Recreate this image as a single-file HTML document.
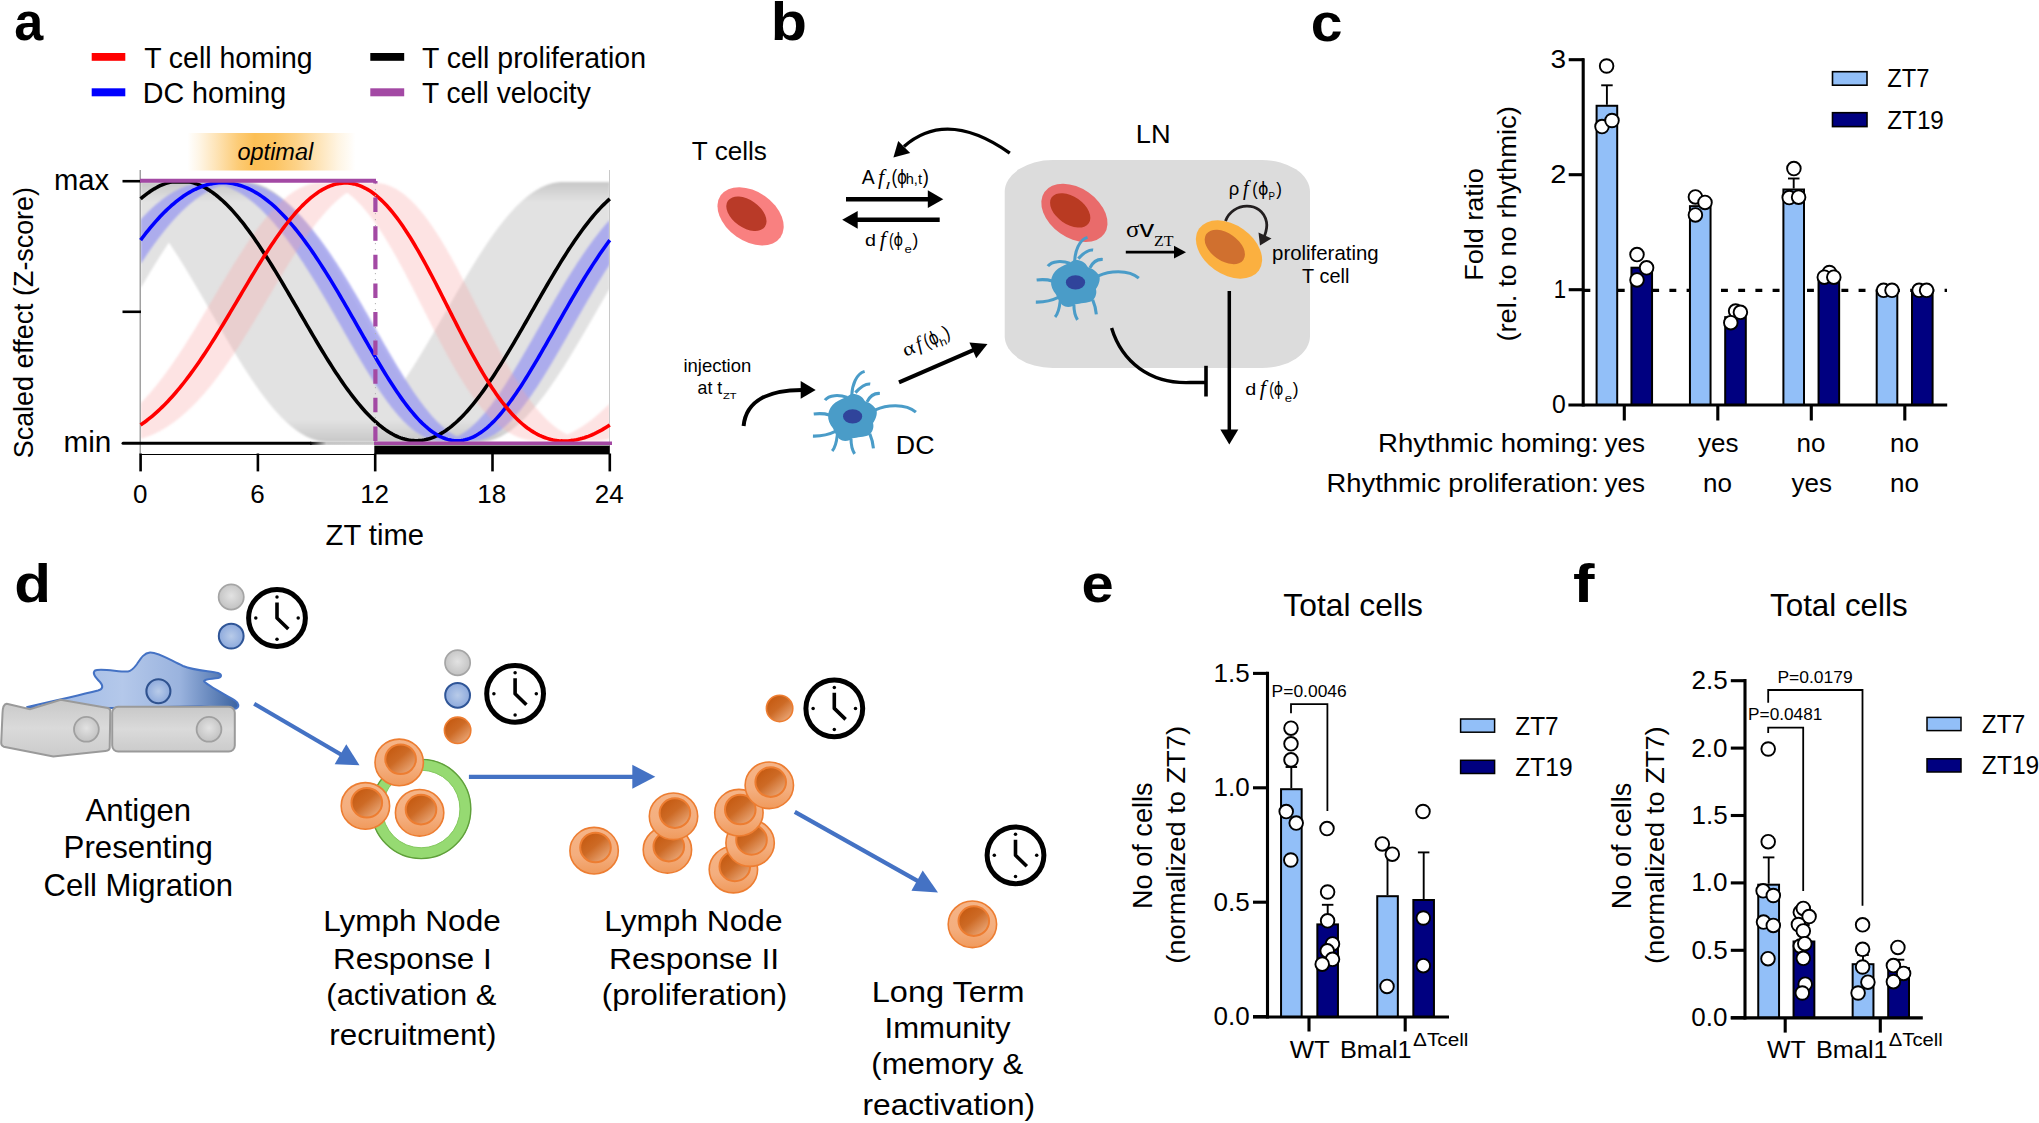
<!DOCTYPE html>
<html><head><meta charset="utf-8"><title>Figure</title>
<style>
html,body{margin:0;padding:0;background:#fff;overflow:hidden;}
svg{display:block;}
text{font-family:"Liberation Sans",Arial,sans-serif;fill:#000;}
.serif{font-family:"Liberation Serif","Times New Roman",serif;}
</style></head>
<body>
<svg width="2039" height="1123" viewBox="0 0 2039 1123">
<rect width="2039" height="1123" fill="#fff"/>
<defs><linearGradient id="optg" x1="0" x2="1" y1="0" y2="0"><stop offset="0" stop-color="#fcbf55" stop-opacity="0"/><stop offset="0.07" stop-color="#fcbf55" stop-opacity="0.15"/><stop offset="0.18" stop-color="#fcbf55" stop-opacity="0.45"/><stop offset="0.30" stop-color="#fcbf55" stop-opacity="0.8"/><stop offset="0.40" stop-color="#fcbf55" stop-opacity="1"/><stop offset="0.52" stop-color="#fcbf55" stop-opacity="0.92"/><stop offset="0.65" stop-color="#fcbf55" stop-opacity="0.7"/><stop offset="0.78" stop-color="#fcbf55" stop-opacity="0.42"/><stop offset="0.90" stop-color="#fcbf55" stop-opacity="0.16"/><stop offset="1" stop-color="#fcbf55" stop-opacity="0"/></linearGradient><filter id="soft" x="-5%" y="-5%" width="110%" height="110%"><feGaussianBlur stdDeviation="1.2"/></filter><filter id="soft2" x="-5%" y="-5%" width="110%" height="110%"><feGaussianBlur stdDeviation="0.8"/></filter><linearGradient id="minfade" x1="0" x2="1"><stop offset="0" stop-color="#000"/><stop offset="0.25" stop-color="#c6c6c6"/><stop offset="1" stop-color="#c8c8c8"/></linearGradient><clipPath id="plotclip"><rect x="140.6" y="179" width="469.2" height="266"/></clipPath></defs>
<rect x="187.5" y="133" width="168" height="37.5" fill="url(#optg)"/>
<text x="237.50" y="160.00" font-size="23" font-style="italic" textLength="75.71" lengthAdjust="spacingAndGlyphs">optimal</text>
<rect x="91.7" y="53" width="33.6" height="7.8" fill="#ff0000"/>
<rect x="91.7" y="88.3" width="33.6" height="8" fill="#0000ff"/>
<rect x="370.3" y="53" width="33.9" height="7.8" fill="#000"/>
<rect x="370.3" y="88.3" width="33.9" height="8" fill="#a349a4"/>
<text x="144.13" y="68.30" font-size="29" textLength="168.48" lengthAdjust="spacingAndGlyphs">T cell homing</text>
<text x="142.71" y="102.50" font-size="29" textLength="143.42" lengthAdjust="spacingAndGlyphs">DC homing</text>
<text x="421.93" y="68.30" font-size="29" textLength="224.10" lengthAdjust="spacingAndGlyphs">T cell proliferation</text>
<text x="421.94" y="102.50" font-size="29" textLength="168.82" lengthAdjust="spacingAndGlyphs">T cell velocity</text>
<g clip-path="url(#plotclip)">
<clipPath id="gbclip"><path d="M140.60,182.00 L141.09,182.00 L141.58,182.00 L142.07,182.00 L142.56,182.00 L143.04,182.00 L143.53,182.00 L144.02,182.00 L144.51,182.00 L145.00,182.00 L145.49,182.00 L145.98,182.00 L146.47,182.00 L146.95,182.00 L147.44,182.00 L147.93,182.00 L148.42,182.00 L148.91,182.00 L149.40,182.00 L149.89,182.00 L150.38,182.00 L150.86,182.00 L151.35,182.00 L151.84,182.00 L152.33,182.00 L152.82,182.00 L153.31,182.00 L153.80,182.00 L154.28,182.00 L154.77,182.00 L155.26,182.00 L155.75,182.00 L156.24,182.00 L156.73,182.00 L157.22,182.00 L157.71,182.00 L158.19,182.00 L158.68,182.00 L159.17,182.00 L159.66,182.00 L160.15,182.00 L160.64,182.00 L161.13,182.00 L161.62,182.00 L162.10,182.00 L162.59,182.00 L163.08,182.00 L163.57,182.00 L164.06,182.00 L164.55,182.00 L165.04,182.00 L165.53,182.00 L166.01,182.00 L166.50,182.00 L166.99,182.00 L167.48,182.00 L167.97,182.00 L168.46,182.00 L168.95,182.00 L169.44,182.00 L169.93,182.00 L170.41,182.00 L170.90,182.00 L171.39,182.00 L171.88,182.00 L172.37,182.00 L172.86,182.00 L173.35,182.00 L173.84,182.00 L174.32,182.00 L174.81,182.00 L175.30,182.00 L175.79,182.00 L176.28,182.00 L176.77,182.00 L177.26,182.00 L177.75,182.00 L178.23,182.00 L178.72,182.00 L179.21,182.00 L179.70,182.00 L180.19,182.00 L180.68,182.00 L181.17,182.00 L181.66,182.00 L182.14,182.00 L182.63,182.00 L183.12,182.00 L183.61,182.00 L184.10,182.00 L184.59,182.00 L185.08,182.00 L185.56,182.00 L186.05,182.00 L186.54,182.00 L187.03,182.00 L187.52,182.00 L188.01,182.00 L188.50,182.00 L188.99,182.00 L189.47,182.00 L189.96,182.00 L190.45,182.00 L190.94,182.00 L191.43,182.00 L191.92,182.00 L192.41,182.00 L192.90,182.00 L193.38,182.00 L193.87,182.00 L194.36,182.00 L194.85,182.00 L195.34,182.00 L195.83,182.00 L196.32,182.00 L196.81,182.00 L197.30,182.00 L197.78,182.00 L198.27,182.00 L198.76,182.00 L199.25,182.00 L199.74,182.00 L200.23,182.00 L200.72,182.00 L201.20,182.00 L201.69,182.00 L202.18,182.00 L202.67,182.00 L203.16,182.00 L203.65,182.00 L204.14,182.00 L204.63,182.00 L205.12,182.00 L205.60,182.00 L206.09,182.00 L206.58,182.00 L207.07,182.00 L207.56,182.00 L208.05,182.00 L208.54,182.00 L209.02,182.00 L209.51,182.00 L210.00,182.00 L210.49,182.00 L210.98,182.00 L211.47,182.00 L211.96,182.00 L212.45,182.00 L212.94,182.00 L213.42,182.00 L213.91,182.00 L214.40,182.00 L214.89,182.00 L215.38,182.00 L215.87,182.00 L216.36,182.00 L216.84,182.00 L217.33,182.00 L217.82,182.00 L218.31,182.00 L218.80,182.00 L219.29,182.00 L219.78,182.00 L220.27,182.00 L220.75,182.00 L221.24,182.00 L221.73,182.00 L222.22,182.00 L222.71,182.00 L223.20,182.00 L223.69,182.00 L224.18,182.00 L224.66,182.00 L225.15,182.00 L225.64,182.00 L226.13,182.00 L226.62,182.00 L227.11,182.00 L227.60,182.00 L228.09,182.00 L228.57,182.00 L229.06,182.00 L229.55,182.00 L230.04,182.00 L230.53,182.00 L231.02,182.00 L231.51,182.00 L232.00,182.00 L232.49,182.00 L232.97,182.00 L233.46,182.00 L233.95,182.00 L234.44,182.00 L234.93,182.00 L235.42,182.00 L235.91,182.00 L236.40,182.00 L236.88,182.00 L237.37,182.00 L237.86,182.00 L238.35,182.00 L238.84,182.00 L239.33,182.00 L239.82,182.00 L240.31,182.00 L240.79,182.00 L241.28,182.00 L241.77,182.00 L242.26,182.00 L242.75,182.00 L243.24,182.00 L243.73,182.00 L244.22,182.00 L244.70,182.00 L245.19,182.01 L245.68,182.03 L246.17,182.04 L246.66,182.07 L247.15,182.10 L247.64,182.14 L248.12,182.18 L248.61,182.23 L249.10,182.28 L249.59,182.34 L250.08,182.40 L250.57,182.47 L251.06,182.55 L251.55,182.63 L252.03,182.71 L252.52,182.80 L253.01,182.90 L253.50,183.00 L253.99,183.11 L254.48,183.23 L254.97,183.35 L255.46,183.47 L255.94,183.60 L256.43,183.74 L256.92,183.88 L257.41,184.02 L257.90,184.18 L258.39,184.33 L258.88,184.50 L259.37,184.67 L259.86,184.84 L260.34,185.02 L260.83,185.21 L261.32,185.40 L261.81,185.59 L262.30,185.79 L262.79,186.00 L263.28,186.21 L263.76,186.43 L264.25,186.65 L264.74,186.88 L265.23,187.11 L265.72,187.35 L266.21,187.60 L266.70,187.85 L267.19,188.10 L267.68,188.36 L268.16,188.63 L268.65,188.90 L269.14,189.18 L269.63,189.46 L270.12,189.74 L270.61,190.04 L271.10,190.33 L271.59,190.63 L272.07,190.94 L272.56,191.25 L273.05,191.57 L273.54,191.90 L274.03,192.22 L274.52,192.56 L275.01,192.90 L275.50,193.24 L275.98,193.59 L276.47,193.94 L276.96,194.30 L277.45,194.66 L277.94,195.03 L278.43,195.41 L278.92,195.79 L279.40,196.17 L279.89,196.56 L280.38,196.95 L280.87,197.35 L281.36,197.75 L281.85,198.16 L282.34,198.58 L282.83,198.99 L283.32,199.42 L283.80,199.84 L284.29,200.28 L284.78,200.71 L285.27,201.16 L285.76,201.60 L286.25,202.06 L286.74,202.51 L287.23,202.97 L287.71,203.44 L288.20,203.91 L288.69,204.38 L289.18,204.86 L289.67,205.35 L290.16,205.84 L290.65,206.33 L291.13,206.83 L291.62,207.33 L292.11,207.84 L292.60,208.35 L293.09,208.86 L293.58,209.38 L294.07,209.91 L294.56,210.44 L295.05,210.97 L295.53,211.51 L296.02,212.05 L296.51,212.60 L297.00,213.15 L297.49,213.70 L297.98,214.26 L298.47,214.82 L298.95,215.39 L299.44,215.96 L299.93,216.54 L300.42,217.12 L300.91,217.70 L301.40,218.29 L301.89,218.88 L302.38,219.48 L302.87,220.08 L303.35,220.68 L303.84,221.29 L304.33,221.90 L304.82,222.51 L305.31,223.13 L305.80,223.76 L306.29,224.38 L306.77,225.01 L307.26,225.65 L307.75,226.29 L308.24,226.93 L308.73,227.57 L309.22,228.22 L309.71,228.87 L310.20,229.53 L310.69,230.19 L311.17,230.85 L311.66,231.52 L312.15,232.19 L312.64,232.86 L313.13,233.54 L313.62,234.22 L314.11,234.90 L314.60,235.59 L315.08,236.28 L315.57,236.97 L316.06,237.67 L316.55,238.37 L317.04,239.07 L317.53,239.78 L318.02,240.48 L318.50,241.20 L318.99,241.91 L319.48,242.63 L319.97,243.35 L320.46,244.08 L320.95,244.80 L321.44,245.53 L321.93,246.26 L322.42,247.00 L322.90,247.74 L323.39,248.48 L323.88,249.22 L324.37,249.97 L324.86,250.72 L325.35,251.47 L325.84,252.22 L326.32,252.98 L326.81,253.74 L327.30,254.50 L327.79,255.27 L328.28,256.03 L328.77,256.80 L329.26,257.57 L329.75,258.35 L330.24,259.12 L330.72,259.90 L331.21,260.68 L331.70,261.47 L332.19,262.25 L332.68,263.04 L333.17,263.83 L333.66,264.62 L334.14,265.41 L334.63,266.21 L335.12,267.00 L335.61,267.80 L336.10,268.61 L336.59,269.41 L337.08,270.21 L337.57,271.02 L338.06,271.83 L338.54,272.64 L339.03,273.45 L339.52,274.26 L340.01,275.08 L340.50,275.89 L340.99,276.71 L341.48,277.53 L341.97,278.35 L342.45,279.18 L342.94,280.00 L343.43,280.83 L343.92,281.65 L344.41,282.48 L344.90,283.31 L345.39,284.14 L345.88,284.97 L346.36,285.80 L346.85,286.64 L347.34,287.47 L347.83,288.31 L348.32,289.15 L348.81,289.98 L349.30,290.82 L349.79,291.66 L350.27,292.50 L350.76,293.35 L351.25,294.19 L351.74,295.03 L352.23,295.88 L352.72,296.72 L353.21,297.57 L353.70,298.41 L354.18,299.26 L354.67,300.10 L355.16,300.95 L355.65,301.80 L356.14,302.65 L356.63,303.50 L357.12,304.35 L357.61,305.20 L358.09,306.05 L358.58,306.90 L359.07,307.75 L359.56,308.60 L360.05,309.45 L360.54,310.30 L361.03,311.15 L361.51,312.00 L362.00,312.85 L362.49,313.70 L362.98,314.55 L363.47,315.40 L363.96,316.25 L364.45,317.10 L364.94,317.95 L365.43,318.80 L365.91,319.65 L366.40,320.50 L366.89,321.35 L367.38,322.20 L367.87,323.05 L368.36,323.90 L368.85,324.74 L369.34,325.59 L369.82,326.43 L370.31,327.28 L370.80,328.12 L371.29,328.97 L371.78,329.81 L372.27,330.65 L372.76,331.50 L373.25,332.34 L373.73,333.18 L374.22,334.02 L374.71,334.85 L375.20,335.69 L375.69,336.53 L376.18,337.36 L376.67,338.20 L377.16,339.03 L377.64,339.86 L378.13,340.69 L378.62,341.52 L379.11,342.35 L379.60,343.17 L380.09,344.00 L380.58,344.82 L381.07,345.65 L381.55,346.47 L382.04,347.29 L382.53,348.11 L383.02,348.92 L383.51,349.74 L384.00,350.55 L384.49,351.36 L384.98,352.17 L385.46,352.98 L385.95,353.79 L386.44,354.59 L386.93,355.39 L387.42,356.20 L387.91,357.00 L388.40,357.79 L388.88,358.59 L389.37,359.38 L389.86,360.17 L390.35,360.96 L390.84,361.75 L391.33,362.53 L391.82,363.32 L392.31,364.10 L392.80,364.88 L393.28,365.65 L393.77,366.43 L394.26,367.20 L394.75,367.97 L395.24,368.73 L395.73,369.50 L396.22,370.26 L396.71,371.02 L397.19,371.78 L397.68,372.53 L398.17,373.28 L398.66,374.03 L399.15,374.78 L399.64,375.52 L400.13,376.26 L400.62,377.00 L401.10,377.74 L401.59,378.47 L402.08,379.20 L402.57,379.92 L403.06,380.65 L403.55,381.37 L404.04,380.65 L404.52,379.92 L405.01,379.20 L405.50,378.47 L405.99,377.74 L406.48,377.00 L406.97,376.26 L407.46,375.52 L407.95,374.78 L408.44,374.03 L408.92,373.28 L409.41,372.53 L409.90,371.78 L410.39,371.02 L410.88,370.26 L411.37,369.50 L411.86,368.73 L412.35,367.97 L412.83,367.20 L413.32,366.43 L413.81,365.65 L414.30,364.88 L414.79,364.10 L415.28,363.32 L415.77,362.53 L416.25,361.75 L416.74,360.96 L417.23,360.17 L417.72,359.38 L418.21,358.59 L418.70,357.79 L419.19,357.00 L419.68,356.20 L420.16,355.39 L420.65,354.59 L421.14,353.79 L421.63,352.98 L422.12,352.17 L422.61,351.36 L423.10,350.55 L423.59,349.74 L424.08,348.92 L424.56,348.11 L425.05,347.29 L425.54,346.47 L426.03,345.65 L426.52,344.82 L427.01,344.00 L427.50,343.17 L427.99,342.35 L428.47,341.52 L428.96,340.69 L429.45,339.86 L429.94,339.03 L430.43,338.20 L430.92,337.36 L431.41,336.53 L431.89,335.69 L432.38,334.85 L432.87,334.02 L433.36,333.18 L433.85,332.34 L434.34,331.50 L434.83,330.65 L435.32,329.81 L435.81,328.97 L436.29,328.12 L436.78,327.28 L437.27,326.43 L437.76,325.59 L438.25,324.74 L438.74,323.90 L439.23,323.05 L439.72,322.20 L440.20,321.35 L440.69,320.50 L441.18,319.65 L441.67,318.80 L442.16,317.95 L442.65,317.10 L443.14,316.25 L443.62,315.40 L444.11,314.55 L444.60,313.70 L445.09,312.85 L445.58,312.00 L446.07,311.15 L446.56,310.30 L447.05,309.45 L447.54,308.60 L448.02,307.75 L448.51,306.90 L449.00,306.05 L449.49,305.20 L449.98,304.35 L450.47,303.50 L450.96,302.65 L451.45,301.80 L451.93,300.95 L452.42,300.10 L452.91,299.26 L453.40,298.41 L453.89,297.57 L454.38,296.72 L454.87,295.88 L455.36,295.03 L455.84,294.19 L456.33,293.35 L456.82,292.50 L457.31,291.66 L457.80,290.82 L458.29,289.98 L458.78,289.15 L459.26,288.31 L459.75,287.47 L460.24,286.64 L460.73,285.80 L461.22,284.97 L461.71,284.14 L462.20,283.31 L462.69,282.48 L463.17,281.65 L463.66,280.83 L464.15,280.00 L464.64,279.18 L465.13,278.35 L465.62,277.53 L466.11,276.71 L466.60,275.89 L467.09,275.08 L467.57,274.26 L468.06,273.45 L468.55,272.64 L469.04,271.83 L469.53,271.02 L470.02,270.21 L470.51,269.41 L471.00,268.61 L471.48,267.80 L471.97,267.00 L472.46,266.21 L472.95,265.41 L473.44,264.62 L473.93,263.83 L474.42,263.04 L474.91,262.25 L475.39,261.47 L475.88,260.68 L476.37,259.90 L476.86,259.12 L477.35,258.35 L477.84,257.57 L478.33,256.80 L478.82,256.03 L479.30,255.27 L479.79,254.50 L480.28,253.74 L480.77,252.98 L481.26,252.22 L481.75,251.47 L482.24,250.72 L482.73,249.97 L483.21,249.22 L483.70,248.48 L484.19,247.74 L484.68,247.00 L485.17,246.26 L485.66,245.53 L486.15,244.80 L486.63,244.08 L487.12,243.35 L487.61,242.63 L488.10,241.91 L488.59,241.20 L489.08,240.48 L489.57,239.78 L490.06,239.07 L490.55,238.37 L491.03,237.67 L491.52,236.97 L492.01,236.28 L492.50,235.59 L492.99,234.90 L493.48,234.22 L493.97,233.54 L494.46,232.86 L494.94,232.19 L495.43,231.52 L495.92,230.85 L496.41,230.19 L496.90,229.53 L497.39,228.87 L497.88,228.22 L498.37,227.57 L498.85,226.93 L499.34,226.29 L499.83,225.65 L500.32,225.01 L500.81,224.38 L501.30,223.76 L501.79,223.13 L502.27,222.51 L502.76,221.90 L503.25,221.29 L503.74,220.68 L504.23,220.08 L504.72,219.48 L505.21,218.88 L505.70,218.29 L506.18,217.70 L506.67,217.12 L507.16,216.54 L507.65,215.96 L508.14,215.39 L508.63,214.82 L509.12,214.26 L509.61,213.70 L510.10,213.15 L510.58,212.60 L511.07,212.05 L511.56,211.51 L512.05,210.97 L512.54,210.44 L513.03,209.91 L513.52,209.38 L514.00,208.86 L514.49,208.35 L514.98,207.84 L515.47,207.33 L515.96,206.83 L516.45,206.33 L516.94,205.84 L517.43,205.35 L517.92,204.86 L518.40,204.38 L518.89,203.91 L519.38,203.44 L519.87,202.97 L520.36,202.51 L520.85,202.06 L521.34,201.60 L521.83,201.16 L522.31,200.71 L522.80,200.28 L523.29,199.84 L523.78,199.42 L524.27,198.99 L524.76,198.58 L525.25,198.16 L525.74,197.75 L526.22,197.35 L526.71,196.95 L527.20,196.56 L527.69,196.17 L528.18,195.79 L528.67,195.41 L529.16,195.03 L529.65,194.66 L530.13,194.30 L530.62,193.94 L531.11,193.59 L531.60,193.24 L532.09,192.90 L532.58,192.56 L533.07,192.22 L533.56,191.90 L534.04,191.57 L534.53,191.25 L535.02,190.94 L535.51,190.63 L536.00,190.33 L536.49,190.04 L536.98,189.74 L537.47,189.46 L537.95,189.18 L538.44,188.90 L538.93,188.63 L539.42,188.36 L539.91,188.10 L540.40,187.85 L540.89,187.60 L541.38,187.35 L541.86,187.11 L542.35,186.88 L542.84,186.65 L543.33,186.43 L543.82,186.21 L544.31,186.00 L544.80,185.79 L545.29,185.59 L545.77,185.40 L546.26,185.21 L546.75,185.02 L547.24,184.84 L547.73,184.67 L548.22,184.50 L548.71,184.33 L549.20,184.18 L549.68,184.02 L550.17,183.88 L550.66,183.74 L551.15,183.60 L551.64,183.47 L552.13,183.35 L552.62,183.23 L553.11,183.11 L553.59,183.00 L554.08,182.90 L554.57,182.80 L555.06,182.71 L555.55,182.63 L556.04,182.55 L556.53,182.47 L557.01,182.40 L557.50,182.34 L557.99,182.28 L558.48,182.23 L558.97,182.18 L559.46,182.14 L559.95,182.10 L560.44,182.07 L560.92,182.04 L561.41,182.03 L561.90,182.01 L562.39,182.00 L562.88,182.00 L563.37,182.00 L563.86,182.00 L564.35,182.00 L564.84,182.00 L565.32,182.00 L565.81,182.00 L566.30,182.00 L566.79,182.00 L567.28,182.00 L567.77,182.00 L568.26,182.00 L568.75,182.00 L569.23,182.00 L569.72,182.00 L570.21,182.00 L570.70,182.00 L571.19,182.00 L571.68,182.00 L572.17,182.00 L572.66,182.00 L573.14,182.00 L573.63,182.00 L574.12,182.00 L574.61,182.00 L575.10,182.00 L575.59,182.00 L576.08,182.00 L576.57,182.00 L577.05,182.00 L577.54,182.00 L578.03,182.00 L578.52,182.00 L579.01,182.00 L579.50,182.00 L579.99,182.00 L580.48,182.00 L580.96,182.00 L581.45,182.00 L581.94,182.00 L582.43,182.00 L582.92,182.00 L583.41,182.00 L583.90,182.00 L584.39,182.00 L584.87,182.00 L585.36,182.00 L585.85,182.00 L586.34,182.00 L586.83,182.00 L587.32,182.00 L587.81,182.00 L588.30,182.00 L588.78,182.00 L589.27,182.00 L589.76,182.00 L590.25,182.00 L590.74,182.00 L591.23,182.00 L591.72,182.00 L592.21,182.00 L592.69,182.00 L593.18,182.00 L593.67,182.00 L594.16,182.00 L594.65,182.00 L595.14,182.00 L595.63,182.00 L596.12,182.00 L596.60,182.00 L597.09,182.00 L597.58,182.00 L598.07,182.00 L598.56,182.00 L599.05,182.00 L599.54,182.00 L600.02,182.00 L600.51,182.00 L601.00,182.00 L601.49,182.00 L601.98,182.00 L602.47,182.00 L602.96,182.00 L603.45,182.00 L603.94,182.00 L604.42,182.00 L604.91,182.00 L605.40,182.00 L605.89,182.00 L606.38,182.00 L606.87,182.00 L607.36,182.00 L607.85,182.00 L608.33,182.00 L608.82,182.00 L609.31,182.00 L609.80,182.00 L609.80,288.31 L609.31,289.15 L608.82,289.98 L608.33,290.82 L607.85,291.66 L607.36,292.50 L606.87,293.35 L606.38,294.19 L605.89,295.03 L605.40,295.88 L604.91,296.72 L604.42,297.57 L603.94,298.41 L603.45,299.26 L602.96,300.10 L602.47,300.95 L601.98,301.80 L601.49,302.65 L601.00,303.50 L600.51,304.35 L600.02,305.20 L599.54,306.05 L599.05,306.90 L598.56,307.75 L598.07,308.60 L597.58,309.45 L597.09,310.30 L596.60,311.15 L596.12,312.00 L595.63,312.85 L595.14,313.70 L594.65,314.55 L594.16,315.40 L593.67,316.25 L593.18,317.10 L592.69,317.95 L592.21,318.80 L591.72,319.65 L591.23,320.50 L590.74,321.35 L590.25,322.20 L589.76,323.05 L589.27,323.90 L588.78,324.74 L588.30,325.59 L587.81,326.43 L587.32,327.28 L586.83,328.12 L586.34,328.97 L585.85,329.81 L585.36,330.65 L584.87,331.50 L584.39,332.34 L583.90,333.18 L583.41,334.02 L582.92,334.85 L582.43,335.69 L581.94,336.53 L581.45,337.36 L580.96,338.20 L580.48,339.03 L579.99,339.86 L579.50,340.69 L579.01,341.52 L578.52,342.35 L578.03,343.17 L577.54,344.00 L577.05,344.82 L576.57,345.65 L576.08,346.47 L575.59,347.29 L575.10,348.11 L574.61,348.92 L574.12,349.74 L573.63,350.55 L573.14,351.36 L572.66,352.17 L572.17,352.98 L571.68,353.79 L571.19,354.59 L570.70,355.39 L570.21,356.20 L569.72,357.00 L569.23,357.79 L568.75,358.59 L568.26,359.38 L567.77,360.17 L567.28,360.96 L566.79,361.75 L566.30,362.53 L565.81,363.32 L565.32,364.10 L564.84,364.88 L564.35,365.65 L563.86,366.43 L563.37,367.20 L562.88,367.97 L562.39,368.73 L561.90,369.50 L561.41,370.26 L560.92,371.02 L560.44,371.78 L559.95,372.53 L559.46,373.28 L558.97,374.03 L558.48,374.78 L557.99,375.52 L557.50,376.26 L557.01,377.00 L556.53,377.74 L556.04,378.47 L555.55,379.20 L555.06,379.92 L554.57,380.65 L554.08,381.37 L553.59,382.09 L553.11,382.80 L552.62,383.52 L552.13,384.22 L551.64,384.93 L551.15,385.63 L550.66,386.33 L550.17,387.03 L549.68,387.72 L549.20,388.41 L548.71,389.10 L548.22,389.78 L547.73,390.46 L547.24,391.14 L546.75,391.81 L546.26,392.48 L545.77,393.15 L545.29,393.81 L544.80,394.47 L544.31,395.13 L543.82,395.78 L543.33,396.43 L542.84,397.07 L542.35,397.71 L541.86,398.35 L541.38,398.99 L540.89,399.62 L540.40,400.24 L539.91,400.87 L539.42,401.49 L538.93,402.10 L538.44,402.71 L537.95,403.32 L537.47,403.92 L536.98,404.52 L536.49,405.12 L536.00,405.71 L535.51,406.30 L535.02,406.88 L534.53,407.46 L534.04,408.04 L533.56,408.61 L533.07,409.18 L532.58,409.74 L532.09,410.30 L531.60,410.85 L531.11,411.40 L530.62,411.95 L530.13,412.49 L529.65,413.03 L529.16,413.56 L528.67,414.09 L528.18,414.62 L527.69,415.14 L527.20,415.65 L526.71,416.16 L526.22,416.67 L525.74,417.17 L525.25,417.67 L524.76,418.16 L524.27,418.65 L523.78,419.14 L523.29,419.62 L522.80,420.09 L522.31,420.56 L521.83,421.03 L521.34,421.49 L520.85,421.94 L520.36,422.40 L519.87,422.84 L519.38,423.29 L518.89,423.72 L518.40,424.16 L517.92,424.58 L517.43,425.01 L516.94,425.42 L516.45,425.84 L515.96,426.25 L515.47,426.65 L514.98,427.05 L514.49,427.44 L514.00,427.83 L513.52,428.21 L513.03,428.59 L512.54,428.97 L512.05,429.34 L511.56,429.70 L511.07,430.06 L510.58,430.41 L510.10,430.76 L509.61,431.10 L509.12,431.44 L508.63,431.78 L508.14,432.10 L507.65,432.43 L507.16,432.75 L506.67,433.06 L506.18,433.37 L505.70,433.67 L505.21,433.96 L504.72,434.26 L504.23,434.54 L503.74,434.82 L503.25,435.10 L502.76,435.37 L502.27,435.64 L501.79,435.90 L501.30,436.15 L500.81,436.40 L500.32,436.65 L499.83,436.89 L499.34,437.12 L498.85,437.35 L498.37,437.57 L497.88,437.79 L497.39,438.00 L496.90,438.21 L496.41,438.41 L495.92,438.60 L495.43,438.79 L494.94,438.98 L494.46,439.16 L493.97,439.33 L493.48,439.50 L492.99,439.67 L492.50,439.82 L492.01,439.98 L491.52,440.12 L491.03,440.26 L490.55,440.40 L490.06,440.53 L489.57,440.65 L489.08,440.77 L488.59,440.89 L488.10,441.00 L487.61,441.10 L487.12,441.20 L486.63,441.29 L486.15,441.37 L485.66,441.45 L485.17,441.53 L484.68,441.60 L484.19,441.66 L483.70,441.72 L483.21,441.77 L482.73,441.82 L482.24,441.86 L481.75,441.90 L481.26,441.93 L480.77,441.96 L480.28,441.97 L479.79,441.99 L479.30,442.00 L478.82,442.00 L478.33,442.00 L477.84,442.00 L477.35,442.00 L476.86,442.00 L476.37,442.00 L475.88,442.00 L475.39,442.00 L474.91,442.00 L474.42,442.00 L473.93,442.00 L473.44,442.00 L472.95,442.00 L472.46,442.00 L471.97,442.00 L471.48,442.00 L471.00,442.00 L470.51,442.00 L470.02,442.00 L469.53,442.00 L469.04,442.00 L468.55,442.00 L468.06,442.00 L467.57,442.00 L467.09,442.00 L466.60,442.00 L466.11,442.00 L465.62,442.00 L465.13,442.00 L464.64,442.00 L464.15,442.00 L463.66,442.00 L463.17,442.00 L462.69,442.00 L462.20,442.00 L461.71,442.00 L461.22,442.00 L460.73,442.00 L460.24,442.00 L459.75,442.00 L459.26,442.00 L458.78,442.00 L458.29,442.00 L457.80,442.00 L457.31,442.00 L456.82,442.00 L456.33,442.00 L455.84,442.00 L455.36,442.00 L454.87,442.00 L454.38,442.00 L453.89,442.00 L453.40,442.00 L452.91,442.00 L452.42,442.00 L451.93,442.00 L451.45,442.00 L450.96,442.00 L450.47,442.00 L449.98,442.00 L449.49,442.00 L449.00,442.00 L448.51,442.00 L448.02,442.00 L447.54,442.00 L447.05,442.00 L446.56,442.00 L446.07,442.00 L445.58,442.00 L445.09,442.00 L444.60,442.00 L444.11,442.00 L443.62,442.00 L443.14,442.00 L442.65,442.00 L442.16,442.00 L441.67,442.00 L441.18,442.00 L440.69,442.00 L440.20,442.00 L439.72,442.00 L439.23,442.00 L438.74,442.00 L438.25,442.00 L437.76,442.00 L437.27,442.00 L436.78,442.00 L436.29,442.00 L435.81,442.00 L435.32,442.00 L434.83,442.00 L434.34,442.00 L433.85,442.00 L433.36,442.00 L432.87,442.00 L432.38,442.00 L431.89,442.00 L431.41,442.00 L430.92,442.00 L430.43,442.00 L429.94,442.00 L429.45,442.00 L428.96,442.00 L428.47,442.00 L427.99,442.00 L427.50,442.00 L427.01,442.00 L426.52,442.00 L426.03,442.00 L425.54,442.00 L425.05,442.00 L424.56,442.00 L424.08,442.00 L423.59,442.00 L423.10,442.00 L422.61,442.00 L422.12,442.00 L421.63,442.00 L421.14,442.00 L420.65,442.00 L420.16,442.00 L419.68,442.00 L419.19,442.00 L418.70,442.00 L418.21,442.00 L417.72,442.00 L417.23,442.00 L416.74,442.00 L416.25,442.00 L415.77,442.00 L415.28,442.00 L414.79,442.00 L414.30,442.00 L413.81,442.00 L413.32,442.00 L412.83,442.00 L412.35,442.00 L411.86,442.00 L411.37,442.00 L410.88,442.00 L410.39,442.00 L409.90,442.00 L409.41,442.00 L408.92,442.00 L408.44,442.00 L407.95,442.00 L407.46,442.00 L406.97,442.00 L406.48,442.00 L405.99,442.00 L405.50,442.00 L405.01,442.00 L404.52,442.00 L404.04,442.00 L403.55,442.00 L403.06,442.00 L402.57,442.00 L402.08,442.00 L401.59,442.00 L401.10,442.00 L400.62,442.00 L400.13,442.00 L399.64,442.00 L399.15,442.00 L398.66,442.00 L398.17,442.00 L397.68,442.00 L397.19,442.00 L396.71,442.00 L396.22,442.00 L395.73,442.00 L395.24,442.00 L394.75,442.00 L394.26,442.00 L393.77,442.00 L393.28,442.00 L392.80,442.00 L392.31,442.00 L391.82,442.00 L391.33,442.00 L390.84,442.00 L390.35,442.00 L389.86,442.00 L389.37,442.00 L388.88,442.00 L388.40,442.00 L387.91,442.00 L387.42,442.00 L386.93,442.00 L386.44,442.00 L385.95,442.00 L385.46,442.00 L384.98,442.00 L384.49,442.00 L384.00,442.00 L383.51,442.00 L383.02,442.00 L382.53,442.00 L382.04,442.00 L381.55,442.00 L381.07,442.00 L380.58,442.00 L380.09,442.00 L379.60,442.00 L379.11,442.00 L378.62,442.00 L378.13,442.00 L377.64,442.00 L377.16,442.00 L376.67,442.00 L376.18,442.00 L375.69,442.00 L375.20,442.00 L374.71,442.00 L374.22,442.00 L373.73,442.00 L373.25,442.00 L372.76,442.00 L372.27,442.00 L371.78,442.00 L371.29,442.00 L370.80,442.00 L370.31,442.00 L369.82,442.00 L369.34,442.00 L368.85,442.00 L368.36,442.00 L367.87,442.00 L367.38,442.00 L366.89,442.00 L366.40,442.00 L365.91,442.00 L365.43,442.00 L364.94,442.00 L364.45,442.00 L363.96,442.00 L363.47,442.00 L362.98,442.00 L362.49,442.00 L362.00,442.00 L361.51,442.00 L361.03,442.00 L360.54,442.00 L360.05,442.00 L359.56,442.00 L359.07,442.00 L358.58,442.00 L358.09,442.00 L357.61,442.00 L357.12,442.00 L356.63,442.00 L356.14,442.00 L355.65,442.00 L355.16,442.00 L354.67,442.00 L354.18,442.00 L353.70,442.00 L353.21,442.00 L352.72,442.00 L352.23,442.00 L351.74,442.00 L351.25,442.00 L350.76,442.00 L350.27,442.00 L349.79,442.00 L349.30,442.00 L348.81,442.00 L348.32,442.00 L347.83,442.00 L347.34,442.00 L346.85,442.00 L346.36,442.00 L345.88,442.00 L345.39,442.00 L344.90,442.00 L344.41,442.00 L343.92,442.00 L343.43,442.00 L342.94,442.00 L342.45,442.00 L341.97,442.00 L341.48,442.00 L340.99,442.00 L340.50,442.00 L340.01,442.00 L339.52,442.00 L339.03,442.00 L338.54,442.00 L338.06,442.00 L337.57,442.00 L337.08,442.00 L336.59,442.00 L336.10,442.00 L335.61,442.00 L335.12,442.00 L334.63,442.00 L334.14,442.00 L333.66,442.00 L333.17,442.00 L332.68,442.00 L332.19,442.00 L331.70,442.00 L331.21,442.00 L330.72,442.00 L330.24,442.00 L329.75,442.00 L329.26,442.00 L328.77,442.00 L328.28,442.00 L327.79,442.00 L327.30,441.99 L326.81,441.97 L326.32,441.96 L325.84,441.93 L325.35,441.90 L324.86,441.86 L324.37,441.82 L323.88,441.77 L323.39,441.72 L322.90,441.66 L322.42,441.60 L321.93,441.53 L321.44,441.45 L320.95,441.37 L320.46,441.29 L319.97,441.20 L319.48,441.10 L318.99,441.00 L318.50,440.89 L318.02,440.77 L317.53,440.65 L317.04,440.53 L316.55,440.40 L316.06,440.26 L315.57,440.12 L315.08,439.98 L314.60,439.82 L314.11,439.67 L313.62,439.50 L313.13,439.33 L312.64,439.16 L312.15,438.98 L311.66,438.79 L311.17,438.60 L310.69,438.41 L310.20,438.21 L309.71,438.00 L309.22,437.79 L308.73,437.57 L308.24,437.35 L307.75,437.12 L307.26,436.89 L306.77,436.65 L306.29,436.40 L305.80,436.15 L305.31,435.90 L304.82,435.64 L304.33,435.37 L303.84,435.10 L303.35,434.82 L302.87,434.54 L302.38,434.26 L301.89,433.96 L301.40,433.67 L300.91,433.37 L300.42,433.06 L299.93,432.75 L299.44,432.43 L298.95,432.10 L298.47,431.78 L297.98,431.44 L297.49,431.10 L297.00,430.76 L296.51,430.41 L296.02,430.06 L295.53,429.70 L295.05,429.34 L294.56,428.97 L294.07,428.59 L293.58,428.21 L293.09,427.83 L292.60,427.44 L292.11,427.05 L291.62,426.65 L291.13,426.25 L290.65,425.84 L290.16,425.42 L289.67,425.01 L289.18,424.58 L288.69,424.16 L288.20,423.72 L287.71,423.29 L287.23,422.84 L286.74,422.40 L286.25,421.94 L285.76,421.49 L285.27,421.03 L284.78,420.56 L284.29,420.09 L283.80,419.62 L283.32,419.14 L282.83,418.65 L282.34,418.16 L281.85,417.67 L281.36,417.17 L280.87,416.67 L280.38,416.16 L279.89,415.65 L279.40,415.14 L278.92,414.62 L278.43,414.09 L277.94,413.56 L277.45,413.03 L276.96,412.49 L276.47,411.95 L275.98,411.40 L275.50,410.85 L275.01,410.30 L274.52,409.74 L274.03,409.18 L273.54,408.61 L273.05,408.04 L272.56,407.46 L272.07,406.88 L271.59,406.30 L271.10,405.71 L270.61,405.12 L270.12,404.52 L269.63,403.92 L269.14,403.32 L268.65,402.71 L268.16,402.10 L267.68,401.49 L267.19,400.87 L266.70,400.24 L266.21,399.62 L265.72,398.99 L265.23,398.35 L264.74,397.71 L264.25,397.07 L263.76,396.43 L263.28,395.78 L262.79,395.13 L262.30,394.47 L261.81,393.81 L261.32,393.15 L260.83,392.48 L260.34,391.81 L259.86,391.14 L259.37,390.46 L258.88,389.78 L258.39,389.10 L257.90,388.41 L257.41,387.72 L256.92,387.03 L256.43,386.33 L255.94,385.63 L255.46,384.93 L254.97,384.22 L254.48,383.52 L253.99,382.80 L253.50,382.09 L253.01,381.37 L252.52,380.65 L252.03,379.92 L251.55,379.20 L251.06,378.47 L250.57,377.74 L250.08,377.00 L249.59,376.26 L249.10,375.52 L248.61,374.78 L248.12,374.03 L247.64,373.28 L247.15,372.53 L246.66,371.78 L246.17,371.02 L245.68,370.26 L245.19,369.50 L244.70,368.73 L244.22,367.97 L243.73,367.20 L243.24,366.43 L242.75,365.65 L242.26,364.88 L241.77,364.10 L241.28,363.32 L240.79,362.53 L240.31,361.75 L239.82,360.96 L239.33,360.17 L238.84,359.38 L238.35,358.59 L237.86,357.79 L237.37,357.00 L236.88,356.20 L236.40,355.39 L235.91,354.59 L235.42,353.79 L234.93,352.98 L234.44,352.17 L233.95,351.36 L233.46,350.55 L232.97,349.74 L232.49,348.92 L232.00,348.11 L231.51,347.29 L231.02,346.47 L230.53,345.65 L230.04,344.82 L229.55,344.00 L229.06,343.17 L228.57,342.35 L228.09,341.52 L227.60,340.69 L227.11,339.86 L226.62,339.03 L226.13,338.20 L225.64,337.36 L225.15,336.53 L224.66,335.69 L224.18,334.85 L223.69,334.02 L223.20,333.18 L222.71,332.34 L222.22,331.50 L221.73,330.65 L221.24,329.81 L220.75,328.97 L220.27,328.12 L219.78,327.28 L219.29,326.43 L218.80,325.59 L218.31,324.74 L217.82,323.90 L217.33,323.05 L216.84,322.20 L216.36,321.35 L215.87,320.50 L215.38,319.65 L214.89,318.80 L214.40,317.95 L213.91,317.10 L213.42,316.25 L212.94,315.40 L212.45,314.55 L211.96,313.70 L211.47,312.85 L210.98,312.00 L210.49,311.15 L210.00,310.30 L209.51,309.45 L209.02,308.60 L208.54,307.75 L208.05,306.90 L207.56,306.05 L207.07,305.20 L206.58,304.35 L206.09,303.50 L205.60,302.65 L205.12,301.80 L204.63,300.95 L204.14,300.10 L203.65,299.26 L203.16,298.41 L202.67,297.57 L202.18,296.72 L201.69,295.88 L201.20,295.03 L200.72,294.19 L200.23,293.35 L199.74,292.50 L199.25,291.66 L198.76,290.82 L198.27,289.98 L197.78,289.15 L197.30,288.31 L196.81,287.47 L196.32,286.64 L195.83,285.80 L195.34,284.97 L194.85,284.14 L194.36,283.31 L193.87,282.48 L193.38,281.65 L192.90,280.83 L192.41,280.00 L191.92,279.18 L191.43,278.35 L190.94,277.53 L190.45,276.71 L189.96,275.89 L189.47,275.08 L188.99,274.26 L188.50,273.45 L188.01,272.64 L187.52,271.83 L187.03,271.02 L186.54,270.21 L186.05,269.41 L185.56,268.61 L185.08,267.80 L184.59,267.00 L184.10,266.21 L183.61,265.41 L183.12,264.62 L182.63,263.83 L182.14,263.04 L181.66,262.25 L181.17,261.47 L180.68,260.68 L180.19,259.90 L179.70,259.12 L179.21,258.35 L178.72,257.57 L178.23,256.80 L177.75,256.03 L177.26,255.27 L176.77,254.50 L176.28,253.74 L175.79,252.98 L175.30,252.22 L174.81,251.47 L174.32,250.72 L173.84,249.97 L173.35,249.22 L172.86,248.48 L172.37,247.74 L171.88,247.00 L171.39,246.26 L170.90,245.53 L170.41,244.80 L169.93,244.08 L169.44,243.35 L168.95,242.63 L168.46,243.35 L167.97,244.08 L167.48,244.80 L166.99,245.53 L166.50,246.26 L166.01,247.00 L165.53,247.74 L165.04,248.48 L164.55,249.22 L164.06,249.97 L163.57,250.72 L163.08,251.47 L162.59,252.22 L162.10,252.98 L161.62,253.74 L161.13,254.50 L160.64,255.27 L160.15,256.03 L159.66,256.80 L159.17,257.57 L158.68,258.35 L158.19,259.12 L157.71,259.90 L157.22,260.68 L156.73,261.47 L156.24,262.25 L155.75,263.04 L155.26,263.83 L154.77,264.62 L154.28,265.41 L153.80,266.21 L153.31,267.00 L152.82,267.80 L152.33,268.61 L151.84,269.41 L151.35,270.21 L150.86,271.02 L150.38,271.83 L149.89,272.64 L149.40,273.45 L148.91,274.26 L148.42,275.08 L147.93,275.89 L147.44,276.71 L146.95,277.53 L146.47,278.35 L145.98,279.18 L145.49,280.00 L145.00,280.83 L144.51,281.65 L144.02,282.48 L143.53,283.31 L143.04,284.14 L142.56,284.97 L142.07,285.80 L141.58,286.64 L141.09,287.47 L140.60,288.31 Z"/></clipPath>
<linearGradient id="gtop" x1="0" y1="0" x2="0" y2="1"><stop offset="0" stop-color="#000" stop-opacity="0.13"/><stop offset="1" stop-color="#000" stop-opacity="0"/></linearGradient>
<linearGradient id="gbot" x1="0" y1="0" x2="0" y2="1"><stop offset="0" stop-color="#000" stop-opacity="0"/><stop offset="1" stop-color="#000" stop-opacity="0.13"/></linearGradient>
<g filter="url(#soft)"><path d="M140.60,182.00 L141.09,182.00 L141.58,182.00 L142.07,182.00 L142.56,182.00 L143.04,182.00 L143.53,182.00 L144.02,182.00 L144.51,182.00 L145.00,182.00 L145.49,182.00 L145.98,182.00 L146.47,182.00 L146.95,182.00 L147.44,182.00 L147.93,182.00 L148.42,182.00 L148.91,182.00 L149.40,182.00 L149.89,182.00 L150.38,182.00 L150.86,182.00 L151.35,182.00 L151.84,182.00 L152.33,182.00 L152.82,182.00 L153.31,182.00 L153.80,182.00 L154.28,182.00 L154.77,182.00 L155.26,182.00 L155.75,182.00 L156.24,182.00 L156.73,182.00 L157.22,182.00 L157.71,182.00 L158.19,182.00 L158.68,182.00 L159.17,182.00 L159.66,182.00 L160.15,182.00 L160.64,182.00 L161.13,182.00 L161.62,182.00 L162.10,182.00 L162.59,182.00 L163.08,182.00 L163.57,182.00 L164.06,182.00 L164.55,182.00 L165.04,182.00 L165.53,182.00 L166.01,182.00 L166.50,182.00 L166.99,182.00 L167.48,182.00 L167.97,182.00 L168.46,182.00 L168.95,182.00 L169.44,182.00 L169.93,182.00 L170.41,182.00 L170.90,182.00 L171.39,182.00 L171.88,182.00 L172.37,182.00 L172.86,182.00 L173.35,182.00 L173.84,182.00 L174.32,182.00 L174.81,182.00 L175.30,182.00 L175.79,182.00 L176.28,182.00 L176.77,182.00 L177.26,182.00 L177.75,182.00 L178.23,182.00 L178.72,182.00 L179.21,182.00 L179.70,182.00 L180.19,182.00 L180.68,182.00 L181.17,182.00 L181.66,182.00 L182.14,182.00 L182.63,182.00 L183.12,182.00 L183.61,182.00 L184.10,182.00 L184.59,182.00 L185.08,182.00 L185.56,182.00 L186.05,182.00 L186.54,182.00 L187.03,182.00 L187.52,182.00 L188.01,182.00 L188.50,182.00 L188.99,182.00 L189.47,182.00 L189.96,182.00 L190.45,182.00 L190.94,182.00 L191.43,182.00 L191.92,182.00 L192.41,182.00 L192.90,182.00 L193.38,182.00 L193.87,182.00 L194.36,182.00 L194.85,182.00 L195.34,182.00 L195.83,182.00 L196.32,182.00 L196.81,182.00 L197.30,182.00 L197.78,182.00 L198.27,182.00 L198.76,182.00 L199.25,182.00 L199.74,182.00 L200.23,182.00 L200.72,182.00 L201.20,182.00 L201.69,182.00 L202.18,182.00 L202.67,182.00 L203.16,182.00 L203.65,182.00 L204.14,182.00 L204.63,182.00 L205.12,182.00 L205.60,182.00 L206.09,182.00 L206.58,182.00 L207.07,182.00 L207.56,182.00 L208.05,182.00 L208.54,182.00 L209.02,182.00 L209.51,182.00 L210.00,182.00 L210.49,182.00 L210.98,182.00 L211.47,182.00 L211.96,182.00 L212.45,182.00 L212.94,182.00 L213.42,182.00 L213.91,182.00 L214.40,182.00 L214.89,182.00 L215.38,182.00 L215.87,182.00 L216.36,182.00 L216.84,182.00 L217.33,182.00 L217.82,182.00 L218.31,182.00 L218.80,182.00 L219.29,182.00 L219.78,182.00 L220.27,182.00 L220.75,182.00 L221.24,182.00 L221.73,182.00 L222.22,182.00 L222.71,182.00 L223.20,182.00 L223.69,182.00 L224.18,182.00 L224.66,182.00 L225.15,182.00 L225.64,182.00 L226.13,182.00 L226.62,182.00 L227.11,182.00 L227.60,182.00 L228.09,182.00 L228.57,182.00 L229.06,182.00 L229.55,182.00 L230.04,182.00 L230.53,182.00 L231.02,182.00 L231.51,182.00 L232.00,182.00 L232.49,182.00 L232.97,182.00 L233.46,182.00 L233.95,182.00 L234.44,182.00 L234.93,182.00 L235.42,182.00 L235.91,182.00 L236.40,182.00 L236.88,182.00 L237.37,182.00 L237.86,182.00 L238.35,182.00 L238.84,182.00 L239.33,182.00 L239.82,182.00 L240.31,182.00 L240.79,182.00 L241.28,182.00 L241.77,182.00 L242.26,182.00 L242.75,182.00 L243.24,182.00 L243.73,182.00 L244.22,182.00 L244.70,182.00 L245.19,182.01 L245.68,182.03 L246.17,182.04 L246.66,182.07 L247.15,182.10 L247.64,182.14 L248.12,182.18 L248.61,182.23 L249.10,182.28 L249.59,182.34 L250.08,182.40 L250.57,182.47 L251.06,182.55 L251.55,182.63 L252.03,182.71 L252.52,182.80 L253.01,182.90 L253.50,183.00 L253.99,183.11 L254.48,183.23 L254.97,183.35 L255.46,183.47 L255.94,183.60 L256.43,183.74 L256.92,183.88 L257.41,184.02 L257.90,184.18 L258.39,184.33 L258.88,184.50 L259.37,184.67 L259.86,184.84 L260.34,185.02 L260.83,185.21 L261.32,185.40 L261.81,185.59 L262.30,185.79 L262.79,186.00 L263.28,186.21 L263.76,186.43 L264.25,186.65 L264.74,186.88 L265.23,187.11 L265.72,187.35 L266.21,187.60 L266.70,187.85 L267.19,188.10 L267.68,188.36 L268.16,188.63 L268.65,188.90 L269.14,189.18 L269.63,189.46 L270.12,189.74 L270.61,190.04 L271.10,190.33 L271.59,190.63 L272.07,190.94 L272.56,191.25 L273.05,191.57 L273.54,191.90 L274.03,192.22 L274.52,192.56 L275.01,192.90 L275.50,193.24 L275.98,193.59 L276.47,193.94 L276.96,194.30 L277.45,194.66 L277.94,195.03 L278.43,195.41 L278.92,195.79 L279.40,196.17 L279.89,196.56 L280.38,196.95 L280.87,197.35 L281.36,197.75 L281.85,198.16 L282.34,198.58 L282.83,198.99 L283.32,199.42 L283.80,199.84 L284.29,200.28 L284.78,200.71 L285.27,201.16 L285.76,201.60 L286.25,202.06 L286.74,202.51 L287.23,202.97 L287.71,203.44 L288.20,203.91 L288.69,204.38 L289.18,204.86 L289.67,205.35 L290.16,205.84 L290.65,206.33 L291.13,206.83 L291.62,207.33 L292.11,207.84 L292.60,208.35 L293.09,208.86 L293.58,209.38 L294.07,209.91 L294.56,210.44 L295.05,210.97 L295.53,211.51 L296.02,212.05 L296.51,212.60 L297.00,213.15 L297.49,213.70 L297.98,214.26 L298.47,214.82 L298.95,215.39 L299.44,215.96 L299.93,216.54 L300.42,217.12 L300.91,217.70 L301.40,218.29 L301.89,218.88 L302.38,219.48 L302.87,220.08 L303.35,220.68 L303.84,221.29 L304.33,221.90 L304.82,222.51 L305.31,223.13 L305.80,223.76 L306.29,224.38 L306.77,225.01 L307.26,225.65 L307.75,226.29 L308.24,226.93 L308.73,227.57 L309.22,228.22 L309.71,228.87 L310.20,229.53 L310.69,230.19 L311.17,230.85 L311.66,231.52 L312.15,232.19 L312.64,232.86 L313.13,233.54 L313.62,234.22 L314.11,234.90 L314.60,235.59 L315.08,236.28 L315.57,236.97 L316.06,237.67 L316.55,238.37 L317.04,239.07 L317.53,239.78 L318.02,240.48 L318.50,241.20 L318.99,241.91 L319.48,242.63 L319.97,243.35 L320.46,244.08 L320.95,244.80 L321.44,245.53 L321.93,246.26 L322.42,247.00 L322.90,247.74 L323.39,248.48 L323.88,249.22 L324.37,249.97 L324.86,250.72 L325.35,251.47 L325.84,252.22 L326.32,252.98 L326.81,253.74 L327.30,254.50 L327.79,255.27 L328.28,256.03 L328.77,256.80 L329.26,257.57 L329.75,258.35 L330.24,259.12 L330.72,259.90 L331.21,260.68 L331.70,261.47 L332.19,262.25 L332.68,263.04 L333.17,263.83 L333.66,264.62 L334.14,265.41 L334.63,266.21 L335.12,267.00 L335.61,267.80 L336.10,268.61 L336.59,269.41 L337.08,270.21 L337.57,271.02 L338.06,271.83 L338.54,272.64 L339.03,273.45 L339.52,274.26 L340.01,275.08 L340.50,275.89 L340.99,276.71 L341.48,277.53 L341.97,278.35 L342.45,279.18 L342.94,280.00 L343.43,280.83 L343.92,281.65 L344.41,282.48 L344.90,283.31 L345.39,284.14 L345.88,284.97 L346.36,285.80 L346.85,286.64 L347.34,287.47 L347.83,288.31 L348.32,289.15 L348.81,289.98 L349.30,290.82 L349.79,291.66 L350.27,292.50 L350.76,293.35 L351.25,294.19 L351.74,295.03 L352.23,295.88 L352.72,296.72 L353.21,297.57 L353.70,298.41 L354.18,299.26 L354.67,300.10 L355.16,300.95 L355.65,301.80 L356.14,302.65 L356.63,303.50 L357.12,304.35 L357.61,305.20 L358.09,306.05 L358.58,306.90 L359.07,307.75 L359.56,308.60 L360.05,309.45 L360.54,310.30 L361.03,311.15 L361.51,312.00 L362.00,312.85 L362.49,313.70 L362.98,314.55 L363.47,315.40 L363.96,316.25 L364.45,317.10 L364.94,317.95 L365.43,318.80 L365.91,319.65 L366.40,320.50 L366.89,321.35 L367.38,322.20 L367.87,323.05 L368.36,323.90 L368.85,324.74 L369.34,325.59 L369.82,326.43 L370.31,327.28 L370.80,328.12 L371.29,328.97 L371.78,329.81 L372.27,330.65 L372.76,331.50 L373.25,332.34 L373.73,333.18 L374.22,334.02 L374.71,334.85 L375.20,335.69 L375.69,336.53 L376.18,337.36 L376.67,338.20 L377.16,339.03 L377.64,339.86 L378.13,340.69 L378.62,341.52 L379.11,342.35 L379.60,343.17 L380.09,344.00 L380.58,344.82 L381.07,345.65 L381.55,346.47 L382.04,347.29 L382.53,348.11 L383.02,348.92 L383.51,349.74 L384.00,350.55 L384.49,351.36 L384.98,352.17 L385.46,352.98 L385.95,353.79 L386.44,354.59 L386.93,355.39 L387.42,356.20 L387.91,357.00 L388.40,357.79 L388.88,358.59 L389.37,359.38 L389.86,360.17 L390.35,360.96 L390.84,361.75 L391.33,362.53 L391.82,363.32 L392.31,364.10 L392.80,364.88 L393.28,365.65 L393.77,366.43 L394.26,367.20 L394.75,367.97 L395.24,368.73 L395.73,369.50 L396.22,370.26 L396.71,371.02 L397.19,371.78 L397.68,372.53 L398.17,373.28 L398.66,374.03 L399.15,374.78 L399.64,375.52 L400.13,376.26 L400.62,377.00 L401.10,377.74 L401.59,378.47 L402.08,379.20 L402.57,379.92 L403.06,380.65 L403.55,381.37 L404.04,380.65 L404.52,379.92 L405.01,379.20 L405.50,378.47 L405.99,377.74 L406.48,377.00 L406.97,376.26 L407.46,375.52 L407.95,374.78 L408.44,374.03 L408.92,373.28 L409.41,372.53 L409.90,371.78 L410.39,371.02 L410.88,370.26 L411.37,369.50 L411.86,368.73 L412.35,367.97 L412.83,367.20 L413.32,366.43 L413.81,365.65 L414.30,364.88 L414.79,364.10 L415.28,363.32 L415.77,362.53 L416.25,361.75 L416.74,360.96 L417.23,360.17 L417.72,359.38 L418.21,358.59 L418.70,357.79 L419.19,357.00 L419.68,356.20 L420.16,355.39 L420.65,354.59 L421.14,353.79 L421.63,352.98 L422.12,352.17 L422.61,351.36 L423.10,350.55 L423.59,349.74 L424.08,348.92 L424.56,348.11 L425.05,347.29 L425.54,346.47 L426.03,345.65 L426.52,344.82 L427.01,344.00 L427.50,343.17 L427.99,342.35 L428.47,341.52 L428.96,340.69 L429.45,339.86 L429.94,339.03 L430.43,338.20 L430.92,337.36 L431.41,336.53 L431.89,335.69 L432.38,334.85 L432.87,334.02 L433.36,333.18 L433.85,332.34 L434.34,331.50 L434.83,330.65 L435.32,329.81 L435.81,328.97 L436.29,328.12 L436.78,327.28 L437.27,326.43 L437.76,325.59 L438.25,324.74 L438.74,323.90 L439.23,323.05 L439.72,322.20 L440.20,321.35 L440.69,320.50 L441.18,319.65 L441.67,318.80 L442.16,317.95 L442.65,317.10 L443.14,316.25 L443.62,315.40 L444.11,314.55 L444.60,313.70 L445.09,312.85 L445.58,312.00 L446.07,311.15 L446.56,310.30 L447.05,309.45 L447.54,308.60 L448.02,307.75 L448.51,306.90 L449.00,306.05 L449.49,305.20 L449.98,304.35 L450.47,303.50 L450.96,302.65 L451.45,301.80 L451.93,300.95 L452.42,300.10 L452.91,299.26 L453.40,298.41 L453.89,297.57 L454.38,296.72 L454.87,295.88 L455.36,295.03 L455.84,294.19 L456.33,293.35 L456.82,292.50 L457.31,291.66 L457.80,290.82 L458.29,289.98 L458.78,289.15 L459.26,288.31 L459.75,287.47 L460.24,286.64 L460.73,285.80 L461.22,284.97 L461.71,284.14 L462.20,283.31 L462.69,282.48 L463.17,281.65 L463.66,280.83 L464.15,280.00 L464.64,279.18 L465.13,278.35 L465.62,277.53 L466.11,276.71 L466.60,275.89 L467.09,275.08 L467.57,274.26 L468.06,273.45 L468.55,272.64 L469.04,271.83 L469.53,271.02 L470.02,270.21 L470.51,269.41 L471.00,268.61 L471.48,267.80 L471.97,267.00 L472.46,266.21 L472.95,265.41 L473.44,264.62 L473.93,263.83 L474.42,263.04 L474.91,262.25 L475.39,261.47 L475.88,260.68 L476.37,259.90 L476.86,259.12 L477.35,258.35 L477.84,257.57 L478.33,256.80 L478.82,256.03 L479.30,255.27 L479.79,254.50 L480.28,253.74 L480.77,252.98 L481.26,252.22 L481.75,251.47 L482.24,250.72 L482.73,249.97 L483.21,249.22 L483.70,248.48 L484.19,247.74 L484.68,247.00 L485.17,246.26 L485.66,245.53 L486.15,244.80 L486.63,244.08 L487.12,243.35 L487.61,242.63 L488.10,241.91 L488.59,241.20 L489.08,240.48 L489.57,239.78 L490.06,239.07 L490.55,238.37 L491.03,237.67 L491.52,236.97 L492.01,236.28 L492.50,235.59 L492.99,234.90 L493.48,234.22 L493.97,233.54 L494.46,232.86 L494.94,232.19 L495.43,231.52 L495.92,230.85 L496.41,230.19 L496.90,229.53 L497.39,228.87 L497.88,228.22 L498.37,227.57 L498.85,226.93 L499.34,226.29 L499.83,225.65 L500.32,225.01 L500.81,224.38 L501.30,223.76 L501.79,223.13 L502.27,222.51 L502.76,221.90 L503.25,221.29 L503.74,220.68 L504.23,220.08 L504.72,219.48 L505.21,218.88 L505.70,218.29 L506.18,217.70 L506.67,217.12 L507.16,216.54 L507.65,215.96 L508.14,215.39 L508.63,214.82 L509.12,214.26 L509.61,213.70 L510.10,213.15 L510.58,212.60 L511.07,212.05 L511.56,211.51 L512.05,210.97 L512.54,210.44 L513.03,209.91 L513.52,209.38 L514.00,208.86 L514.49,208.35 L514.98,207.84 L515.47,207.33 L515.96,206.83 L516.45,206.33 L516.94,205.84 L517.43,205.35 L517.92,204.86 L518.40,204.38 L518.89,203.91 L519.38,203.44 L519.87,202.97 L520.36,202.51 L520.85,202.06 L521.34,201.60 L521.83,201.16 L522.31,200.71 L522.80,200.28 L523.29,199.84 L523.78,199.42 L524.27,198.99 L524.76,198.58 L525.25,198.16 L525.74,197.75 L526.22,197.35 L526.71,196.95 L527.20,196.56 L527.69,196.17 L528.18,195.79 L528.67,195.41 L529.16,195.03 L529.65,194.66 L530.13,194.30 L530.62,193.94 L531.11,193.59 L531.60,193.24 L532.09,192.90 L532.58,192.56 L533.07,192.22 L533.56,191.90 L534.04,191.57 L534.53,191.25 L535.02,190.94 L535.51,190.63 L536.00,190.33 L536.49,190.04 L536.98,189.74 L537.47,189.46 L537.95,189.18 L538.44,188.90 L538.93,188.63 L539.42,188.36 L539.91,188.10 L540.40,187.85 L540.89,187.60 L541.38,187.35 L541.86,187.11 L542.35,186.88 L542.84,186.65 L543.33,186.43 L543.82,186.21 L544.31,186.00 L544.80,185.79 L545.29,185.59 L545.77,185.40 L546.26,185.21 L546.75,185.02 L547.24,184.84 L547.73,184.67 L548.22,184.50 L548.71,184.33 L549.20,184.18 L549.68,184.02 L550.17,183.88 L550.66,183.74 L551.15,183.60 L551.64,183.47 L552.13,183.35 L552.62,183.23 L553.11,183.11 L553.59,183.00 L554.08,182.90 L554.57,182.80 L555.06,182.71 L555.55,182.63 L556.04,182.55 L556.53,182.47 L557.01,182.40 L557.50,182.34 L557.99,182.28 L558.48,182.23 L558.97,182.18 L559.46,182.14 L559.95,182.10 L560.44,182.07 L560.92,182.04 L561.41,182.03 L561.90,182.01 L562.39,182.00 L562.88,182.00 L563.37,182.00 L563.86,182.00 L564.35,182.00 L564.84,182.00 L565.32,182.00 L565.81,182.00 L566.30,182.00 L566.79,182.00 L567.28,182.00 L567.77,182.00 L568.26,182.00 L568.75,182.00 L569.23,182.00 L569.72,182.00 L570.21,182.00 L570.70,182.00 L571.19,182.00 L571.68,182.00 L572.17,182.00 L572.66,182.00 L573.14,182.00 L573.63,182.00 L574.12,182.00 L574.61,182.00 L575.10,182.00 L575.59,182.00 L576.08,182.00 L576.57,182.00 L577.05,182.00 L577.54,182.00 L578.03,182.00 L578.52,182.00 L579.01,182.00 L579.50,182.00 L579.99,182.00 L580.48,182.00 L580.96,182.00 L581.45,182.00 L581.94,182.00 L582.43,182.00 L582.92,182.00 L583.41,182.00 L583.90,182.00 L584.39,182.00 L584.87,182.00 L585.36,182.00 L585.85,182.00 L586.34,182.00 L586.83,182.00 L587.32,182.00 L587.81,182.00 L588.30,182.00 L588.78,182.00 L589.27,182.00 L589.76,182.00 L590.25,182.00 L590.74,182.00 L591.23,182.00 L591.72,182.00 L592.21,182.00 L592.69,182.00 L593.18,182.00 L593.67,182.00 L594.16,182.00 L594.65,182.00 L595.14,182.00 L595.63,182.00 L596.12,182.00 L596.60,182.00 L597.09,182.00 L597.58,182.00 L598.07,182.00 L598.56,182.00 L599.05,182.00 L599.54,182.00 L600.02,182.00 L600.51,182.00 L601.00,182.00 L601.49,182.00 L601.98,182.00 L602.47,182.00 L602.96,182.00 L603.45,182.00 L603.94,182.00 L604.42,182.00 L604.91,182.00 L605.40,182.00 L605.89,182.00 L606.38,182.00 L606.87,182.00 L607.36,182.00 L607.85,182.00 L608.33,182.00 L608.82,182.00 L609.31,182.00 L609.80,182.00 L609.80,288.31 L609.31,289.15 L608.82,289.98 L608.33,290.82 L607.85,291.66 L607.36,292.50 L606.87,293.35 L606.38,294.19 L605.89,295.03 L605.40,295.88 L604.91,296.72 L604.42,297.57 L603.94,298.41 L603.45,299.26 L602.96,300.10 L602.47,300.95 L601.98,301.80 L601.49,302.65 L601.00,303.50 L600.51,304.35 L600.02,305.20 L599.54,306.05 L599.05,306.90 L598.56,307.75 L598.07,308.60 L597.58,309.45 L597.09,310.30 L596.60,311.15 L596.12,312.00 L595.63,312.85 L595.14,313.70 L594.65,314.55 L594.16,315.40 L593.67,316.25 L593.18,317.10 L592.69,317.95 L592.21,318.80 L591.72,319.65 L591.23,320.50 L590.74,321.35 L590.25,322.20 L589.76,323.05 L589.27,323.90 L588.78,324.74 L588.30,325.59 L587.81,326.43 L587.32,327.28 L586.83,328.12 L586.34,328.97 L585.85,329.81 L585.36,330.65 L584.87,331.50 L584.39,332.34 L583.90,333.18 L583.41,334.02 L582.92,334.85 L582.43,335.69 L581.94,336.53 L581.45,337.36 L580.96,338.20 L580.48,339.03 L579.99,339.86 L579.50,340.69 L579.01,341.52 L578.52,342.35 L578.03,343.17 L577.54,344.00 L577.05,344.82 L576.57,345.65 L576.08,346.47 L575.59,347.29 L575.10,348.11 L574.61,348.92 L574.12,349.74 L573.63,350.55 L573.14,351.36 L572.66,352.17 L572.17,352.98 L571.68,353.79 L571.19,354.59 L570.70,355.39 L570.21,356.20 L569.72,357.00 L569.23,357.79 L568.75,358.59 L568.26,359.38 L567.77,360.17 L567.28,360.96 L566.79,361.75 L566.30,362.53 L565.81,363.32 L565.32,364.10 L564.84,364.88 L564.35,365.65 L563.86,366.43 L563.37,367.20 L562.88,367.97 L562.39,368.73 L561.90,369.50 L561.41,370.26 L560.92,371.02 L560.44,371.78 L559.95,372.53 L559.46,373.28 L558.97,374.03 L558.48,374.78 L557.99,375.52 L557.50,376.26 L557.01,377.00 L556.53,377.74 L556.04,378.47 L555.55,379.20 L555.06,379.92 L554.57,380.65 L554.08,381.37 L553.59,382.09 L553.11,382.80 L552.62,383.52 L552.13,384.22 L551.64,384.93 L551.15,385.63 L550.66,386.33 L550.17,387.03 L549.68,387.72 L549.20,388.41 L548.71,389.10 L548.22,389.78 L547.73,390.46 L547.24,391.14 L546.75,391.81 L546.26,392.48 L545.77,393.15 L545.29,393.81 L544.80,394.47 L544.31,395.13 L543.82,395.78 L543.33,396.43 L542.84,397.07 L542.35,397.71 L541.86,398.35 L541.38,398.99 L540.89,399.62 L540.40,400.24 L539.91,400.87 L539.42,401.49 L538.93,402.10 L538.44,402.71 L537.95,403.32 L537.47,403.92 L536.98,404.52 L536.49,405.12 L536.00,405.71 L535.51,406.30 L535.02,406.88 L534.53,407.46 L534.04,408.04 L533.56,408.61 L533.07,409.18 L532.58,409.74 L532.09,410.30 L531.60,410.85 L531.11,411.40 L530.62,411.95 L530.13,412.49 L529.65,413.03 L529.16,413.56 L528.67,414.09 L528.18,414.62 L527.69,415.14 L527.20,415.65 L526.71,416.16 L526.22,416.67 L525.74,417.17 L525.25,417.67 L524.76,418.16 L524.27,418.65 L523.78,419.14 L523.29,419.62 L522.80,420.09 L522.31,420.56 L521.83,421.03 L521.34,421.49 L520.85,421.94 L520.36,422.40 L519.87,422.84 L519.38,423.29 L518.89,423.72 L518.40,424.16 L517.92,424.58 L517.43,425.01 L516.94,425.42 L516.45,425.84 L515.96,426.25 L515.47,426.65 L514.98,427.05 L514.49,427.44 L514.00,427.83 L513.52,428.21 L513.03,428.59 L512.54,428.97 L512.05,429.34 L511.56,429.70 L511.07,430.06 L510.58,430.41 L510.10,430.76 L509.61,431.10 L509.12,431.44 L508.63,431.78 L508.14,432.10 L507.65,432.43 L507.16,432.75 L506.67,433.06 L506.18,433.37 L505.70,433.67 L505.21,433.96 L504.72,434.26 L504.23,434.54 L503.74,434.82 L503.25,435.10 L502.76,435.37 L502.27,435.64 L501.79,435.90 L501.30,436.15 L500.81,436.40 L500.32,436.65 L499.83,436.89 L499.34,437.12 L498.85,437.35 L498.37,437.57 L497.88,437.79 L497.39,438.00 L496.90,438.21 L496.41,438.41 L495.92,438.60 L495.43,438.79 L494.94,438.98 L494.46,439.16 L493.97,439.33 L493.48,439.50 L492.99,439.67 L492.50,439.82 L492.01,439.98 L491.52,440.12 L491.03,440.26 L490.55,440.40 L490.06,440.53 L489.57,440.65 L489.08,440.77 L488.59,440.89 L488.10,441.00 L487.61,441.10 L487.12,441.20 L486.63,441.29 L486.15,441.37 L485.66,441.45 L485.17,441.53 L484.68,441.60 L484.19,441.66 L483.70,441.72 L483.21,441.77 L482.73,441.82 L482.24,441.86 L481.75,441.90 L481.26,441.93 L480.77,441.96 L480.28,441.97 L479.79,441.99 L479.30,442.00 L478.82,442.00 L478.33,442.00 L477.84,442.00 L477.35,442.00 L476.86,442.00 L476.37,442.00 L475.88,442.00 L475.39,442.00 L474.91,442.00 L474.42,442.00 L473.93,442.00 L473.44,442.00 L472.95,442.00 L472.46,442.00 L471.97,442.00 L471.48,442.00 L471.00,442.00 L470.51,442.00 L470.02,442.00 L469.53,442.00 L469.04,442.00 L468.55,442.00 L468.06,442.00 L467.57,442.00 L467.09,442.00 L466.60,442.00 L466.11,442.00 L465.62,442.00 L465.13,442.00 L464.64,442.00 L464.15,442.00 L463.66,442.00 L463.17,442.00 L462.69,442.00 L462.20,442.00 L461.71,442.00 L461.22,442.00 L460.73,442.00 L460.24,442.00 L459.75,442.00 L459.26,442.00 L458.78,442.00 L458.29,442.00 L457.80,442.00 L457.31,442.00 L456.82,442.00 L456.33,442.00 L455.84,442.00 L455.36,442.00 L454.87,442.00 L454.38,442.00 L453.89,442.00 L453.40,442.00 L452.91,442.00 L452.42,442.00 L451.93,442.00 L451.45,442.00 L450.96,442.00 L450.47,442.00 L449.98,442.00 L449.49,442.00 L449.00,442.00 L448.51,442.00 L448.02,442.00 L447.54,442.00 L447.05,442.00 L446.56,442.00 L446.07,442.00 L445.58,442.00 L445.09,442.00 L444.60,442.00 L444.11,442.00 L443.62,442.00 L443.14,442.00 L442.65,442.00 L442.16,442.00 L441.67,442.00 L441.18,442.00 L440.69,442.00 L440.20,442.00 L439.72,442.00 L439.23,442.00 L438.74,442.00 L438.25,442.00 L437.76,442.00 L437.27,442.00 L436.78,442.00 L436.29,442.00 L435.81,442.00 L435.32,442.00 L434.83,442.00 L434.34,442.00 L433.85,442.00 L433.36,442.00 L432.87,442.00 L432.38,442.00 L431.89,442.00 L431.41,442.00 L430.92,442.00 L430.43,442.00 L429.94,442.00 L429.45,442.00 L428.96,442.00 L428.47,442.00 L427.99,442.00 L427.50,442.00 L427.01,442.00 L426.52,442.00 L426.03,442.00 L425.54,442.00 L425.05,442.00 L424.56,442.00 L424.08,442.00 L423.59,442.00 L423.10,442.00 L422.61,442.00 L422.12,442.00 L421.63,442.00 L421.14,442.00 L420.65,442.00 L420.16,442.00 L419.68,442.00 L419.19,442.00 L418.70,442.00 L418.21,442.00 L417.72,442.00 L417.23,442.00 L416.74,442.00 L416.25,442.00 L415.77,442.00 L415.28,442.00 L414.79,442.00 L414.30,442.00 L413.81,442.00 L413.32,442.00 L412.83,442.00 L412.35,442.00 L411.86,442.00 L411.37,442.00 L410.88,442.00 L410.39,442.00 L409.90,442.00 L409.41,442.00 L408.92,442.00 L408.44,442.00 L407.95,442.00 L407.46,442.00 L406.97,442.00 L406.48,442.00 L405.99,442.00 L405.50,442.00 L405.01,442.00 L404.52,442.00 L404.04,442.00 L403.55,442.00 L403.06,442.00 L402.57,442.00 L402.08,442.00 L401.59,442.00 L401.10,442.00 L400.62,442.00 L400.13,442.00 L399.64,442.00 L399.15,442.00 L398.66,442.00 L398.17,442.00 L397.68,442.00 L397.19,442.00 L396.71,442.00 L396.22,442.00 L395.73,442.00 L395.24,442.00 L394.75,442.00 L394.26,442.00 L393.77,442.00 L393.28,442.00 L392.80,442.00 L392.31,442.00 L391.82,442.00 L391.33,442.00 L390.84,442.00 L390.35,442.00 L389.86,442.00 L389.37,442.00 L388.88,442.00 L388.40,442.00 L387.91,442.00 L387.42,442.00 L386.93,442.00 L386.44,442.00 L385.95,442.00 L385.46,442.00 L384.98,442.00 L384.49,442.00 L384.00,442.00 L383.51,442.00 L383.02,442.00 L382.53,442.00 L382.04,442.00 L381.55,442.00 L381.07,442.00 L380.58,442.00 L380.09,442.00 L379.60,442.00 L379.11,442.00 L378.62,442.00 L378.13,442.00 L377.64,442.00 L377.16,442.00 L376.67,442.00 L376.18,442.00 L375.69,442.00 L375.20,442.00 L374.71,442.00 L374.22,442.00 L373.73,442.00 L373.25,442.00 L372.76,442.00 L372.27,442.00 L371.78,442.00 L371.29,442.00 L370.80,442.00 L370.31,442.00 L369.82,442.00 L369.34,442.00 L368.85,442.00 L368.36,442.00 L367.87,442.00 L367.38,442.00 L366.89,442.00 L366.40,442.00 L365.91,442.00 L365.43,442.00 L364.94,442.00 L364.45,442.00 L363.96,442.00 L363.47,442.00 L362.98,442.00 L362.49,442.00 L362.00,442.00 L361.51,442.00 L361.03,442.00 L360.54,442.00 L360.05,442.00 L359.56,442.00 L359.07,442.00 L358.58,442.00 L358.09,442.00 L357.61,442.00 L357.12,442.00 L356.63,442.00 L356.14,442.00 L355.65,442.00 L355.16,442.00 L354.67,442.00 L354.18,442.00 L353.70,442.00 L353.21,442.00 L352.72,442.00 L352.23,442.00 L351.74,442.00 L351.25,442.00 L350.76,442.00 L350.27,442.00 L349.79,442.00 L349.30,442.00 L348.81,442.00 L348.32,442.00 L347.83,442.00 L347.34,442.00 L346.85,442.00 L346.36,442.00 L345.88,442.00 L345.39,442.00 L344.90,442.00 L344.41,442.00 L343.92,442.00 L343.43,442.00 L342.94,442.00 L342.45,442.00 L341.97,442.00 L341.48,442.00 L340.99,442.00 L340.50,442.00 L340.01,442.00 L339.52,442.00 L339.03,442.00 L338.54,442.00 L338.06,442.00 L337.57,442.00 L337.08,442.00 L336.59,442.00 L336.10,442.00 L335.61,442.00 L335.12,442.00 L334.63,442.00 L334.14,442.00 L333.66,442.00 L333.17,442.00 L332.68,442.00 L332.19,442.00 L331.70,442.00 L331.21,442.00 L330.72,442.00 L330.24,442.00 L329.75,442.00 L329.26,442.00 L328.77,442.00 L328.28,442.00 L327.79,442.00 L327.30,441.99 L326.81,441.97 L326.32,441.96 L325.84,441.93 L325.35,441.90 L324.86,441.86 L324.37,441.82 L323.88,441.77 L323.39,441.72 L322.90,441.66 L322.42,441.60 L321.93,441.53 L321.44,441.45 L320.95,441.37 L320.46,441.29 L319.97,441.20 L319.48,441.10 L318.99,441.00 L318.50,440.89 L318.02,440.77 L317.53,440.65 L317.04,440.53 L316.55,440.40 L316.06,440.26 L315.57,440.12 L315.08,439.98 L314.60,439.82 L314.11,439.67 L313.62,439.50 L313.13,439.33 L312.64,439.16 L312.15,438.98 L311.66,438.79 L311.17,438.60 L310.69,438.41 L310.20,438.21 L309.71,438.00 L309.22,437.79 L308.73,437.57 L308.24,437.35 L307.75,437.12 L307.26,436.89 L306.77,436.65 L306.29,436.40 L305.80,436.15 L305.31,435.90 L304.82,435.64 L304.33,435.37 L303.84,435.10 L303.35,434.82 L302.87,434.54 L302.38,434.26 L301.89,433.96 L301.40,433.67 L300.91,433.37 L300.42,433.06 L299.93,432.75 L299.44,432.43 L298.95,432.10 L298.47,431.78 L297.98,431.44 L297.49,431.10 L297.00,430.76 L296.51,430.41 L296.02,430.06 L295.53,429.70 L295.05,429.34 L294.56,428.97 L294.07,428.59 L293.58,428.21 L293.09,427.83 L292.60,427.44 L292.11,427.05 L291.62,426.65 L291.13,426.25 L290.65,425.84 L290.16,425.42 L289.67,425.01 L289.18,424.58 L288.69,424.16 L288.20,423.72 L287.71,423.29 L287.23,422.84 L286.74,422.40 L286.25,421.94 L285.76,421.49 L285.27,421.03 L284.78,420.56 L284.29,420.09 L283.80,419.62 L283.32,419.14 L282.83,418.65 L282.34,418.16 L281.85,417.67 L281.36,417.17 L280.87,416.67 L280.38,416.16 L279.89,415.65 L279.40,415.14 L278.92,414.62 L278.43,414.09 L277.94,413.56 L277.45,413.03 L276.96,412.49 L276.47,411.95 L275.98,411.40 L275.50,410.85 L275.01,410.30 L274.52,409.74 L274.03,409.18 L273.54,408.61 L273.05,408.04 L272.56,407.46 L272.07,406.88 L271.59,406.30 L271.10,405.71 L270.61,405.12 L270.12,404.52 L269.63,403.92 L269.14,403.32 L268.65,402.71 L268.16,402.10 L267.68,401.49 L267.19,400.87 L266.70,400.24 L266.21,399.62 L265.72,398.99 L265.23,398.35 L264.74,397.71 L264.25,397.07 L263.76,396.43 L263.28,395.78 L262.79,395.13 L262.30,394.47 L261.81,393.81 L261.32,393.15 L260.83,392.48 L260.34,391.81 L259.86,391.14 L259.37,390.46 L258.88,389.78 L258.39,389.10 L257.90,388.41 L257.41,387.72 L256.92,387.03 L256.43,386.33 L255.94,385.63 L255.46,384.93 L254.97,384.22 L254.48,383.52 L253.99,382.80 L253.50,382.09 L253.01,381.37 L252.52,380.65 L252.03,379.92 L251.55,379.20 L251.06,378.47 L250.57,377.74 L250.08,377.00 L249.59,376.26 L249.10,375.52 L248.61,374.78 L248.12,374.03 L247.64,373.28 L247.15,372.53 L246.66,371.78 L246.17,371.02 L245.68,370.26 L245.19,369.50 L244.70,368.73 L244.22,367.97 L243.73,367.20 L243.24,366.43 L242.75,365.65 L242.26,364.88 L241.77,364.10 L241.28,363.32 L240.79,362.53 L240.31,361.75 L239.82,360.96 L239.33,360.17 L238.84,359.38 L238.35,358.59 L237.86,357.79 L237.37,357.00 L236.88,356.20 L236.40,355.39 L235.91,354.59 L235.42,353.79 L234.93,352.98 L234.44,352.17 L233.95,351.36 L233.46,350.55 L232.97,349.74 L232.49,348.92 L232.00,348.11 L231.51,347.29 L231.02,346.47 L230.53,345.65 L230.04,344.82 L229.55,344.00 L229.06,343.17 L228.57,342.35 L228.09,341.52 L227.60,340.69 L227.11,339.86 L226.62,339.03 L226.13,338.20 L225.64,337.36 L225.15,336.53 L224.66,335.69 L224.18,334.85 L223.69,334.02 L223.20,333.18 L222.71,332.34 L222.22,331.50 L221.73,330.65 L221.24,329.81 L220.75,328.97 L220.27,328.12 L219.78,327.28 L219.29,326.43 L218.80,325.59 L218.31,324.74 L217.82,323.90 L217.33,323.05 L216.84,322.20 L216.36,321.35 L215.87,320.50 L215.38,319.65 L214.89,318.80 L214.40,317.95 L213.91,317.10 L213.42,316.25 L212.94,315.40 L212.45,314.55 L211.96,313.70 L211.47,312.85 L210.98,312.00 L210.49,311.15 L210.00,310.30 L209.51,309.45 L209.02,308.60 L208.54,307.75 L208.05,306.90 L207.56,306.05 L207.07,305.20 L206.58,304.35 L206.09,303.50 L205.60,302.65 L205.12,301.80 L204.63,300.95 L204.14,300.10 L203.65,299.26 L203.16,298.41 L202.67,297.57 L202.18,296.72 L201.69,295.88 L201.20,295.03 L200.72,294.19 L200.23,293.35 L199.74,292.50 L199.25,291.66 L198.76,290.82 L198.27,289.98 L197.78,289.15 L197.30,288.31 L196.81,287.47 L196.32,286.64 L195.83,285.80 L195.34,284.97 L194.85,284.14 L194.36,283.31 L193.87,282.48 L193.38,281.65 L192.90,280.83 L192.41,280.00 L191.92,279.18 L191.43,278.35 L190.94,277.53 L190.45,276.71 L189.96,275.89 L189.47,275.08 L188.99,274.26 L188.50,273.45 L188.01,272.64 L187.52,271.83 L187.03,271.02 L186.54,270.21 L186.05,269.41 L185.56,268.61 L185.08,267.80 L184.59,267.00 L184.10,266.21 L183.61,265.41 L183.12,264.62 L182.63,263.83 L182.14,263.04 L181.66,262.25 L181.17,261.47 L180.68,260.68 L180.19,259.90 L179.70,259.12 L179.21,258.35 L178.72,257.57 L178.23,256.80 L177.75,256.03 L177.26,255.27 L176.77,254.50 L176.28,253.74 L175.79,252.98 L175.30,252.22 L174.81,251.47 L174.32,250.72 L173.84,249.97 L173.35,249.22 L172.86,248.48 L172.37,247.74 L171.88,247.00 L171.39,246.26 L170.90,245.53 L170.41,244.80 L169.93,244.08 L169.44,243.35 L168.95,242.63 L168.46,243.35 L167.97,244.08 L167.48,244.80 L166.99,245.53 L166.50,246.26 L166.01,247.00 L165.53,247.74 L165.04,248.48 L164.55,249.22 L164.06,249.97 L163.57,250.72 L163.08,251.47 L162.59,252.22 L162.10,252.98 L161.62,253.74 L161.13,254.50 L160.64,255.27 L160.15,256.03 L159.66,256.80 L159.17,257.57 L158.68,258.35 L158.19,259.12 L157.71,259.90 L157.22,260.68 L156.73,261.47 L156.24,262.25 L155.75,263.04 L155.26,263.83 L154.77,264.62 L154.28,265.41 L153.80,266.21 L153.31,267.00 L152.82,267.80 L152.33,268.61 L151.84,269.41 L151.35,270.21 L150.86,271.02 L150.38,271.83 L149.89,272.64 L149.40,273.45 L148.91,274.26 L148.42,275.08 L147.93,275.89 L147.44,276.71 L146.95,277.53 L146.47,278.35 L145.98,279.18 L145.49,280.00 L145.00,280.83 L144.51,281.65 L144.02,282.48 L143.53,283.31 L143.04,284.14 L142.56,284.97 L142.07,285.80 L141.58,286.64 L141.09,287.47 L140.60,288.31 Z" fill="#e2e2e2"/><g clip-path="url(#gbclip)"><rect x="140" y="180" width="470" height="22" fill="url(#gtop)"/><rect x="140" y="420" width="470" height="24" fill="url(#gbot)"/></g></g>
<path d="M140.60,219.75 L141.58,218.68 L142.56,217.62 L143.53,216.58 L144.51,215.55 L145.49,214.53 L146.47,213.53 L147.44,212.55 L148.42,211.58 L149.40,210.62 L150.38,209.68 L151.35,208.76 L152.33,207.85 L153.31,206.96 L154.28,206.08 L155.26,205.21 L156.24,204.37 L157.22,203.53 L158.19,202.72 L159.17,201.92 L160.15,201.13 L161.13,200.36 L162.10,199.61 L163.08,198.87 L164.06,198.15 L165.04,197.44 L166.01,196.75 L166.99,196.08 L167.97,195.42 L168.95,194.78 L169.93,194.15 L170.90,193.54 L171.88,192.95 L172.86,192.37 L173.84,191.81 L174.81,191.26 L175.79,190.74 L176.77,190.22 L177.75,189.73 L178.72,189.25 L179.70,188.79 L180.68,188.34 L181.66,187.91 L182.63,187.50 L183.61,187.11 L184.59,186.73 L185.56,186.37 L186.54,186.02 L187.52,185.69 L188.50,185.38 L189.47,185.09 L190.45,184.81 L191.43,184.55 L192.41,184.30 L193.38,184.07 L194.36,183.86 L195.34,183.67 L196.32,183.49 L197.30,183.34 L198.27,183.19 L199.25,183.07 L200.23,182.96 L201.20,182.87 L202.18,182.79 L203.16,182.74 L204.14,182.70 L205.12,182.67 L206.09,182.67 L207.07,182.67 L208.05,182.67 L209.02,182.67 L210.00,182.67 L210.98,182.67 L211.96,182.67 L212.94,182.67 L213.91,182.67 L214.89,182.67 L215.87,182.67 L216.84,182.67 L217.82,182.67 L218.80,182.67 L219.78,182.67 L220.75,182.67 L221.73,182.67 L222.71,182.67 L223.69,182.67 L224.66,182.67 L225.64,182.67 L226.62,182.67 L227.60,182.67 L228.57,182.67 L229.55,182.67 L230.53,182.67 L231.51,182.67 L232.49,182.67 L233.46,182.67 L234.44,182.67 L235.42,182.67 L236.40,182.67 L237.37,182.67 L238.35,182.67 L239.33,182.67 L240.31,182.68 L241.28,182.71 L242.26,182.75 L243.24,182.81 L244.22,182.89 L245.19,182.99 L246.17,183.10 L247.15,183.23 L248.12,183.38 L249.10,183.55 L250.08,183.73 L251.06,183.93 L252.03,184.15 L253.01,184.38 L253.99,184.63 L254.97,184.90 L255.94,185.18 L256.92,185.48 L257.90,185.80 L258.88,186.14 L259.86,186.49 L260.83,186.86 L261.81,187.25 L262.79,187.65 L263.76,188.07 L264.74,188.51 L265.72,188.96 L266.70,189.43 L267.68,189.92 L268.65,190.42 L269.63,190.95 L270.61,191.48 L271.59,192.04 L272.56,192.61 L273.54,193.20 L274.52,193.80 L275.50,194.42 L276.47,195.06 L277.45,195.71 L278.43,196.38 L279.40,197.07 L280.38,197.77 L281.36,198.49 L282.34,199.23 L283.32,199.98 L284.29,200.75 L285.27,201.53 L286.25,202.33 L287.23,203.15 L288.20,203.98 L289.18,204.83 L290.16,205.69 L291.13,206.57 L292.11,207.46 L293.09,208.37 L294.07,209.30 L295.05,210.24 L296.02,211.19 L297.00,212.16 L297.98,213.15 L298.95,214.15 L299.93,215.17 L300.91,216.20 L301.89,217.25 L302.87,218.31 L303.84,219.38 L304.82,220.47 L305.80,221.58 L306.77,222.70 L307.75,223.83 L308.73,224.98 L309.71,226.14 L310.69,227.32 L311.66,228.51 L312.64,229.71 L313.62,230.92 L314.60,232.16 L315.57,233.40 L316.55,234.66 L317.53,235.93 L318.50,237.21 L319.48,238.50 L320.46,239.81 L321.44,241.14 L322.42,242.47 L323.39,243.82 L324.37,245.17 L325.35,246.54 L326.32,247.93 L327.30,249.32 L328.28,250.73 L329.26,252.14 L330.24,253.57 L331.21,255.01 L332.19,256.46 L333.17,257.92 L334.14,259.40 L335.12,260.88 L336.10,262.37 L337.08,263.87 L338.06,265.39 L339.03,266.91 L340.01,268.44 L340.99,269.98 L341.97,271.53 L342.94,273.09 L343.92,274.66 L344.90,276.24 L345.88,277.82 L346.85,279.41 L347.83,281.02 L348.81,282.62 L349.79,284.24 L350.76,285.86 L351.74,287.49 L352.72,289.13 L353.70,290.77 L354.67,292.42 L355.65,294.08 L356.63,295.74 L357.61,297.40 L358.58,299.08 L359.56,300.75 L360.54,302.43 L361.51,304.12 L362.49,305.81 L363.47,307.50 L364.45,309.20 L365.43,310.90 L366.40,312.60 L367.38,314.31 L368.36,316.02 L369.34,317.73 L370.31,319.44 L371.29,321.16 L372.27,322.87 L373.25,324.59 L374.22,326.30 L375.20,328.02 L376.18,329.74 L377.16,331.45 L378.13,333.17 L379.11,334.88 L380.09,336.60 L381.07,338.31 L382.04,340.02 L383.02,341.72 L384.00,343.43 L384.98,345.13 L385.95,346.82 L386.93,348.52 L387.91,350.21 L388.88,351.89 L389.86,353.57 L390.84,355.25 L391.82,356.91 L392.80,358.58 L393.77,360.23 L394.75,361.88 L395.73,363.53 L396.71,365.16 L397.68,366.79 L398.66,368.41 L399.64,370.02 L400.62,371.62 L401.59,373.21 L402.57,374.79 L403.55,376.37 L404.52,377.93 L405.50,379.48 L406.48,381.02 L407.46,382.55 L408.44,384.06 L409.41,385.57 L410.39,387.06 L411.37,388.54 L412.35,390.00 L413.32,391.45 L414.30,392.89 L415.28,394.31 L416.25,395.71 L417.23,397.10 L418.21,398.48 L419.19,399.84 L420.16,401.18 L421.14,402.51 L422.12,403.82 L423.10,405.11 L424.08,406.38 L425.05,407.63 L426.03,408.87 L427.01,410.09 L427.99,411.29 L428.96,412.46 L429.94,413.62 L430.92,414.76 L431.89,415.88 L432.87,416.97 L433.85,418.05 L434.83,419.10 L435.81,420.14 L436.78,421.15 L437.76,422.13 L438.74,423.10 L439.72,424.04 L440.69,424.96 L441.67,425.85 L442.65,426.72 L443.62,427.57 L444.60,428.39 L445.58,429.19 L446.56,429.96 L447.54,430.71 L448.51,431.43 L449.49,432.13 L450.47,432.80 L451.45,433.45 L452.42,434.07 L453.40,434.66 L454.38,435.22 L455.36,435.76 L456.33,436.28 L457.31,436.57 L458.29,436.08 L459.26,435.55 L460.24,435.00 L461.22,434.42 L462.20,433.82 L463.17,433.19 L464.15,432.53 L465.13,431.84 L466.11,431.13 L467.09,430.40 L468.06,429.64 L469.04,428.85 L470.02,428.04 L471.00,427.21 L471.97,426.34 L472.95,425.46 L473.93,424.55 L474.91,423.62 L475.88,422.66 L476.86,421.68 L477.84,420.68 L478.82,419.66 L479.79,418.61 L480.77,417.54 L481.75,416.45 L482.73,415.34 L483.70,414.21 L484.68,413.05 L485.66,411.88 L486.63,410.68 L487.61,409.47 L488.59,408.24 L489.57,406.98 L490.55,405.71 L491.52,404.42 L492.50,403.12 L493.48,401.79 L494.46,400.45 L495.43,399.09 L496.41,397.71 L497.39,396.32 L498.37,394.91 L499.34,393.49 L500.32,392.05 L501.30,390.60 L502.27,389.13 L503.25,387.65 L504.23,386.16 L505.21,384.65 L506.18,383.13 L507.16,381.60 L508.14,380.05 L509.12,378.50 L510.10,376.93 L511.07,375.35 L512.05,373.77 L513.03,372.17 L514.00,370.56 L514.98,368.94 L515.96,367.32 L516.94,365.68 L517.92,364.04 L518.89,362.39 L519.87,360.73 L520.85,359.07 L521.83,357.40 L522.80,355.72 L523.78,354.04 L524.76,352.36 L525.74,350.66 L526.71,348.97 L527.69,347.26 L528.67,345.56 L529.65,343.85 L530.62,342.14 L531.60,340.43 L532.58,338.71 L533.56,336.99 L534.53,335.27 L535.51,333.55 L536.49,331.83 L537.47,330.10 L538.44,328.38 L539.42,326.65 L540.40,324.93 L541.38,323.21 L542.35,321.49 L543.33,319.77 L544.31,318.05 L545.29,316.33 L546.26,314.62 L547.24,312.91 L548.22,311.20 L549.20,309.49 L550.17,307.79 L551.15,306.09 L552.13,304.40 L553.11,302.71 L554.08,301.02 L555.06,299.34 L556.04,297.67 L557.01,296.00 L557.99,294.33 L558.97,292.68 L559.95,291.02 L560.92,289.38 L561.90,287.74 L562.88,286.11 L563.86,284.48 L564.84,282.87 L565.81,281.26 L566.79,279.66 L567.77,278.06 L568.75,276.48 L569.72,274.90 L570.70,273.33 L571.68,271.78 L572.66,270.23 L573.63,268.69 L574.61,267.16 L575.59,265.63 L576.57,264.12 L577.54,262.62 L578.52,261.13 L579.50,259.65 L580.48,258.18 L581.45,256.72 L582.43,255.28 L583.41,253.84 L584.39,252.41 L585.36,251.00 L586.34,249.60 L587.32,248.21 L588.30,246.83 L589.27,245.46 L590.25,244.11 L591.23,242.76 L592.21,241.43 L593.18,240.12 L594.16,238.81 L595.14,237.52 L596.12,236.24 L597.09,234.98 L598.07,233.72 L599.05,232.48 L600.02,231.26 L601.00,230.04 L601.98,228.85 L602.96,227.66 L603.94,226.49 L604.91,225.33 L605.89,224.19 L606.87,223.06 L607.85,221.94 L608.82,220.84 L609.80,219.75 L609.80,264.12 L608.82,265.63 L607.85,267.16 L606.87,268.69 L605.89,270.23 L604.91,271.78 L603.94,273.33 L602.96,274.90 L601.98,276.48 L601.00,278.06 L600.02,279.66 L599.05,281.26 L598.07,282.87 L597.09,284.48 L596.12,286.11 L595.14,287.74 L594.16,289.38 L593.18,291.02 L592.21,292.68 L591.23,294.33 L590.25,296.00 L589.27,297.67 L588.30,299.34 L587.32,301.02 L586.34,302.71 L585.36,304.40 L584.39,306.09 L583.41,307.79 L582.43,309.49 L581.45,311.20 L580.48,312.91 L579.50,314.62 L578.52,316.33 L577.54,318.05 L576.57,319.77 L575.59,321.49 L574.61,323.21 L573.63,324.93 L572.66,326.65 L571.68,328.38 L570.70,330.10 L569.72,331.83 L568.75,333.55 L567.77,335.27 L566.79,336.99 L565.81,338.71 L564.84,340.43 L563.86,342.14 L562.88,343.85 L561.90,345.56 L560.92,347.26 L559.95,348.97 L558.97,350.66 L557.99,352.36 L557.01,354.04 L556.04,355.72 L555.06,357.40 L554.08,359.07 L553.11,360.73 L552.13,362.39 L551.15,364.04 L550.17,365.68 L549.20,367.32 L548.22,368.94 L547.24,370.56 L546.26,372.17 L545.29,373.77 L544.31,375.35 L543.33,376.93 L542.35,378.50 L541.38,380.05 L540.40,381.60 L539.42,383.13 L538.44,384.65 L537.47,386.16 L536.49,387.65 L535.51,389.13 L534.53,390.60 L533.56,392.05 L532.58,393.49 L531.60,394.91 L530.62,396.32 L529.65,397.71 L528.67,399.09 L527.69,400.45 L526.71,401.79 L525.74,403.12 L524.76,404.42 L523.78,405.71 L522.80,406.98 L521.83,408.24 L520.85,409.47 L519.87,410.68 L518.89,411.88 L517.92,413.05 L516.94,414.21 L515.96,415.34 L514.98,416.45 L514.00,417.54 L513.03,418.61 L512.05,419.66 L511.07,420.68 L510.10,421.68 L509.12,422.66 L508.14,423.62 L507.16,424.55 L506.18,425.46 L505.21,426.34 L504.23,427.21 L503.25,428.04 L502.27,428.85 L501.30,429.64 L500.32,430.40 L499.34,431.13 L498.37,431.84 L497.39,432.53 L496.41,433.19 L495.43,433.82 L494.46,434.42 L493.48,435.00 L492.50,435.55 L491.52,436.08 L490.55,436.57 L489.57,437.04 L488.59,437.49 L487.61,437.90 L486.63,438.29 L485.66,438.65 L484.68,438.98 L483.70,439.28 L482.73,439.56 L481.75,439.81 L480.77,440.02 L479.79,440.21 L478.82,440.38 L477.84,440.51 L476.86,440.62 L475.88,440.69 L474.91,440.74 L473.93,440.76 L472.95,440.76 L471.97,440.76 L471.00,440.76 L470.02,440.76 L469.04,440.76 L468.06,440.76 L467.09,440.76 L466.11,440.76 L465.13,440.76 L464.15,440.76 L463.17,440.76 L462.20,440.76 L461.22,440.76 L460.24,440.76 L459.26,440.76 L458.29,440.76 L457.31,440.76 L456.33,440.76 L455.36,440.76 L454.38,440.76 L453.40,440.76 L452.42,440.76 L451.45,440.76 L450.47,440.76 L449.49,440.76 L448.51,440.76 L447.54,440.76 L446.56,440.76 L445.58,440.76 L444.60,440.76 L443.62,440.76 L442.65,440.76 L441.67,440.76 L440.69,440.76 L439.72,440.75 L438.74,440.71 L437.76,440.65 L436.78,440.55 L435.81,440.43 L434.83,440.28 L433.85,440.10 L432.87,439.89 L431.89,439.65 L430.92,439.39 L429.94,439.10 L428.96,438.78 L427.99,438.43 L427.01,438.05 L426.03,437.65 L425.05,437.22 L424.08,436.76 L423.10,436.28 L422.12,435.76 L421.14,435.22 L420.16,434.66 L419.19,434.07 L418.21,433.45 L417.23,432.80 L416.25,432.13 L415.28,431.43 L414.30,430.71 L413.32,429.96 L412.35,429.19 L411.37,428.39 L410.39,427.57 L409.41,426.72 L408.44,425.85 L407.46,424.96 L406.48,424.04 L405.50,423.10 L404.52,422.13 L403.55,421.15 L402.57,420.14 L401.59,419.10 L400.62,418.05 L399.64,416.97 L398.66,415.88 L397.68,414.76 L396.71,413.62 L395.73,412.46 L394.75,411.29 L393.77,410.09 L392.80,408.87 L391.82,407.63 L390.84,406.38 L389.86,405.11 L388.88,403.82 L387.91,402.51 L386.93,401.18 L385.95,399.84 L384.98,398.48 L384.00,397.10 L383.02,395.71 L382.04,394.31 L381.07,392.89 L380.09,391.45 L379.11,390.00 L378.13,388.54 L377.16,387.06 L376.18,385.57 L375.20,384.06 L374.22,382.55 L373.25,381.02 L372.27,379.48 L371.29,377.93 L370.31,376.37 L369.34,374.79 L368.36,373.21 L367.38,371.62 L366.40,370.02 L365.43,368.41 L364.45,366.79 L363.47,365.16 L362.49,363.53 L361.51,361.88 L360.54,360.23 L359.56,358.58 L358.58,356.91 L357.61,355.25 L356.63,353.57 L355.65,351.89 L354.67,350.21 L353.70,348.52 L352.72,346.82 L351.74,345.13 L350.76,343.43 L349.79,341.72 L348.81,340.02 L347.83,338.31 L346.85,336.60 L345.88,334.88 L344.90,333.17 L343.92,331.45 L342.94,329.74 L341.97,328.02 L340.99,326.30 L340.01,324.59 L339.03,322.87 L338.06,321.16 L337.08,319.44 L336.10,317.73 L335.12,316.02 L334.14,314.31 L333.17,312.60 L332.19,310.90 L331.21,309.20 L330.24,307.50 L329.26,305.81 L328.28,304.12 L327.30,302.43 L326.32,300.75 L325.35,299.08 L324.37,297.40 L323.39,295.74 L322.42,294.08 L321.44,292.42 L320.46,290.77 L319.48,289.13 L318.50,287.49 L317.53,285.86 L316.55,284.24 L315.57,282.62 L314.60,281.02 L313.62,279.41 L312.64,277.82 L311.66,276.24 L310.69,274.66 L309.71,273.09 L308.73,271.53 L307.75,269.98 L306.77,268.44 L305.80,266.91 L304.82,265.39 L303.84,263.87 L302.87,262.37 L301.89,260.88 L300.91,259.40 L299.93,257.92 L298.95,256.46 L297.98,255.01 L297.00,253.57 L296.02,252.14 L295.05,250.73 L294.07,249.32 L293.09,247.93 L292.11,246.54 L291.13,245.17 L290.16,243.82 L289.18,242.47 L288.20,241.14 L287.23,239.81 L286.25,238.50 L285.27,237.21 L284.29,235.93 L283.32,234.66 L282.34,233.40 L281.36,232.16 L280.38,230.92 L279.40,229.71 L278.43,228.51 L277.45,227.32 L276.47,226.14 L275.50,224.98 L274.52,223.83 L273.54,222.70 L272.56,221.58 L271.59,220.47 L270.61,219.38 L269.63,218.31 L268.65,217.25 L267.68,216.20 L266.70,215.17 L265.72,214.15 L264.74,213.15 L263.76,212.16 L262.79,211.19 L261.81,210.24 L260.83,209.30 L259.86,208.37 L258.88,207.46 L257.90,206.57 L256.92,205.69 L255.94,204.83 L254.97,203.98 L253.99,203.15 L253.01,202.33 L252.03,201.53 L251.06,200.75 L250.08,199.98 L249.10,199.23 L248.12,198.49 L247.15,197.77 L246.17,197.07 L245.19,196.38 L244.22,195.71 L243.24,195.06 L242.26,194.42 L241.28,193.80 L240.31,193.20 L239.33,192.61 L238.35,192.04 L237.37,191.48 L236.40,190.95 L235.42,190.42 L234.44,189.92 L233.46,189.43 L232.49,188.96 L231.51,188.51 L230.53,188.07 L229.55,187.65 L228.57,187.25 L227.60,186.86 L226.62,186.49 L225.64,186.14 L224.66,185.80 L223.69,185.48 L222.71,185.18 L221.73,185.38 L220.75,185.69 L219.78,186.02 L218.80,186.37 L217.82,186.73 L216.84,187.11 L215.87,187.50 L214.89,187.91 L213.91,188.34 L212.94,188.79 L211.96,189.25 L210.98,189.73 L210.00,190.22 L209.02,190.74 L208.05,191.26 L207.07,191.81 L206.09,192.37 L205.12,192.95 L204.14,193.54 L203.16,194.15 L202.18,194.78 L201.20,195.42 L200.23,196.08 L199.25,196.75 L198.27,197.44 L197.30,198.15 L196.32,198.87 L195.34,199.61 L194.36,200.36 L193.38,201.13 L192.41,201.92 L191.43,202.72 L190.45,203.53 L189.47,204.37 L188.50,205.21 L187.52,206.08 L186.54,206.96 L185.56,207.85 L184.59,208.76 L183.61,209.68 L182.63,210.62 L181.66,211.58 L180.68,212.55 L179.70,213.53 L178.72,214.53 L177.75,215.55 L176.77,216.58 L175.79,217.62 L174.81,218.68 L173.84,219.75 L172.86,220.84 L171.88,221.94 L170.90,223.06 L169.93,224.19 L168.95,225.33 L167.97,226.49 L166.99,227.66 L166.01,228.85 L165.04,230.04 L164.06,231.26 L163.08,232.48 L162.10,233.72 L161.13,234.98 L160.15,236.24 L159.17,237.52 L158.19,238.81 L157.22,240.12 L156.24,241.43 L155.26,242.76 L154.28,244.11 L153.31,245.46 L152.33,246.83 L151.35,248.21 L150.38,249.60 L149.40,251.00 L148.42,252.41 L147.44,253.84 L146.47,255.28 L145.49,256.72 L144.51,258.18 L143.53,259.65 L142.56,261.13 L141.58,262.62 L140.60,264.12 Z" fill="#a2a2ee" fill-opacity="0.85" filter="url(#soft2)"/>
<path d="M140.60,403.23 L141.58,402.21 L142.56,401.19 L143.53,400.15 L144.51,399.09 L145.49,398.03 L146.47,396.95 L147.44,395.86 L148.42,394.75 L149.40,393.63 L150.38,392.50 L151.35,391.36 L152.33,390.20 L153.31,389.03 L154.28,387.85 L155.26,386.66 L156.24,385.45 L157.22,384.23 L158.19,383.00 L159.17,381.75 L160.15,380.49 L161.13,379.22 L162.10,377.94 L163.08,376.65 L164.06,375.34 L165.04,374.02 L166.01,372.69 L166.99,371.35 L167.97,370.00 L168.95,368.64 L169.93,367.26 L170.90,365.88 L171.88,364.48 L172.86,363.07 L173.84,361.66 L174.81,360.23 L175.79,358.79 L176.77,357.34 L177.75,355.88 L178.72,354.41 L179.70,352.94 L180.68,351.45 L181.66,349.95 L182.63,348.45 L183.61,346.94 L184.59,345.41 L185.56,343.88 L186.54,342.35 L187.52,340.80 L188.50,339.25 L189.47,337.69 L190.45,336.12 L191.43,334.54 L192.41,332.96 L193.38,331.38 L194.36,329.78 L195.34,328.18 L196.32,326.58 L197.30,324.97 L198.27,323.36 L199.25,321.74 L200.23,320.11 L201.20,318.49 L202.18,316.86 L203.16,315.22 L204.14,313.58 L205.12,311.94 L206.09,310.30 L207.07,308.66 L208.05,307.01 L209.02,305.36 L210.00,303.71 L210.98,302.06 L211.96,300.41 L212.94,298.76 L213.91,297.11 L214.89,295.46 L215.87,293.81 L216.84,292.16 L217.82,290.51 L218.80,288.86 L219.78,287.22 L220.75,285.58 L221.73,283.94 L222.71,282.30 L223.69,280.67 L224.66,279.04 L225.64,277.42 L226.62,275.80 L227.60,274.18 L228.57,272.57 L229.55,270.96 L230.53,269.36 L231.51,267.77 L232.49,266.18 L233.46,264.60 L234.44,263.03 L235.42,261.46 L236.40,259.90 L237.37,258.35 L238.35,256.80 L239.33,255.27 L240.31,253.74 L241.28,252.23 L242.26,250.72 L243.24,249.22 L244.22,247.73 L245.19,246.26 L246.17,244.79 L247.15,243.33 L248.12,241.89 L249.10,240.46 L250.08,239.03 L251.06,237.63 L252.03,236.23 L253.01,234.85 L253.99,233.47 L254.97,232.12 L255.94,230.77 L256.92,229.44 L257.90,228.13 L258.88,226.82 L259.86,225.54 L260.83,224.26 L261.81,223.01 L262.79,221.76 L263.76,220.54 L264.74,219.33 L265.72,218.13 L266.70,216.95 L267.68,215.79 L268.65,214.65 L269.63,213.52 L270.61,212.41 L271.59,211.31 L272.56,210.24 L273.54,209.18 L274.52,208.14 L275.50,207.12 L276.47,206.12 L277.45,205.13 L278.43,204.17 L279.40,203.22 L280.38,202.29 L281.36,201.39 L282.34,200.50 L283.32,199.63 L284.29,198.78 L285.27,197.96 L286.25,197.15 L287.23,196.36 L288.20,195.60 L289.18,194.85 L290.16,194.13 L291.13,193.43 L292.11,192.74 L293.09,192.09 L294.07,191.45 L295.05,190.83 L296.02,190.24 L297.00,189.67 L297.98,189.12 L298.95,188.59 L299.93,188.09 L300.91,187.61 L301.89,187.15 L302.87,186.72 L303.84,186.30 L304.82,185.92 L305.80,185.55 L306.77,185.21 L307.75,184.89 L308.73,184.60 L309.71,184.33 L310.69,184.08 L311.66,183.86 L312.64,183.66 L313.62,183.49 L314.60,183.34 L315.57,183.21 L316.55,183.11 L317.53,183.04 L318.50,182.99 L319.48,182.96 L320.46,182.96 L321.44,182.96 L322.42,182.96 L323.39,182.96 L324.37,182.96 L325.35,182.96 L326.32,182.96 L327.30,182.96 L328.28,182.96 L329.26,182.96 L330.24,182.96 L331.21,182.96 L332.19,182.96 L333.17,182.96 L334.14,182.96 L335.12,182.96 L336.10,182.96 L337.08,182.96 L338.06,182.96 L339.03,182.96 L340.01,182.96 L340.99,182.96 L341.97,182.96 L342.94,182.96 L343.92,182.96 L344.90,182.96 L345.88,182.96 L346.85,182.96 L347.83,182.96 L348.81,182.96 L349.79,182.96 L350.76,182.96 L351.74,182.96 L352.72,182.96 L353.70,182.96 L354.67,182.96 L355.65,182.96 L356.63,182.96 L357.61,182.96 L358.58,182.96 L359.56,182.96 L360.54,182.96 L361.51,182.96 L362.49,182.96 L363.47,182.96 L364.45,182.96 L365.43,182.96 L366.40,182.96 L367.38,182.96 L368.36,182.96 L369.34,182.96 L370.31,182.96 L371.29,182.96 L372.27,182.96 L373.25,182.96 L374.22,182.96 L375.20,182.96 L376.18,182.99 L377.16,183.04 L378.13,183.11 L379.11,183.21 L380.09,183.33 L381.07,183.48 L382.04,183.66 L383.02,183.86 L384.00,184.09 L384.98,184.34 L385.95,184.62 L386.93,184.92 L387.91,185.25 L388.88,185.60 L389.86,185.98 L390.84,186.39 L391.82,186.82 L392.80,187.28 L393.77,187.76 L394.75,188.27 L395.73,188.80 L396.71,189.36 L397.68,189.94 L398.66,190.55 L399.64,191.19 L400.62,191.85 L401.59,192.54 L402.57,193.25 L403.55,193.98 L404.52,194.75 L405.50,195.53 L406.48,196.35 L407.46,197.18 L408.44,198.05 L409.41,198.93 L410.39,199.84 L411.37,200.78 L412.35,201.74 L413.32,202.73 L414.30,203.73 L415.28,204.77 L416.25,205.82 L417.23,206.91 L418.21,208.01 L419.19,209.14 L420.16,210.29 L421.14,211.46 L422.12,212.66 L423.10,213.88 L424.08,215.12 L425.05,216.38 L426.03,217.67 L427.01,218.97 L427.99,220.30 L428.96,221.65 L429.94,223.02 L430.92,224.41 L431.89,225.82 L432.87,227.26 L433.85,228.71 L434.83,230.18 L435.81,231.67 L436.78,233.18 L437.76,234.71 L438.74,236.25 L439.72,237.82 L440.69,239.40 L441.67,241.00 L442.65,242.62 L443.62,244.25 L444.60,245.90 L445.58,247.56 L446.56,249.24 L447.54,250.94 L448.51,252.65 L449.49,254.37 L450.47,256.11 L451.45,257.86 L452.42,259.62 L453.40,261.40 L454.38,263.19 L455.36,264.99 L456.33,266.80 L457.31,268.62 L458.29,270.45 L459.26,272.29 L460.24,274.15 L461.22,276.01 L462.20,277.88 L463.17,279.75 L464.15,281.64 L465.13,283.53 L466.11,285.43 L467.09,287.33 L468.06,289.24 L469.04,291.15 L470.02,293.07 L471.00,295.00 L471.97,296.92 L472.95,298.85 L473.93,300.78 L474.91,302.72 L475.88,304.65 L476.86,306.59 L477.84,308.53 L478.82,310.46 L479.79,312.40 L480.77,314.34 L481.75,316.27 L482.73,318.20 L483.70,320.13 L484.68,322.06 L485.66,323.98 L486.63,325.90 L487.61,327.81 L488.59,329.72 L489.57,331.63 L490.55,333.52 L491.52,335.42 L492.50,337.30 L493.48,339.18 L494.46,341.05 L495.43,342.91 L496.41,344.76 L497.39,346.60 L498.37,348.43 L499.34,350.26 L500.32,352.07 L501.30,353.87 L502.27,355.66 L503.25,357.44 L504.23,359.20 L505.21,360.95 L506.18,362.69 L507.16,364.42 L508.14,366.13 L509.12,367.83 L510.10,369.51 L511.07,371.18 L512.05,372.84 L513.03,374.47 L514.00,376.09 L514.98,377.70 L515.96,379.29 L516.94,380.86 L517.92,382.41 L518.89,383.95 L519.87,385.47 L520.85,386.97 L521.83,388.45 L522.80,389.92 L523.78,391.36 L524.76,392.79 L525.74,394.20 L526.71,395.58 L527.69,396.95 L528.67,398.30 L529.65,399.63 L530.62,400.93 L531.60,402.22 L532.58,403.49 L533.56,404.73 L534.53,405.96 L535.51,407.16 L536.49,408.34 L537.47,409.51 L538.44,410.65 L539.42,411.77 L540.40,412.86 L541.38,413.94 L542.35,414.99 L543.33,416.03 L544.31,417.04 L545.29,418.03 L546.26,418.99 L547.24,419.94 L548.22,420.86 L549.20,421.76 L550.17,422.64 L551.15,423.50 L552.13,424.34 L553.11,425.15 L554.08,425.95 L555.06,426.72 L556.04,427.47 L557.01,428.20 L557.99,428.91 L558.97,429.59 L559.95,430.26 L560.92,430.90 L561.90,431.52 L562.88,432.12 L563.86,432.70 L564.84,433.26 L565.81,433.80 L566.79,434.32 L567.77,434.30 L568.75,433.86 L569.72,433.40 L570.70,432.93 L571.68,432.44 L572.66,431.94 L573.63,431.43 L574.61,430.91 L575.59,430.37 L576.57,429.82 L577.54,429.25 L578.52,428.67 L579.50,428.08 L580.48,427.48 L581.45,426.86 L582.43,426.23 L583.41,425.59 L584.39,424.93 L585.36,424.26 L586.34,423.58 L587.32,422.88 L588.30,422.17 L589.27,421.45 L590.25,420.71 L591.23,419.96 L592.21,419.20 L593.18,418.43 L594.16,417.64 L595.14,416.84 L596.12,416.02 L597.09,415.19 L598.07,414.35 L599.05,413.50 L600.02,412.63 L601.00,411.75 L601.98,410.86 L602.96,409.95 L603.94,409.03 L604.91,408.09 L605.89,407.15 L606.87,406.19 L607.85,405.21 L608.82,404.23 L609.80,403.23 L609.80,438.83 L608.82,439.08 L607.85,439.31 L606.87,439.53 L605.89,439.74 L604.91,439.93 L603.94,440.10 L602.96,440.26 L601.98,440.41 L601.00,440.54 L600.02,440.65 L599.05,440.75 L598.07,440.84 L597.09,440.90 L596.12,440.95 L595.14,440.99 L594.16,441.01 L593.18,441.01 L592.21,441.01 L591.23,441.01 L590.25,441.01 L589.27,441.01 L588.30,441.01 L587.32,441.01 L586.34,441.01 L585.36,441.01 L584.39,441.01 L583.41,441.01 L582.43,441.01 L581.45,441.01 L580.48,441.01 L579.50,441.01 L578.52,441.01 L577.54,441.01 L576.57,441.01 L575.59,441.01 L574.61,441.01 L573.63,441.01 L572.66,441.01 L571.68,441.01 L570.70,441.01 L569.72,441.01 L568.75,441.01 L567.77,441.01 L566.79,441.01 L565.81,441.01 L564.84,441.01 L563.86,441.01 L562.88,441.01 L561.90,441.01 L560.92,441.01 L559.95,441.01 L558.97,441.01 L557.99,441.01 L557.01,441.01 L556.04,441.01 L555.06,441.01 L554.08,441.01 L553.11,441.01 L552.13,441.01 L551.15,441.01 L550.17,441.01 L549.20,441.01 L548.22,441.01 L547.24,441.01 L546.26,441.01 L545.29,441.01 L544.31,441.01 L543.33,441.01 L542.35,441.01 L541.38,441.01 L540.40,441.01 L539.42,441.01 L538.44,441.01 L537.47,441.00 L536.49,440.96 L535.51,440.92 L534.53,440.85 L533.56,440.77 L532.58,440.67 L531.60,440.55 L530.62,440.42 L529.65,440.27 L528.67,440.10 L527.69,439.91 L526.71,439.70 L525.74,439.48 L524.76,439.24 L523.78,438.97 L522.80,438.69 L521.83,438.39 L520.85,438.07 L519.87,437.74 L518.89,437.38 L517.92,437.00 L516.94,436.60 L515.96,436.19 L514.98,435.75 L514.00,435.29 L513.03,434.82 L512.05,434.32 L511.07,433.80 L510.10,433.26 L509.12,432.70 L508.14,432.12 L507.16,431.52 L506.18,430.90 L505.21,430.26 L504.23,429.59 L503.25,428.91 L502.27,428.20 L501.30,427.47 L500.32,426.72 L499.34,425.95 L498.37,425.15 L497.39,424.34 L496.41,423.50 L495.43,422.64 L494.46,421.76 L493.48,420.86 L492.50,419.94 L491.52,418.99 L490.55,418.03 L489.57,417.04 L488.59,416.03 L487.61,414.99 L486.63,413.94 L485.66,412.86 L484.68,411.77 L483.70,410.65 L482.73,409.51 L481.75,408.34 L480.77,407.16 L479.79,405.96 L478.82,404.73 L477.84,403.49 L476.86,402.22 L475.88,400.93 L474.91,399.63 L473.93,398.30 L472.95,396.95 L471.97,395.58 L471.00,394.20 L470.02,392.79 L469.04,391.36 L468.06,389.92 L467.09,388.45 L466.11,386.97 L465.13,385.47 L464.15,383.95 L463.17,382.41 L462.20,380.86 L461.22,379.29 L460.24,377.70 L459.26,376.09 L458.29,374.47 L457.31,372.84 L456.33,371.18 L455.36,369.51 L454.38,367.83 L453.40,366.13 L452.42,364.42 L451.45,362.69 L450.47,360.95 L449.49,359.20 L448.51,357.44 L447.54,355.66 L446.56,353.87 L445.58,352.07 L444.60,350.26 L443.62,348.43 L442.65,346.60 L441.67,344.76 L440.69,342.91 L439.72,341.05 L438.74,339.18 L437.76,337.30 L436.78,335.42 L435.81,333.52 L434.83,331.63 L433.85,329.72 L432.87,327.81 L431.89,325.90 L430.92,323.98 L429.94,322.06 L428.96,320.13 L427.99,318.20 L427.01,316.27 L426.03,314.34 L425.05,312.40 L424.08,310.46 L423.10,308.53 L422.12,306.59 L421.14,304.65 L420.16,302.72 L419.19,300.78 L418.21,298.85 L417.23,296.92 L416.25,295.00 L415.28,293.07 L414.30,291.15 L413.32,289.24 L412.35,287.33 L411.37,285.43 L410.39,283.53 L409.41,281.64 L408.44,279.75 L407.46,277.88 L406.48,276.01 L405.50,274.15 L404.52,272.29 L403.55,270.45 L402.57,268.62 L401.59,266.80 L400.62,264.99 L399.64,263.19 L398.66,261.40 L397.68,259.62 L396.71,257.86 L395.73,256.11 L394.75,254.37 L393.77,252.65 L392.80,250.94 L391.82,249.24 L390.84,247.56 L389.86,245.90 L388.88,244.25 L387.91,242.62 L386.93,241.00 L385.95,239.40 L384.98,237.82 L384.00,236.25 L383.02,234.71 L382.04,233.18 L381.07,231.67 L380.09,230.18 L379.11,228.71 L378.13,227.26 L377.16,225.82 L376.18,224.41 L375.20,223.02 L374.22,221.65 L373.25,220.30 L372.27,218.97 L371.29,217.67 L370.31,216.38 L369.34,215.12 L368.36,213.88 L367.38,212.66 L366.40,211.46 L365.43,210.29 L364.45,209.14 L363.47,208.01 L362.49,206.91 L361.51,205.82 L360.54,204.77 L359.56,203.73 L358.58,202.73 L357.61,201.74 L356.63,200.78 L355.65,199.84 L354.67,198.93 L353.70,198.05 L352.72,197.18 L351.74,196.35 L350.76,195.53 L349.79,194.75 L348.81,193.98 L347.83,193.25 L346.85,192.74 L345.88,193.43 L344.90,194.13 L343.92,194.85 L342.94,195.60 L341.97,196.36 L340.99,197.15 L340.01,197.96 L339.03,198.78 L338.06,199.63 L337.08,200.50 L336.10,201.39 L335.12,202.29 L334.14,203.22 L333.17,204.17 L332.19,205.13 L331.21,206.12 L330.24,207.12 L329.26,208.14 L328.28,209.18 L327.30,210.24 L326.32,211.31 L325.35,212.41 L324.37,213.52 L323.39,214.65 L322.42,215.79 L321.44,216.95 L320.46,218.13 L319.48,219.33 L318.50,220.54 L317.53,221.76 L316.55,223.01 L315.57,224.26 L314.60,225.54 L313.62,226.82 L312.64,228.13 L311.66,229.44 L310.69,230.77 L309.71,232.12 L308.73,233.47 L307.75,234.85 L306.77,236.23 L305.80,237.63 L304.82,239.03 L303.84,240.46 L302.87,241.89 L301.89,243.33 L300.91,244.79 L299.93,246.26 L298.95,247.73 L297.98,249.22 L297.00,250.72 L296.02,252.23 L295.05,253.74 L294.07,255.27 L293.09,256.80 L292.11,258.35 L291.13,259.90 L290.16,261.46 L289.18,263.03 L288.20,264.60 L287.23,266.18 L286.25,267.77 L285.27,269.36 L284.29,270.96 L283.32,272.57 L282.34,274.18 L281.36,275.80 L280.38,277.42 L279.40,279.04 L278.43,280.67 L277.45,282.30 L276.47,283.94 L275.50,285.58 L274.52,287.22 L273.54,288.86 L272.56,290.51 L271.59,292.16 L270.61,293.81 L269.63,295.46 L268.65,297.11 L267.68,298.76 L266.70,300.41 L265.72,302.06 L264.74,303.71 L263.76,305.36 L262.79,307.01 L261.81,308.66 L260.83,310.30 L259.86,311.94 L258.88,313.58 L257.90,315.22 L256.92,316.86 L255.94,318.49 L254.97,320.11 L253.99,321.74 L253.01,323.36 L252.03,324.97 L251.06,326.58 L250.08,328.18 L249.10,329.78 L248.12,331.38 L247.15,332.96 L246.17,334.54 L245.19,336.12 L244.22,337.69 L243.24,339.25 L242.26,340.80 L241.28,342.35 L240.31,343.88 L239.33,345.41 L238.35,346.94 L237.37,348.45 L236.40,349.95 L235.42,351.45 L234.44,352.94 L233.46,354.41 L232.49,355.88 L231.51,357.34 L230.53,358.79 L229.55,360.23 L228.57,361.66 L227.60,363.07 L226.62,364.48 L225.64,365.88 L224.66,367.26 L223.69,368.64 L222.71,370.00 L221.73,371.35 L220.75,372.69 L219.78,374.02 L218.80,375.34 L217.82,376.65 L216.84,377.94 L215.87,379.22 L214.89,380.49 L213.91,381.75 L212.94,383.00 L211.96,384.23 L210.98,385.45 L210.00,386.66 L209.02,387.85 L208.05,389.03 L207.07,390.20 L206.09,391.36 L205.12,392.50 L204.14,393.63 L203.16,394.75 L202.18,395.86 L201.20,396.95 L200.23,398.03 L199.25,399.09 L198.27,400.15 L197.30,401.19 L196.32,402.21 L195.34,403.23 L194.36,404.23 L193.38,405.21 L192.41,406.19 L191.43,407.15 L190.45,408.09 L189.47,409.03 L188.50,409.95 L187.52,410.86 L186.54,411.75 L185.56,412.63 L184.59,413.50 L183.61,414.35 L182.63,415.19 L181.66,416.02 L180.68,416.84 L179.70,417.64 L178.72,418.43 L177.75,419.20 L176.77,419.96 L175.79,420.71 L174.81,421.45 L173.84,422.17 L172.86,422.88 L171.88,423.58 L170.90,424.26 L169.93,424.93 L168.95,425.59 L167.97,426.23 L166.99,426.86 L166.01,427.48 L165.04,428.08 L164.06,428.67 L163.08,429.25 L162.10,429.82 L161.13,430.37 L160.15,430.91 L159.17,431.43 L158.19,431.94 L157.22,432.44 L156.24,432.93 L155.26,433.40 L154.28,433.86 L153.31,434.30 L152.33,434.73 L151.35,435.15 L150.38,435.55 L149.40,435.94 L148.42,436.32 L147.44,436.68 L146.47,437.03 L145.49,437.37 L144.51,437.69 L143.53,437.99 L142.56,438.29 L141.58,438.56 L140.60,438.83 Z" fill="#f8a2a2" fill-opacity="0.3" filter="url(#soft2)"/>
</g>
<line x1="140.2" y1="170" x2="140.2" y2="455" stroke="#8a8a8a" stroke-width="1.2"/>
<line x1="609.5" y1="170" x2="609.5" y2="446" stroke="#c8c8c8" stroke-width="1"/>
<line x1="122.5" y1="181.2" x2="141" y2="181.2" stroke="#000" stroke-width="2.6"/>
<line x1="122.5" y1="311.8" x2="141" y2="311.8" stroke="#000" stroke-width="2.6"/>
<line x1="123" y1="443.3" x2="311" y2="443.3" stroke="#000" stroke-width="3" stroke-linecap="round"/>
<rect x="310" y="441.8" width="65" height="3" fill="url(#minfade)"/>
<path d="M140.60,198.90 L142.56,197.22 L144.51,195.62 L146.47,194.10 L148.42,192.66 L150.38,191.30 L152.33,190.02 L154.28,188.82 L156.24,187.71 L158.19,186.67 L160.15,185.73 L162.10,184.86 L164.06,184.08 L166.01,183.39 L167.97,182.78 L169.93,182.26 L171.88,182.00 L173.84,182.00 L175.79,182.00 L177.75,182.00 L179.70,182.00 L181.66,182.00 L183.61,182.00 L185.56,182.00 L187.52,182.00 L189.47,182.00 L191.43,182.29 L193.38,182.82 L195.34,183.43 L197.30,184.13 L199.25,184.91 L201.20,185.78 L203.16,186.74 L205.12,187.78 L207.07,188.90 L209.02,190.10 L210.98,191.39 L212.94,192.76 L214.89,194.20 L216.84,195.73 L218.80,197.33 L220.75,199.02 L222.71,200.77 L224.66,202.60 L226.62,204.51 L228.57,206.48 L230.53,208.53 L232.49,210.65 L234.44,212.83 L236.40,215.09 L238.35,217.40 L240.31,219.78 L242.26,222.22 L244.22,224.73 L246.17,227.29 L248.12,229.90 L250.08,232.57 L252.03,235.30 L253.99,238.08 L255.94,240.90 L257.90,243.77 L259.86,246.69 L261.81,249.65 L263.76,252.66 L265.72,255.70 L267.68,258.78 L269.63,261.89 L271.59,265.04 L273.54,268.22 L275.50,271.43 L277.45,274.66 L279.40,277.92 L281.36,281.20 L283.32,284.50 L285.27,287.82 L287.23,291.15 L289.18,294.50 L291.13,297.86 L293.09,301.22 L295.05,304.59 L297.00,307.97 L298.95,311.35 L300.91,314.73 L302.87,318.10 L304.82,321.47 L306.77,324.84 L308.73,328.19 L310.69,331.53 L312.64,334.86 L314.60,338.17 L316.55,341.46 L318.50,344.73 L320.46,347.98 L322.42,351.21 L324.37,354.40 L326.32,357.57 L328.28,360.71 L330.24,363.81 L332.19,366.88 L334.14,369.91 L336.10,372.90 L338.06,375.84 L340.01,378.75 L341.97,381.61 L343.92,384.42 L345.88,387.18 L347.83,389.89 L349.79,392.54 L351.74,395.15 L353.70,397.69 L355.65,400.18 L357.61,402.60 L359.56,404.97 L361.51,407.27 L363.47,409.51 L365.43,411.68 L367.38,413.78 L369.34,415.81 L371.29,417.77 L373.25,419.66 L375.20,421.47 L377.16,423.21 L379.11,424.88 L381.07,426.46 L383.02,427.97 L384.98,429.40 L386.93,430.75 L388.88,432.01 L390.84,433.19 L392.80,434.29 L394.75,435.31 L396.71,436.24 L398.66,437.08 L400.62,437.84 L402.57,438.51 L404.52,439.09 L406.48,439.58 L408.44,439.99 L410.39,440.30 L412.35,440.53 L414.30,440.67 L416.25,440.71 L418.21,440.67 L420.16,440.53 L422.12,440.31 L424.08,440.00 L426.03,439.59 L427.99,439.10 L429.94,438.51 L431.89,437.84 L433.85,437.08 L435.81,436.23 L437.76,435.29 L439.72,434.26 L441.67,433.15 L443.62,431.95 L445.58,430.67 L447.54,429.30 L449.49,427.85 L451.45,426.31 L453.40,424.70 L455.36,423.00 L457.31,421.23 L459.26,419.37 L461.22,417.44 L463.17,415.44 L465.13,413.36 L467.09,411.21 L469.04,408.99 L471.00,406.69 L472.95,404.33 L474.91,401.91 L476.86,399.42 L478.82,396.87 L480.77,394.25 L482.73,391.58 L484.68,388.85 L486.63,386.07 L488.59,383.23 L490.55,380.35 L492.50,377.41 L494.46,374.43 L496.41,371.40 L498.37,368.33 L500.32,365.22 L502.27,362.08 L504.23,358.90 L506.18,355.68 L508.14,352.43 L510.10,349.16 L512.05,345.86 L514.00,342.54 L515.96,339.19 L517.92,335.83 L519.87,332.45 L521.83,329.05 L523.78,325.65 L525.74,322.23 L527.69,318.81 L529.65,315.38 L531.60,311.96 L533.56,308.53 L535.51,305.10 L537.47,301.69 L539.42,298.27 L541.38,294.87 L543.33,291.48 L545.29,288.11 L547.24,284.75 L549.20,281.42 L551.15,278.10 L553.11,274.81 L555.06,271.54 L557.01,268.31 L558.97,265.10 L560.92,261.93 L562.88,258.79 L564.84,255.69 L566.79,252.63 L568.75,249.60 L570.70,246.63 L572.66,243.69 L574.61,240.81 L576.57,237.97 L578.52,235.19 L580.48,232.45 L582.43,229.78 L584.39,227.15 L586.34,224.59 L588.30,222.08 L590.25,219.64 L592.21,217.26 L594.16,214.94 L596.12,212.69 L598.07,210.51 L600.02,208.40 L601.98,206.35 L603.94,204.38 L605.89,202.48 L607.85,200.65 L609.80,198.90" fill="none" stroke="#000" stroke-width="3.6"/>
<path d="M140.60,240.12 L142.56,237.52 L144.51,234.98 L146.47,232.48 L148.42,230.04 L150.38,227.66 L152.33,225.33 L154.28,223.06 L156.24,220.84 L158.19,218.68 L160.15,216.58 L162.10,214.53 L164.06,212.55 L166.01,210.62 L167.97,208.76 L169.93,206.96 L171.88,205.21 L173.84,203.53 L175.79,201.92 L177.75,200.36 L179.70,198.87 L181.66,197.44 L183.61,196.08 L185.56,194.78 L187.52,193.54 L189.47,192.37 L191.43,191.26 L193.38,190.22 L195.34,189.25 L197.30,188.34 L199.25,187.50 L201.20,186.73 L203.16,186.02 L205.12,185.38 L207.07,184.81 L209.02,184.30 L210.98,183.86 L212.94,183.49 L214.89,183.19 L216.84,182.96 L218.80,182.79 L220.75,182.70 L222.71,182.67 L224.66,182.71 L226.62,182.81 L228.57,182.99 L230.53,183.23 L232.49,183.55 L234.44,183.93 L236.40,184.38 L238.35,184.90 L240.31,185.48 L242.26,186.14 L244.22,186.86 L246.17,187.65 L248.12,188.51 L250.08,189.43 L252.03,190.42 L253.99,191.48 L255.94,192.61 L257.90,193.80 L259.86,195.06 L261.81,196.38 L263.76,197.77 L265.72,199.23 L267.68,200.75 L269.63,202.33 L271.59,203.98 L273.54,205.69 L275.50,207.46 L277.45,209.30 L279.40,211.19 L281.36,213.15 L283.32,215.17 L285.27,217.25 L287.23,219.38 L289.18,221.58 L291.13,223.83 L293.09,226.14 L295.05,228.51 L297.00,230.92 L298.95,233.40 L300.91,235.93 L302.87,238.50 L304.82,241.14 L306.77,243.82 L308.73,246.54 L310.69,249.32 L312.64,252.14 L314.60,255.01 L316.55,257.92 L318.50,260.88 L320.46,263.87 L322.42,266.91 L324.37,269.98 L326.32,273.09 L328.28,276.24 L330.24,279.41 L332.19,282.62 L334.14,285.86 L336.10,289.13 L338.06,292.42 L340.01,295.74 L341.97,299.08 L343.92,302.43 L345.88,305.81 L347.83,309.20 L349.79,312.60 L351.74,316.02 L353.70,319.44 L355.65,322.87 L357.61,326.30 L359.56,329.74 L361.51,333.17 L363.47,336.60 L365.43,340.02 L367.38,343.43 L369.34,346.82 L371.29,350.21 L373.25,353.57 L375.20,356.91 L377.16,360.23 L379.11,363.53 L381.07,366.79 L383.02,370.02 L384.98,373.21 L386.93,376.37 L388.88,379.48 L390.84,382.55 L392.80,385.57 L394.75,388.54 L396.71,391.45 L398.66,394.31 L400.62,397.10 L402.57,399.84 L404.52,402.51 L406.48,405.11 L408.44,407.63 L410.39,410.09 L412.35,412.46 L414.30,414.76 L416.25,416.97 L418.21,419.10 L420.16,421.15 L422.12,423.10 L424.08,424.96 L426.03,426.72 L427.99,428.39 L429.94,429.96 L431.89,431.43 L433.85,432.80 L435.81,434.07 L437.76,435.22 L439.72,436.28 L441.67,437.22 L443.62,438.05 L445.58,438.78 L447.54,439.39 L449.49,439.89 L451.45,440.28 L453.40,440.55 L455.36,440.71 L457.31,440.76 L459.26,440.69 L461.22,440.51 L463.17,440.21 L465.13,439.81 L467.09,439.28 L469.04,438.65 L471.00,437.90 L472.95,437.04 L474.91,436.08 L476.86,435.00 L478.82,433.82 L480.77,432.53 L482.73,431.13 L484.68,429.64 L486.63,428.04 L488.59,426.34 L490.55,424.55 L492.50,422.66 L494.46,420.68 L496.41,418.61 L498.37,416.45 L500.32,414.21 L502.27,411.88 L504.23,409.47 L506.18,406.98 L508.14,404.42 L510.10,401.79 L512.05,399.09 L514.00,396.32 L515.96,393.49 L517.92,390.60 L519.87,387.65 L521.83,384.65 L523.78,381.60 L525.74,378.50 L527.69,375.35 L529.65,372.17 L531.60,368.94 L533.56,365.68 L535.51,362.39 L537.47,359.07 L539.42,355.72 L541.38,352.36 L543.33,348.97 L545.29,345.56 L547.24,342.14 L549.20,338.71 L551.15,335.27 L553.11,331.83 L555.06,328.38 L557.01,324.93 L558.97,321.49 L560.92,318.05 L562.88,314.62 L564.84,311.20 L566.79,307.79 L568.75,304.40 L570.70,301.02 L572.66,297.67 L574.61,294.33 L576.57,291.02 L578.52,287.74 L580.48,284.48 L582.43,281.26 L584.39,278.06 L586.34,274.90 L588.30,271.78 L590.25,268.69 L592.21,265.63 L594.16,262.62 L596.12,259.65 L598.07,256.72 L600.02,253.84 L601.98,251.00 L603.94,248.21 L605.89,245.46 L607.85,242.76 L609.80,240.12" fill="none" stroke="#0000ff" stroke-width="3.6"/>
<path d="M140.60,424.93 L142.56,423.58 L144.51,422.17 L146.47,420.71 L148.42,419.20 L150.38,417.64 L152.33,416.02 L154.28,414.35 L156.24,412.63 L158.19,410.86 L160.15,409.03 L162.10,407.15 L164.06,405.21 L166.01,403.23 L167.97,401.19 L169.93,399.09 L171.88,396.95 L173.84,394.75 L175.79,392.50 L177.75,390.20 L179.70,387.85 L181.66,385.45 L183.61,383.00 L185.56,380.49 L187.52,377.94 L189.47,375.34 L191.43,372.69 L193.38,370.00 L195.34,367.26 L197.30,364.48 L199.25,361.66 L201.20,358.79 L203.16,355.88 L205.12,352.94 L207.07,349.95 L209.02,346.94 L210.98,343.88 L212.94,340.80 L214.89,337.69 L216.84,334.54 L218.80,331.38 L220.75,328.18 L222.71,324.97 L224.66,321.74 L226.62,318.49 L228.57,315.22 L230.53,311.94 L232.49,308.66 L234.44,305.36 L236.40,302.06 L238.35,298.76 L240.31,295.46 L242.26,292.16 L244.22,288.86 L246.17,285.58 L248.12,282.30 L250.08,279.04 L252.03,275.80 L253.99,272.57 L255.94,269.36 L257.90,266.18 L259.86,263.03 L261.81,259.90 L263.76,256.80 L265.72,253.74 L267.68,250.72 L269.63,247.73 L271.59,244.79 L273.54,241.89 L275.50,239.03 L277.45,236.23 L279.40,233.47 L281.36,230.77 L283.32,228.13 L285.27,225.54 L287.23,223.01 L289.18,220.54 L291.13,218.13 L293.09,215.79 L295.05,213.52 L297.00,211.31 L298.95,209.18 L300.91,207.12 L302.87,205.13 L304.82,203.22 L306.77,201.39 L308.73,199.63 L310.69,197.96 L312.64,196.36 L314.60,194.85 L316.55,193.43 L318.50,192.09 L320.46,190.83 L322.42,189.67 L324.37,188.59 L326.32,187.61 L328.28,186.72 L330.24,185.92 L332.19,185.21 L334.14,184.60 L336.10,184.08 L338.06,183.66 L340.01,183.34 L341.97,183.11 L343.92,182.99 L345.88,182.96 L347.83,183.04 L349.79,183.21 L351.74,183.48 L353.70,183.86 L355.65,184.34 L357.61,184.92 L359.56,185.60 L361.51,186.39 L363.47,187.28 L365.43,188.27 L367.38,189.36 L369.34,190.55 L371.29,191.85 L373.25,193.25 L375.20,194.75 L377.16,196.35 L379.11,198.05 L381.07,199.84 L383.02,201.74 L384.98,203.73 L386.93,205.82 L388.88,208.01 L390.84,210.29 L392.80,212.66 L394.75,215.12 L396.71,217.67 L398.66,220.30 L400.62,223.02 L402.57,225.82 L404.52,228.71 L406.48,231.67 L408.44,234.71 L410.39,237.82 L412.35,241.00 L414.30,244.25 L416.25,247.56 L418.21,250.94 L420.16,254.37 L422.12,257.86 L424.08,261.40 L426.03,264.99 L427.99,268.62 L429.94,272.29 L431.89,276.01 L433.85,279.75 L435.81,283.53 L437.76,287.33 L439.72,291.15 L441.67,295.00 L443.62,298.85 L445.58,302.72 L447.54,306.59 L449.49,310.46 L451.45,314.34 L453.40,318.20 L455.36,322.06 L457.31,325.90 L459.26,329.72 L461.22,333.52 L463.17,337.30 L465.13,341.05 L467.09,344.76 L469.04,348.43 L471.00,352.07 L472.95,355.66 L474.91,359.20 L476.86,362.69 L478.82,366.13 L480.77,369.51 L482.73,372.84 L484.68,376.09 L486.63,379.29 L488.59,382.41 L490.55,385.47 L492.50,388.45 L494.46,391.36 L496.41,394.20 L498.37,396.95 L500.32,399.63 L502.27,402.22 L504.23,404.73 L506.18,407.16 L508.14,409.51 L510.10,411.77 L512.05,413.94 L514.00,416.03 L515.96,418.03 L517.92,419.94 L519.87,421.76 L521.83,423.50 L523.78,425.15 L525.74,426.72 L527.69,428.20 L529.65,429.59 L531.60,430.90 L533.56,432.12 L535.51,433.26 L537.47,434.32 L539.42,435.29 L541.38,436.19 L543.33,437.00 L545.29,437.74 L547.24,438.39 L549.20,438.97 L551.15,439.48 L553.11,439.91 L555.06,440.27 L557.01,440.55 L558.97,440.77 L560.92,440.92 L562.88,441.00 L564.84,441.01 L566.79,440.95 L568.75,440.84 L570.70,440.65 L572.66,440.41 L574.61,440.10 L576.57,439.74 L578.52,439.31 L580.48,438.83 L582.43,438.29 L584.39,437.69 L586.34,437.03 L588.30,436.32 L590.25,435.55 L592.21,434.73 L594.16,433.86 L596.12,432.93 L598.07,431.94 L600.02,430.91 L601.98,429.82 L603.94,428.67 L605.89,427.48 L607.85,426.23 L609.80,424.93" fill="none" stroke="#ff0000" stroke-width="3.6"/>
<line x1="140" y1="180.8" x2="376" y2="180.8" stroke="#a349a4" stroke-width="4"/>
<line x1="375.4" y1="183" x2="375.4" y2="443" stroke="#b0b0b0" stroke-width="1" stroke-dasharray="1.2 4.8"/>
<line x1="375.4" y1="181" x2="375.4" y2="443" stroke="#a349a4" stroke-width="4.2" stroke-dasharray="14.5 14.1" stroke-dashoffset="12.0"/>
<line x1="374" y1="443.3" x2="612" y2="443.3" stroke="#a349a4" stroke-width="3.6"/>
<line x1="140" y1="454.5" x2="375" y2="454.5" stroke="#000" stroke-width="1.1"/>
<rect x="374.3" y="445.6" width="235.5" height="8.8" fill="#000"/>
<line x1="140.6" y1="453.5" x2="140.6" y2="471.4" stroke="#000" stroke-width="2.6"/>
<line x1="257.9" y1="453.5" x2="257.9" y2="471.4" stroke="#000" stroke-width="2.6"/>
<line x1="375.2" y1="453.5" x2="375.2" y2="471.4" stroke="#000" stroke-width="2.6"/>
<line x1="492.5" y1="453.5" x2="492.5" y2="471.4" stroke="#000" stroke-width="2.6"/>
<line x1="609.8" y1="453.5" x2="609.8" y2="471.4" stroke="#000" stroke-width="2.6"/>
<text x="133.02" y="502.60" font-size="26" textLength="14.46" lengthAdjust="spacingAndGlyphs">0</text>
<text x="250.25" y="502.60" font-size="26" textLength="14.46" lengthAdjust="spacingAndGlyphs">6</text>
<text x="360.15" y="502.60" font-size="26" textLength="28.92" lengthAdjust="spacingAndGlyphs">12</text>
<text x="477.31" y="502.60" font-size="26" textLength="28.92" lengthAdjust="spacingAndGlyphs">18</text>
<text x="594.81" y="502.60" font-size="26" textLength="28.92" lengthAdjust="spacingAndGlyphs">24</text>
<text x="325.62" y="545.30" font-size="29" textLength="98.41" lengthAdjust="spacingAndGlyphs">ZT time</text>
<text x="54.00" y="190.30" font-size="29.5" textLength="55.17" lengthAdjust="spacingAndGlyphs">max</text>
<text x="63.47" y="451.60" font-size="29.5" textLength="47.91" lengthAdjust="spacingAndGlyphs">min</text>
<g transform="translate(33.40,0) rotate(-90)"><text x="-458.21" y="0.00" font-size="28" textLength="271.16" lengthAdjust="spacingAndGlyphs">Scaled effect (Z-score)</text></g>
<text x="14.24" y="40.30" font-size="53" font-weight="bold" textLength="29.00" lengthAdjust="spacingAndGlyphs">a</text>
<text x="770.85" y="40.00" font-size="53" font-weight="bold" textLength="36.17" lengthAdjust="spacingAndGlyphs">b</text>
<text x="691.88" y="159.60" font-size="25.5" textLength="75.07" lengthAdjust="spacingAndGlyphs">T cells</text>
<g transform="translate(750.6,216.3) rotate(35)"><ellipse cx="0" cy="0" rx="36.5" ry="24.8" fill="#f98080"/><ellipse cx="-4.9" cy="0.3" rx="22.6" ry="13.8" fill="#b93a28"/></g>
<line x1="846" y1="199.2" x2="930" y2="199.2" stroke="#000" stroke-width="4.5"/>
<polygon points="943.30,199.20 927.80,208.10 927.80,190.30" fill="#000"/>
<line x1="855" y1="219.8" x2="939.7" y2="219.8" stroke="#000" stroke-width="4.5"/>
<polygon points="842.20,219.80 857.70,210.90 857.70,228.70" fill="#000"/>
<text x="861.80" y="183.60" font-size="20.5" textLength="12.94" lengthAdjust="spacingAndGlyphs">A</text>
<text x="878.04" y="183.60" font-size="22" style="font-family:'Liberation Serif',serif;font-style:italic" textLength="6.11" lengthAdjust="spacingAndGlyphs">f</text>
<text x="885.31" y="189.40" font-size="11" style="font-family:'Liberation Serif',serif;font-style:italic" textLength="5.00" lengthAdjust="spacingAndGlyphs">l</text>
<text x="891.48" y="183.60" font-size="20" textLength="5.66" lengthAdjust="spacingAndGlyphs">(</text>
<text x="897.06" y="183.60" font-size="19" style="font-family:'DejaVu Sans',sans-serif" textLength="10.08" lengthAdjust="spacingAndGlyphs">ϕ</text>
<text x="905.78" y="183.60" font-size="14" textLength="16.22" lengthAdjust="spacingAndGlyphs">h,t</text>
<text x="922.71" y="183.60" font-size="20" textLength="6.16" lengthAdjust="spacingAndGlyphs">)</text>
<text x="865.01" y="245.50" font-size="16.5" textLength="11.00" lengthAdjust="spacingAndGlyphs">d</text><text x="879.64" y="245.50" font-size="22" style="font-family:'Liberation Serif',serif;font-style:italic" textLength="6.11" lengthAdjust="spacingAndGlyphs">f</text><text x="889.06" y="245.50" font-size="19" textLength="4.65" lengthAdjust="spacingAndGlyphs">(</text><text x="893.50" y="245.50" font-size="18.5" style="font-family:'DejaVu Sans',sans-serif" textLength="9.60" lengthAdjust="spacingAndGlyphs">ϕ</text><text x="904.47" y="252.50" font-size="11" textLength="7.34" lengthAdjust="spacingAndGlyphs">e</text><text x="912.51" y="245.50" font-size="19" textLength="5.78" lengthAdjust="spacingAndGlyphs">)</text>
<path d="M1009.8,153.1 Q946.8,108.7 904,146.5" fill="none" stroke="#000" stroke-width="3.4"/>
<polygon points="893.4,157.6 898.2,141.1 910.2,153.1" fill="#000"/>
<rect x="1004.7" y="160" width="305.3" height="208" rx="48" ry="32" fill="#dcdcdc"/>
<text x="1135.82" y="142.70" font-size="25" textLength="34.85" lengthAdjust="spacingAndGlyphs">LN</text>
<g transform="translate(1074.4,212.9) rotate(35)"><ellipse cx="0" cy="0" rx="36.5" ry="24.8" fill="#e96b6b"/><ellipse cx="-4.9" cy="0.3" rx="22.6" ry="13.8" fill="#b93a22"/></g>
<g transform="translate(1075.50,282.40) scale(0.08013) translate(-595,-642)"><path d="M575,365 C620,355 700,375 735,430 L750,452 C800,465 870,505 895,570 C905,620 880,680 850,725 C865,780 845,840 800,875 C740,900 650,905 595,915 C560,950 480,965 430,925 C395,890 375,850 350,790 C310,740 285,680 290,630 C295,560 330,510 380,470 C430,435 480,415 520,400 C540,385 555,372 575,365 Z" fill="#4a9cc8"/><path d="M585,375 C590,250 640,110 745,80" fill="none" stroke="#4a9cc8" stroke-width="38" stroke-linecap="butt"/><path d="M630,345 C690,280 760,230 815,238" fill="none" stroke="#4a9cc8" stroke-width="38" stroke-linecap="butt"/><path d="M775,460 C810,390 860,350 935,355" fill="none" stroke="#4a9cc8" stroke-width="38" stroke-linecap="butt"/><path d="M880,560 C1000,505 1250,470 1385,590" fill="none" stroke="#4a9cc8" stroke-width="38" stroke-linecap="butt"/><path d="M530,405 C430,370 300,370 250,440" fill="none" stroke="#4a9cc8" stroke-width="38" stroke-linecap="butt"/><path d="M305,625 C230,600 170,605 110,612" fill="none" stroke="#4a9cc8" stroke-width="38" stroke-linecap="butt"/><path d="M380,830 C300,870 200,890 100,888" fill="none" stroke="#4a9cc8" stroke-width="38" stroke-linecap="butt"/><path d="M405,870 C395,960 380,1030 340,1075" fill="none" stroke="#4a9cc8" stroke-width="38" stroke-linecap="butt"/><path d="M575,920 C575,1000 590,1060 620,1110" fill="none" stroke="#4a9cc8" stroke-width="38" stroke-linecap="butt"/><path d="M810,860 C835,920 850,980 855,1040" fill="none" stroke="#4a9cc8" stroke-width="38" stroke-linecap="butt"/><ellipse cx="595" cy="642" rx="120" ry="90" fill="#30449b"/></g>
<line x1="1125.8" y1="252.2" x2="1176" y2="252.2" stroke="#000" stroke-width="2.8"/>
<polygon points="1186.00,252.20 1174.00,258.60 1174.00,245.80" fill="#000"/>
<text x="1126.00" y="236.90" font-size="23.5" style="font-family:'Liberation Serif',serif" textLength="13.45" lengthAdjust="spacingAndGlyphs">σ</text>
<text x="1139.55" y="236.90" font-size="24.7" textLength="14.69" lengthAdjust="spacingAndGlyphs">v</text>
<text x="1153.98" y="245.80" font-size="14.8" style="font-family:'Liberation Serif',serif" textLength="19.48" lengthAdjust="spacingAndGlyphs">ZT</text>
<g transform="translate(1229,249.5) rotate(35)"><ellipse cx="0" cy="0" rx="36.5" ry="24.8" fill="#fbb040"/><ellipse cx="-4.9" cy="0.3" rx="22.6" ry="13.8" fill="#d0702f"/></g>
<path d="M1225.5,221 C1232,202 1262,200 1266.5,222 C1267.5,227 1266,232 1264.5,236" fill="none" stroke="#231f20" stroke-width="2.8"/>
<polygon points="1260,245.5 1258.5,232.5 1271.5,238.5" fill="#231f20"/>
<text x="1228.80" y="194.90" font-size="19" textLength="10.52" lengthAdjust="spacingAndGlyphs">ρ</text>
<text x="1242.95" y="194.90" font-size="20" style="font-family:'Liberation Serif',serif;font-style:italic" textLength="5.56" lengthAdjust="spacingAndGlyphs">f</text>
<text x="1252.13" y="194.90" font-size="19" textLength="5.40" lengthAdjust="spacingAndGlyphs">(</text>
<text x="1258.03" y="194.90" font-size="18.5" style="font-family:'DejaVu Sans',sans-serif" textLength="10.44" lengthAdjust="spacingAndGlyphs">ϕ</text>
<text x="1268.52" y="200.00" font-size="11" textLength="6.48" lengthAdjust="spacingAndGlyphs">P</text>
<text x="1276.22" y="194.90" font-size="19" textLength="5.66" lengthAdjust="spacingAndGlyphs">)</text>
<text x="1272.07" y="260.30" font-size="20.5" textLength="106.56" lengthAdjust="spacingAndGlyphs">proliferating</text>
<text x="1302.10" y="283.00" font-size="20.5" textLength="47.22" lengthAdjust="spacingAndGlyphs">T cell</text>
<line x1="1229.3" y1="291" x2="1229.3" y2="431" stroke="#000" stroke-width="3.5"/>
<polygon points="1229.30,444.50 1220.30,429.50 1238.30,429.50" fill="#000"/>
<text x="1245.21" y="395.00" font-size="16.5" textLength="11.00" lengthAdjust="spacingAndGlyphs">d</text><text x="1259.85" y="395.00" font-size="22" style="font-family:'Liberation Serif',serif;font-style:italic" textLength="6.11" lengthAdjust="spacingAndGlyphs">f</text><text x="1269.26" y="395.00" font-size="19" textLength="4.65" lengthAdjust="spacingAndGlyphs">(</text><text x="1273.70" y="395.00" font-size="18.5" style="font-family:'DejaVu Sans',sans-serif" textLength="9.60" lengthAdjust="spacingAndGlyphs">ϕ</text><text x="1284.67" y="402.00" font-size="11" textLength="7.34" lengthAdjust="spacingAndGlyphs">e</text><text x="1292.71" y="395.00" font-size="19" textLength="5.78" lengthAdjust="spacingAndGlyphs">)</text>
<path d="M1111.6,328 C1122,362 1150,384 1190,382.5 L1205,382.5" fill="none" stroke="#000" stroke-width="3.4"/>
<line x1="1206" y1="365.8" x2="1206" y2="396.5" stroke="#000" stroke-width="3.6"/>
<text x="683.40" y="371.50" font-size="19" textLength="67.89" lengthAdjust="spacingAndGlyphs">injection</text>
<text x="697.59" y="393.60" font-size="19" textLength="24.58" lengthAdjust="spacingAndGlyphs">at t</text>
<text x="723.07" y="399.30" font-size="9.5" textLength="13.57" lengthAdjust="spacingAndGlyphs">ZT</text>
<path d="M743.6,426 C746,400 770,390 802,389.9" fill="none" stroke="#000" stroke-width="4"/>
<polygon points="815.70,389.90 800.70,398.80 800.70,381.00" fill="#000"/>
<g transform="translate(852.60,416.40) scale(0.08013) translate(-595,-642)"><path d="M575,365 C620,355 700,375 735,430 L750,452 C800,465 870,505 895,570 C905,620 880,680 850,725 C865,780 845,840 800,875 C740,900 650,905 595,915 C560,950 480,965 430,925 C395,890 375,850 350,790 C310,740 285,680 290,630 C295,560 330,510 380,470 C430,435 480,415 520,400 C540,385 555,372 575,365 Z" fill="#4a9cc8"/><path d="M585,375 C590,250 640,110 745,80" fill="none" stroke="#4a9cc8" stroke-width="38" stroke-linecap="butt"/><path d="M630,345 C690,280 760,230 815,238" fill="none" stroke="#4a9cc8" stroke-width="38" stroke-linecap="butt"/><path d="M775,460 C810,390 860,350 935,355" fill="none" stroke="#4a9cc8" stroke-width="38" stroke-linecap="butt"/><path d="M880,560 C1000,505 1250,470 1385,590" fill="none" stroke="#4a9cc8" stroke-width="38" stroke-linecap="butt"/><path d="M530,405 C430,370 300,370 250,440" fill="none" stroke="#4a9cc8" stroke-width="38" stroke-linecap="butt"/><path d="M305,625 C230,600 170,605 110,612" fill="none" stroke="#4a9cc8" stroke-width="38" stroke-linecap="butt"/><path d="M380,830 C300,870 200,890 100,888" fill="none" stroke="#4a9cc8" stroke-width="38" stroke-linecap="butt"/><path d="M405,870 C395,960 380,1030 340,1075" fill="none" stroke="#4a9cc8" stroke-width="38" stroke-linecap="butt"/><path d="M575,920 C575,1000 590,1060 620,1110" fill="none" stroke="#4a9cc8" stroke-width="38" stroke-linecap="butt"/><path d="M810,860 C835,920 850,980 855,1040" fill="none" stroke="#4a9cc8" stroke-width="38" stroke-linecap="butt"/><ellipse cx="595" cy="642" rx="120" ry="90" fill="#30449b"/></g>
<text x="895.86" y="453.80" font-size="25.4" textLength="38.70" lengthAdjust="spacingAndGlyphs">DC</text>
<line x1="899" y1="382.3" x2="975" y2="349.4" stroke="#000" stroke-width="4"/>
<polygon points="987.50,344.00 976.19,358.16 969.44,342.55" fill="#000"/>
<g transform="translate(906.3,356.5) rotate(-23.4)"><text x="-0.91" y="0.00" font-size="19" style="font-family:'Liberation Serif',serif" textLength="11.96" lengthAdjust="spacingAndGlyphs">α</text><text x="13.65" y="0.00" font-size="20" style="font-family:'Liberation Serif',serif;font-style:italic" textLength="5.56" lengthAdjust="spacingAndGlyphs">f</text><text x="22.29" y="0.00" font-size="19" textLength="5.03" lengthAdjust="spacingAndGlyphs">(</text><text x="27.18" y="0.00" font-size="18.5" style="font-family:'DejaVu Sans',sans-serif" textLength="9.84" lengthAdjust="spacingAndGlyphs">ϕ</text><text x="36.32" y="5.00" font-size="11" textLength="7.02" lengthAdjust="spacingAndGlyphs">h</text><text x="43.42" y="0.00" font-size="19" textLength="5.66" lengthAdjust="spacingAndGlyphs">)</text></g>
<text x="1310.72" y="40.70" font-size="53" font-weight="bold" textLength="31.76" lengthAdjust="spacingAndGlyphs">c</text>
<line x1="1583.4" y1="290.3" x2="1947" y2="290.3" stroke="#000" stroke-width="3.3" stroke-dasharray="6.9 10.3"/>
<rect x="1596.60" y="105.78" width="20.60" height="299.22" fill="#92bff8" stroke="#000" stroke-width="2.0"/>
<rect x="1631.45" y="267.70" width="20.60" height="137.30" fill="#000080" stroke="#000" stroke-width="2.0"/>
<rect x="1689.95" y="206.17" width="20.60" height="198.83" fill="#92bff8" stroke="#000" stroke-width="2.0"/>
<rect x="1725.20" y="317.15" width="20.60" height="87.85" fill="#000080" stroke="#000" stroke-width="2.0"/>
<rect x="1783.40" y="189.50" width="20.60" height="215.50" fill="#92bff8" stroke="#000" stroke-width="2.0"/>
<rect x="1818.55" y="279.20" width="20.60" height="125.80" fill="#000080" stroke="#000" stroke-width="2.0"/>
<rect x="1876.70" y="290.70" width="20.60" height="114.30" fill="#92bff8" stroke="#000" stroke-width="2.0"/>
<rect x="1912.00" y="290.70" width="20.60" height="114.30" fill="#000080" stroke="#000" stroke-width="2.0"/>
<line x1="1606.9" y1="104.8" x2="1606.9" y2="85.3" stroke="#000" stroke-width="1.9"/><line x1="1601.2" y1="85.3" x2="1612.7" y2="85.3" stroke="#000" stroke-width="1.9"/>
<line x1="1793.7" y1="188.5" x2="1793.7" y2="178.5" stroke="#000" stroke-width="1.9"/><line x1="1788.0" y1="178.5" x2="1799.5" y2="178.5" stroke="#000" stroke-width="1.9"/>
<circle cx="1606.6" cy="66.0" r="6.8" fill="#fff" stroke="#000" stroke-width="1.9"/>
<circle cx="1602.0" cy="126.6" r="6.8" fill="#fff" stroke="#000" stroke-width="1.9"/>
<circle cx="1612.0" cy="120.5" r="6.8" fill="#fff" stroke="#000" stroke-width="1.9"/>
<circle cx="1637.0" cy="254.6" r="6.8" fill="#fff" stroke="#000" stroke-width="1.9"/>
<circle cx="1646.6" cy="267.8" r="6.8" fill="#fff" stroke="#000" stroke-width="1.9"/>
<circle cx="1637.0" cy="279.9" r="6.8" fill="#fff" stroke="#000" stroke-width="1.9"/>
<circle cx="1695.4" cy="196.9" r="6.8" fill="#fff" stroke="#000" stroke-width="1.9"/>
<circle cx="1705.0" cy="202.4" r="6.8" fill="#fff" stroke="#000" stroke-width="1.9"/>
<circle cx="1695.4" cy="214.9" r="6.8" fill="#fff" stroke="#000" stroke-width="1.9"/>
<circle cx="1735.6" cy="311.1" r="6.8" fill="#fff" stroke="#000" stroke-width="1.9"/>
<circle cx="1740.4" cy="312.3" r="6.8" fill="#fff" stroke="#000" stroke-width="1.9"/>
<circle cx="1730.8" cy="322.7" r="6.8" fill="#fff" stroke="#000" stroke-width="1.9"/>
<circle cx="1793.9" cy="168.6" r="6.8" fill="#fff" stroke="#000" stroke-width="1.9"/>
<circle cx="1789.2" cy="197.6" r="6.8" fill="#fff" stroke="#000" stroke-width="1.9"/>
<circle cx="1798.6" cy="197.2" r="6.8" fill="#fff" stroke="#000" stroke-width="1.9"/>
<circle cx="1829.4" cy="272.5" r="6.8" fill="#fff" stroke="#000" stroke-width="1.9"/>
<circle cx="1824.3" cy="277.2" r="6.8" fill="#fff" stroke="#000" stroke-width="1.9"/>
<circle cx="1833.8" cy="277.2" r="6.8" fill="#fff" stroke="#000" stroke-width="1.9"/>
<circle cx="1883.6" cy="290.3" r="6.8" fill="#fff" stroke="#000" stroke-width="1.9"/>
<circle cx="1892.0" cy="290.3" r="6.8" fill="#fff" stroke="#000" stroke-width="1.9"/>
<circle cx="1919.1" cy="290.3" r="6.8" fill="#fff" stroke="#000" stroke-width="1.9"/>
<circle cx="1926.6" cy="290.3" r="6.8" fill="#fff" stroke="#000" stroke-width="1.9"/>
<line x1="1583.2" y1="58.2" x2="1583.2" y2="406.5" stroke="#000" stroke-width="3.1"/>
<line x1="1568.4" y1="405" x2="1947.2" y2="405" stroke="#000" stroke-width="3.1"/>
<line x1="1568.7" y1="289.7" x2="1584" y2="289.7" stroke="#000" stroke-width="3.1"/>
<line x1="1568.7" y1="174.7" x2="1584" y2="174.7" stroke="#000" stroke-width="3.1"/>
<line x1="1568.7" y1="59.7" x2="1584" y2="59.7" stroke="#000" stroke-width="3.1"/>
<text x="1552.01" y="413.30" font-size="25" textLength="13.79" lengthAdjust="spacingAndGlyphs">0</text>
<text x="1553.64" y="298.30" font-size="25" textLength="12.27" lengthAdjust="spacingAndGlyphs">1</text>
<text x="1550.25" y="183.30" font-size="25" textLength="16.14" lengthAdjust="spacingAndGlyphs">2</text>
<text x="1550.48" y="68.30" font-size="25" textLength="15.57" lengthAdjust="spacingAndGlyphs">3</text>
<line x1="1624.3" y1="405" x2="1624.3" y2="420.5" stroke="#000" stroke-width="3.1"/>
<line x1="1717.8" y1="405" x2="1717.8" y2="420.5" stroke="#000" stroke-width="3.1"/>
<line x1="1811.3" y1="405" x2="1811.3" y2="420.5" stroke="#000" stroke-width="3.1"/>
<line x1="1904.8" y1="405" x2="1904.8" y2="420.5" stroke="#000" stroke-width="3.1"/>
<g transform="translate(1482.80,0) rotate(-90)"><text x="-280.76" y="0.00" font-size="26.5" textLength="112.64" lengthAdjust="spacingAndGlyphs">Fold ratio</text></g>
<g transform="translate(1515.80,0) rotate(-90)"><text x="-341.64" y="0.00" font-size="26" textLength="235.38" lengthAdjust="spacingAndGlyphs">(rel. to no rhythmic)</text></g>
<text x="1378.09" y="451.80" font-size="26" textLength="220.67" lengthAdjust="spacingAndGlyphs">Rhythmic homing:</text>
<text x="1326.61" y="492.00" font-size="26" textLength="272.15" lengthAdjust="spacingAndGlyphs">Rhythmic proliferation:</text>
<text x="1604.47" y="451.80" font-size="26" textLength="40.46" lengthAdjust="spacingAndGlyphs">yes</text>
<text x="1604.47" y="492.00" font-size="26" textLength="40.46" lengthAdjust="spacingAndGlyphs">yes</text>
<text x="1697.97" y="451.80" font-size="26" textLength="40.46" lengthAdjust="spacingAndGlyphs">yes</text>
<text x="1703.04" y="492.00" font-size="26" textLength="28.92" lengthAdjust="spacingAndGlyphs">no</text>
<text x="1796.54" y="451.80" font-size="26" textLength="28.92" lengthAdjust="spacingAndGlyphs">no</text>
<text x="1791.47" y="492.00" font-size="26" textLength="40.46" lengthAdjust="spacingAndGlyphs">yes</text>
<text x="1890.04" y="451.80" font-size="26" textLength="28.92" lengthAdjust="spacingAndGlyphs">no</text>
<text x="1890.04" y="492.00" font-size="26" textLength="28.92" lengthAdjust="spacingAndGlyphs">no</text>
<rect x="1832.5" y="71.7" width="34.5" height="13.5" fill="#92bff8" stroke="#000" stroke-width="1.6"/>
<rect x="1832.5" y="112.7" width="34.5" height="13.9" fill="#000080" stroke="#000" stroke-width="1.6"/>
<text x="1887.29" y="87.40" font-size="25.5" textLength="42.17" lengthAdjust="spacingAndGlyphs">ZT7</text>
<text x="1887.27" y="128.70" font-size="25.5" textLength="56.60" lengthAdjust="spacingAndGlyphs">ZT19</text>
<defs>
<radialGradient id="gGray" cx="0.5" cy="0.45" r="0.55"><stop offset="0" stop-color="#e2e2e2"/><stop offset="1" stop-color="#c2c2c2"/></radialGradient>
<radialGradient id="gBlue" cx="0.5" cy="0.5" r="0.55"><stop offset="0" stop-color="#b8cbe9"/><stop offset="1" stop-color="#8aa7db"/></radialGradient>
<linearGradient id="gOrIn" x1="0.15" y1="0.1" x2="0.85" y2="0.9"><stop offset="0" stop-color="#c55a11"/><stop offset="0.45" stop-color="#cd6a25"/><stop offset="1" stop-color="#eaa676"/></linearGradient>
<linearGradient id="gOrOut" x1="0" y1="0" x2="0" y2="1"><stop offset="0" stop-color="#f5b487"/><stop offset="0.6" stop-color="#f4ae7e"/><stop offset="1" stop-color="#f09a5c"/></linearGradient>
<linearGradient id="gApc" x1="27" y1="0" x2="239" y2="0" gradientUnits="userSpaceOnUse"><stop offset="0" stop-color="#98b4e2"/><stop offset="0.45" stop-color="#b4c8ea"/><stop offset="0.72" stop-color="#9ab3de"/><stop offset="1" stop-color="#3a62a0"/></linearGradient>
<linearGradient id="gCellG" x1="0" y1="0" x2="0" y2="1"><stop offset="0" stop-color="#c8c8c8"/><stop offset="0.5" stop-color="#dadada"/><stop offset="1" stop-color="#cbcbcb"/></linearGradient>
</defs>
<text x="14.19" y="602.40" font-size="53" font-weight="bold" textLength="36.77" lengthAdjust="spacingAndGlyphs">d</text>
<circle cx="231.2" cy="597" r="12.6" fill="url(#gGray)" stroke="#a5a5a5" stroke-width="1.7"/>
<circle cx="231.2" cy="636.1" r="12.4" fill="url(#gBlue)" stroke="#2f5597" stroke-width="2"/>
<circle cx="277" cy="618" r="28.4" fill="#fff" stroke="#000" stroke-width="5"/><circle cx="277.0" cy="597.0" r="1.75" fill="#000"/><circle cx="298.2" cy="618.0" r="1.75" fill="#000"/><circle cx="277.0" cy="639.2" r="1.75" fill="#000"/><circle cx="255.8" cy="618.0" r="1.75" fill="#000"/><path d="M277,602.4 L277,618 L288.3,629" fill="none" stroke="#000" stroke-width="3.6" stroke-linejoin="round"/>
<path d="M26.4,707.2 C45,703 80,695 98,690.5 C103,689 103.5,686 100,682 C95,677 92,673 95,670.5 C100,668 120,672 128,671.5 C132,671 134,668 137,664 C141,658 144,653 150,652.5 C158,652 170,660 183,666 C195,671 212,671 218,673 C222,674.5 222,677 218,678 C212,679 205,678.5 204,681 C206,685 228,696 235,700.5 C239,703 239.5,707 236,708.5 C230,709.5 215,707 201,706.2 L112,708 L26.4,707.2 Z" fill="url(#gApc)" stroke="#4472c4" stroke-width="2"/>
<circle cx="158.4" cy="691.3" r="12" fill="url(#gBlue)" stroke="#2f528f" stroke-width="2.1"/>
<path d="M6.7,703.8 L30,709.3 L60.7,699.8 L107.9,708 C109.5,708.5 110.3,709.5 110.3,711.1 L109.7,747.9 C109.6,749.5 107.5,750.8 105.4,751 L53.3,756.5 L3.7,746.7 C2,746 1.2,744.5 1.2,743 L2.5,713.6 C2.6,708 4,704 6.7,703.8 Z" fill="url(#gCellG)" stroke="#9a9a9a" stroke-width="2"/>
<rect x="112.2" y="706.8" width="122.6" height="44.8" rx="6" fill="url(#gCellG)" stroke="#9a9a9a" stroke-width="2"/>
<circle cx="86.4" cy="729.3" r="12.4" fill="url(#gGray)" stroke="#a0a0a0" stroke-width="1.8"/>
<circle cx="209" cy="729.3" r="12.4" fill="url(#gGray)" stroke="#a0a0a0" stroke-width="1.8"/>
<line x1="254.2" y1="703.8" x2="341.37" y2="754.71" stroke="#4472c4" stroke-width="4.2"/><polygon points="359.50,765.30 334.70,764.14 346.30,744.27" fill="#4472c4"/>
<text x="85.60" y="821.20" font-size="30.5" textLength="105.47" lengthAdjust="spacingAndGlyphs">Antigen</text>
<text x="63.60" y="858.40" font-size="30.5" textLength="149.26" lengthAdjust="spacingAndGlyphs">Presenting</text>
<text x="43.55" y="895.50" font-size="30.5" textLength="189.58" lengthAdjust="spacingAndGlyphs">Cell Migration</text>
<circle cx="457.6" cy="662.8" r="12.6" fill="url(#gGray)" stroke="#a5a5a5" stroke-width="1.7"/>
<circle cx="457.6" cy="695.3" r="12.4" fill="url(#gBlue)" stroke="#2f5597" stroke-width="2"/>
<circle cx="457.6" cy="730.3" r="13.2" fill="url(#gOrIn)" stroke="#ed7d31" stroke-width="1.6"/>
<circle cx="515.1" cy="693.8" r="28.4" fill="#fff" stroke="#000" stroke-width="5"/><circle cx="515.1" cy="672.8" r="1.75" fill="#000"/><circle cx="536.3" cy="693.8" r="1.75" fill="#000"/><circle cx="515.1" cy="715.0" r="1.75" fill="#000"/><circle cx="493.9" cy="693.8" r="1.75" fill="#000"/><path d="M515.1,678.1999999999999 L515.1,693.8 L526.4,704.8" fill="none" stroke="#000" stroke-width="3.6" stroke-linejoin="round"/>
<circle cx="421.2" cy="809" r="44.25" fill="none" stroke="#96da72" stroke-width="11.5"/>
<circle cx="421.2" cy="809" r="49.6" fill="none" stroke="#5f9f3a" stroke-width="1.4"/>
<circle cx="421.2" cy="809" r="38.8" fill="none" stroke="#86c962" stroke-width="1"/>
<g transform="translate(399.2,762.4) scale(1.0)"><ellipse cx="0" cy="0" rx="24.2" ry="23.3" fill="url(#gOrOut)" stroke="#ed7d31" stroke-width="1.6"/><ellipse cx="1.4" cy="-3.2" rx="15.3" ry="14.8" fill="url(#gOrIn)" stroke="#ed7d31" stroke-width="2"/></g>
<g transform="translate(365.4,805.9) scale(1.0)"><ellipse cx="0" cy="0" rx="24.2" ry="23.3" fill="url(#gOrOut)" stroke="#ed7d31" stroke-width="1.6"/><ellipse cx="1.4" cy="-3.2" rx="15.3" ry="14.8" fill="url(#gOrIn)" stroke="#ed7d31" stroke-width="2"/></g>
<g transform="translate(419.6,812.8) scale(1.0)"><ellipse cx="0" cy="0" rx="24.2" ry="23.3" fill="url(#gOrOut)" stroke="#ed7d31" stroke-width="1.6"/><ellipse cx="1.4" cy="-3.2" rx="15.3" ry="14.8" fill="url(#gOrIn)" stroke="#ed7d31" stroke-width="2"/></g>
<line x1="468.9" y1="776.8" x2="633.30" y2="776.80" stroke="#4472c4" stroke-width="4.2"/><polygon points="655.30,776.80 632.30,788.80 632.30,764.80" fill="#4472c4"/>
<text x="323.18" y="931.30" font-size="30.3" textLength="177.53" lengthAdjust="spacingAndGlyphs">Lymph Node</text>
<text x="333.09" y="968.70" font-size="30.3" textLength="158.65" lengthAdjust="spacingAndGlyphs">Response I</text>
<text x="326.35" y="1004.70" font-size="30.3" textLength="170.10" lengthAdjust="spacingAndGlyphs">(activation &amp;</text>
<text x="329.36" y="1045.30" font-size="30.3" textLength="167.16" lengthAdjust="spacingAndGlyphs">recruitment)</text>
<circle cx="779.6" cy="708.4" r="13.2" fill="url(#gOrIn)" stroke="#ed7d31" stroke-width="1.6"/>
<circle cx="834.3" cy="708.4" r="28.4" fill="#fff" stroke="#000" stroke-width="5"/><circle cx="834.3" cy="687.4" r="1.75" fill="#000"/><circle cx="855.5" cy="708.4" r="1.75" fill="#000"/><circle cx="834.3" cy="729.6" r="1.75" fill="#000"/><circle cx="813.1" cy="708.4" r="1.75" fill="#000"/><path d="M834.3,692.8 L834.3,708.4 L845.5999999999999,719.4" fill="none" stroke="#000" stroke-width="3.6" stroke-linejoin="round"/>
<g transform="translate(594.1,850.7) scale(1.0)"><ellipse cx="0" cy="0" rx="24.2" ry="23.3" fill="url(#gOrOut)" stroke="#ed7d31" stroke-width="1.6"/><ellipse cx="1.4" cy="-3.2" rx="15.3" ry="14.8" fill="url(#gOrIn)" stroke="#ed7d31" stroke-width="2"/></g>
<g transform="translate(667.4,849.8) scale(1.0)"><ellipse cx="0" cy="0" rx="24.2" ry="23.3" fill="url(#gOrOut)" stroke="#ed7d31" stroke-width="1.6"/><ellipse cx="1.4" cy="-3.2" rx="15.3" ry="14.8" fill="url(#gOrIn)" stroke="#ed7d31" stroke-width="2"/></g>
<g transform="translate(673.5,816.3) scale(1.0)"><ellipse cx="0" cy="0" rx="24.2" ry="23.3" fill="url(#gOrOut)" stroke="#ed7d31" stroke-width="1.6"/><ellipse cx="1.4" cy="-3.2" rx="15.3" ry="14.8" fill="url(#gOrIn)" stroke="#ed7d31" stroke-width="2"/></g>
<g transform="translate(733.4,869.6) scale(1.0)"><ellipse cx="0" cy="0" rx="24.2" ry="23.3" fill="url(#gOrOut)" stroke="#ed7d31" stroke-width="1.6"/><ellipse cx="1.4" cy="-3.2" rx="15.3" ry="14.8" fill="url(#gOrIn)" stroke="#ed7d31" stroke-width="2"/></g>
<g transform="translate(750.1,843.1) scale(1.0)"><ellipse cx="0" cy="0" rx="24.2" ry="23.3" fill="url(#gOrOut)" stroke="#ed7d31" stroke-width="1.6"/><ellipse cx="1.4" cy="-3.2" rx="15.3" ry="14.8" fill="url(#gOrIn)" stroke="#ed7d31" stroke-width="2"/></g>
<g transform="translate(738.9,812.7) scale(1.0)"><ellipse cx="0" cy="0" rx="24.2" ry="23.3" fill="url(#gOrOut)" stroke="#ed7d31" stroke-width="1.6"/><ellipse cx="1.4" cy="-3.2" rx="15.3" ry="14.8" fill="url(#gOrIn)" stroke="#ed7d31" stroke-width="2"/></g>
<g transform="translate(769.3,785.3) scale(1.0)"><ellipse cx="0" cy="0" rx="24.2" ry="23.3" fill="url(#gOrOut)" stroke="#ed7d31" stroke-width="1.6"/><ellipse cx="1.4" cy="-3.2" rx="15.3" ry="14.8" fill="url(#gOrIn)" stroke="#ed7d31" stroke-width="2"/></g>
<line x1="794.8" y1="811.8" x2="917.96" y2="881.12" stroke="#4472c4" stroke-width="4.2"/><polygon points="938.00,892.40 911.44,890.65 922.73,870.61" fill="#4472c4"/>
<text x="604.27" y="931.30" font-size="30.3" textLength="178.25" lengthAdjust="spacingAndGlyphs">Lymph Node</text>
<text x="608.95" y="968.70" font-size="30.3" textLength="170.27" lengthAdjust="spacingAndGlyphs">Response II</text>
<text x="601.81" y="1004.70" font-size="30.3" textLength="185.42" lengthAdjust="spacingAndGlyphs">(proliferation)</text>
<circle cx="1015.5" cy="855.3" r="28.4" fill="#fff" stroke="#000" stroke-width="5"/><circle cx="1015.5" cy="834.3" r="1.75" fill="#000"/><circle cx="1036.7" cy="855.3" r="1.75" fill="#000"/><circle cx="1015.5" cy="876.5" r="1.75" fill="#000"/><circle cx="994.3" cy="855.3" r="1.75" fill="#000"/><path d="M1015.5,839.6999999999999 L1015.5,855.3 L1026.8,866.3" fill="none" stroke="#000" stroke-width="3.6" stroke-linejoin="round"/>
<g transform="translate(972.4,924.3) scale(1.0)"><ellipse cx="0" cy="0" rx="24.2" ry="23.3" fill="url(#gOrOut)" stroke="#ed7d31" stroke-width="1.6"/><ellipse cx="1.4" cy="-3.2" rx="15.3" ry="14.8" fill="url(#gOrIn)" stroke="#ed7d31" stroke-width="2"/></g>
<text x="871.80" y="1001.60" font-size="30.3" textLength="152.80" lengthAdjust="spacingAndGlyphs">Long Term</text>
<text x="884.50" y="1037.70" font-size="30.3" textLength="126.04" lengthAdjust="spacingAndGlyphs">Immunity</text>
<text x="871.34" y="1074.20" font-size="30.3" textLength="151.87" lengthAdjust="spacingAndGlyphs">(memory &amp;</text>
<text x="862.44" y="1114.60" font-size="30.3" textLength="172.73" lengthAdjust="spacingAndGlyphs">reactivation)</text>
<text x="1081.58" y="601.70" font-size="53" font-weight="bold" textLength="32.21" lengthAdjust="spacingAndGlyphs">e</text>
<text x="1283.36" y="615.70" font-size="31.3" textLength="139.57" lengthAdjust="spacingAndGlyphs">Total cells</text>
<rect x="1281.05" y="789.20" width="20.60" height="227.80" fill="#92bff8" stroke="#000" stroke-width="2.0"/>
<rect x="1317.35" y="924.40" width="20.60" height="92.60" fill="#000080" stroke="#000" stroke-width="2.0"/>
<rect x="1377.25" y="896.20" width="20.60" height="120.80" fill="#92bff8" stroke="#000" stroke-width="2.0"/>
<rect x="1413.35" y="900.00" width="20.60" height="117.00" fill="#000080" stroke="#000" stroke-width="2.0"/>
<line x1="1291.3" y1="788.2" x2="1291.3" y2="767.0" stroke="#000" stroke-width="1.9"/><line x1="1285.6" y1="767.0" x2="1297.1" y2="767.0" stroke="#000" stroke-width="1.9"/>
<line x1="1327.7" y1="923.4" x2="1327.7" y2="904.8" stroke="#000" stroke-width="1.9"/><line x1="1321.9" y1="904.8" x2="1333.4" y2="904.8" stroke="#000" stroke-width="1.9"/>
<line x1="1387.5" y1="895.2" x2="1387.5" y2="852" stroke="#000" stroke-width="1.9"/>
<line x1="1423.7" y1="899.0" x2="1423.7" y2="852.4" stroke="#000" stroke-width="1.9"/><line x1="1417.9" y1="852.4" x2="1429.4" y2="852.4" stroke="#000" stroke-width="1.9"/>
<circle cx="1291.0" cy="728.2" r="6.8" fill="#fff" stroke="#000" stroke-width="1.9"/>
<circle cx="1291.0" cy="743.8" r="6.8" fill="#fff" stroke="#000" stroke-width="1.9"/>
<circle cx="1291.0" cy="759.8" r="6.8" fill="#fff" stroke="#000" stroke-width="1.9"/>
<circle cx="1286.2" cy="811.6" r="6.8" fill="#fff" stroke="#000" stroke-width="1.9"/>
<circle cx="1296.2" cy="823.1" r="6.8" fill="#fff" stroke="#000" stroke-width="1.9"/>
<circle cx="1290.8" cy="860.0" r="6.8" fill="#fff" stroke="#000" stroke-width="1.9"/>
<circle cx="1327.0" cy="828.6" r="6.8" fill="#fff" stroke="#000" stroke-width="1.9"/>
<circle cx="1327.6" cy="892.0" r="6.8" fill="#fff" stroke="#000" stroke-width="1.9"/>
<circle cx="1327.6" cy="920.8" r="6.8" fill="#fff" stroke="#000" stroke-width="1.9"/>
<circle cx="1332.5" cy="943.9" r="6.8" fill="#fff" stroke="#000" stroke-width="1.9"/>
<circle cx="1327.2" cy="950.8" r="6.8" fill="#fff" stroke="#000" stroke-width="1.9"/>
<circle cx="1332.5" cy="959.3" r="6.8" fill="#fff" stroke="#000" stroke-width="1.9"/>
<circle cx="1322.2" cy="964.2" r="6.8" fill="#fff" stroke="#000" stroke-width="1.9"/>
<circle cx="1382.3" cy="843.9" r="6.8" fill="#fff" stroke="#000" stroke-width="1.9"/>
<circle cx="1392.3" cy="854.2" r="6.8" fill="#fff" stroke="#000" stroke-width="1.9"/>
<circle cx="1387.0" cy="986.4" r="6.8" fill="#fff" stroke="#000" stroke-width="1.9"/>
<circle cx="1423.0" cy="811.5" r="6.8" fill="#fff" stroke="#000" stroke-width="1.9"/>
<circle cx="1423.3" cy="918.0" r="6.8" fill="#fff" stroke="#000" stroke-width="1.9"/>
<circle cx="1423.3" cy="965.7" r="6.8" fill="#fff" stroke="#000" stroke-width="1.9"/>
<path d="M1291,713.3 L1291,704.2 L1327.4,704.2 L1327.4,811" fill="none" stroke="#000" stroke-width="1.8"/>
<text x="1271.61" y="696.80" font-size="17" textLength="75.09" lengthAdjust="spacingAndGlyphs">P=0.0046</text>
<line x1="1267.5" y1="671.8" x2="1267.5" y2="1018.5" stroke="#000" stroke-width="3.1"/>
<line x1="1253" y1="1017" x2="1449" y2="1017" stroke="#000" stroke-width="3.1"/>
<line x1="1253" y1="1016.6" x2="1267.5" y2="1016.6" stroke="#000" stroke-width="3.1"/>
<text x="1213.47" y="1025.20" font-size="26" textLength="36.14" lengthAdjust="spacingAndGlyphs">0.0</text>
<line x1="1253" y1="902.2" x2="1267.5" y2="902.2" stroke="#000" stroke-width="3.1"/>
<text x="1213.60" y="910.80" font-size="26" textLength="36.14" lengthAdjust="spacingAndGlyphs">0.5</text>
<line x1="1253" y1="787.8" x2="1267.5" y2="787.8" stroke="#000" stroke-width="3.1"/>
<text x="1213.47" y="796.40" font-size="26" textLength="36.14" lengthAdjust="spacingAndGlyphs">1.0</text>
<line x1="1253" y1="673.4" x2="1267.5" y2="673.4" stroke="#000" stroke-width="3.1"/>
<text x="1213.60" y="682.00" font-size="26" textLength="36.14" lengthAdjust="spacingAndGlyphs">1.5</text>
<line x1="1309" y1="1017" x2="1309" y2="1031.5" stroke="#000" stroke-width="3.1"/>
<line x1="1405.2" y1="1017" x2="1405.2" y2="1031.5" stroke="#000" stroke-width="3.1"/>
<text x="1289.67" y="1057.60" font-size="24.8" textLength="40.14" lengthAdjust="spacingAndGlyphs">WT</text>
<text x="1339.98" y="1057.60" font-size="24.8" textLength="71.65" lengthAdjust="spacingAndGlyphs">Bmal1</text>
<text x="1413.08" y="1046.30" font-size="17.6" textLength="55.34" lengthAdjust="spacingAndGlyphs">ΔTcell</text>
<g transform="translate(1152.30,0) rotate(-90)"><text x="-908.97" y="0.00" font-size="26.8" textLength="126.58" lengthAdjust="spacingAndGlyphs">No of cells</text></g><g transform="translate(1184.60,0) rotate(-90)"><text x="-963.84" y="0.00" font-size="26.5" textLength="237.80" lengthAdjust="spacingAndGlyphs">(normalized to ZT7)</text></g>
<rect x="1460.6000000000001" y="719.0" width="34.0" height="13.2" fill="#92bff8" stroke="#000" stroke-width="1.5"/><rect x="1460.6000000000001" y="760.3000000000001" width="34.0" height="13.2" fill="#000080" stroke="#000" stroke-width="1.5"/><text x="1515.27" y="734.60" font-size="26.4" textLength="43.32" lengthAdjust="spacingAndGlyphs">ZT7</text><text x="1515.26" y="775.80" font-size="26.4" textLength="57.42" lengthAdjust="spacingAndGlyphs">ZT19</text>
<text x="1573.03" y="601.70" font-size="53" font-weight="bold" textLength="21.54" lengthAdjust="spacingAndGlyphs">f</text>
<text x="1770.07" y="615.70" font-size="31.3" textLength="137.54" lengthAdjust="spacingAndGlyphs">Total cells</text>
<rect x="1758.25" y="884.70" width="20.80" height="133.30" fill="#92bff8" stroke="#000" stroke-width="2.0"/>
<rect x="1793.55" y="941.50" width="20.80" height="76.50" fill="#000080" stroke="#000" stroke-width="2.0"/>
<rect x="1852.65" y="964.20" width="20.80" height="53.80" fill="#92bff8" stroke="#000" stroke-width="2.0"/>
<rect x="1888.20" y="968.20" width="20.80" height="49.80" fill="#000080" stroke="#000" stroke-width="2.0"/>
<line x1="1768.7" y1="883.7" x2="1768.7" y2="857.4" stroke="#000" stroke-width="1.9"/><line x1="1762.9" y1="857.4" x2="1774.4" y2="857.4" stroke="#000" stroke-width="1.9"/>
<line x1="1804.0" y1="940.5" x2="1804.0" y2="925.0" stroke="#000" stroke-width="1.9"/><line x1="1798.2" y1="925.0" x2="1809.7" y2="925.0" stroke="#000" stroke-width="1.9"/>
<line x1="1863.0" y1="963.2" x2="1863.0" y2="955.0" stroke="#000" stroke-width="1.9"/><line x1="1857.3" y1="955.0" x2="1868.8" y2="955.0" stroke="#000" stroke-width="1.9"/>
<line x1="1898.6" y1="967.2" x2="1898.6" y2="959.7" stroke="#000" stroke-width="1.9"/><line x1="1892.8" y1="959.7" x2="1904.3" y2="959.7" stroke="#000" stroke-width="1.9"/>
<circle cx="1768.2" cy="749.0" r="6.8" fill="#fff" stroke="#000" stroke-width="1.9"/>
<circle cx="1768.2" cy="841.7" r="6.8" fill="#fff" stroke="#000" stroke-width="1.9"/>
<circle cx="1763.1" cy="890.8" r="6.8" fill="#fff" stroke="#000" stroke-width="1.9"/>
<circle cx="1773.3" cy="895.5" r="6.8" fill="#fff" stroke="#000" stroke-width="1.9"/>
<circle cx="1763.5" cy="922.1" r="6.8" fill="#fff" stroke="#000" stroke-width="1.9"/>
<circle cx="1773.3" cy="925.4" r="6.8" fill="#fff" stroke="#000" stroke-width="1.9"/>
<circle cx="1768.0" cy="958.7" r="6.8" fill="#fff" stroke="#000" stroke-width="1.9"/>
<circle cx="1800.3" cy="912.3" r="6.8" fill="#fff" stroke="#000" stroke-width="1.9"/>
<circle cx="1803.3" cy="908.4" r="6.8" fill="#fff" stroke="#000" stroke-width="1.9"/>
<circle cx="1809.1" cy="916.6" r="6.8" fill="#fff" stroke="#000" stroke-width="1.9"/>
<circle cx="1798.4" cy="924.5" r="6.8" fill="#fff" stroke="#000" stroke-width="1.9"/>
<circle cx="1803.3" cy="930.9" r="6.8" fill="#fff" stroke="#000" stroke-width="1.9"/>
<circle cx="1800.3" cy="946.0" r="6.8" fill="#fff" stroke="#000" stroke-width="1.9"/>
<circle cx="1804.8" cy="943.7" r="6.8" fill="#fff" stroke="#000" stroke-width="1.9"/>
<circle cx="1803.3" cy="958.3" r="6.8" fill="#fff" stroke="#000" stroke-width="1.9"/>
<circle cx="1805.2" cy="984.2" r="6.8" fill="#fff" stroke="#000" stroke-width="1.9"/>
<circle cx="1802.3" cy="993.0" r="6.8" fill="#fff" stroke="#000" stroke-width="1.9"/>
<circle cx="1862.6" cy="924.8" r="6.8" fill="#fff" stroke="#000" stroke-width="1.9"/>
<circle cx="1862.6" cy="949.3" r="6.8" fill="#fff" stroke="#000" stroke-width="1.9"/>
<circle cx="1862.6" cy="967.0" r="6.8" fill="#fff" stroke="#000" stroke-width="1.9"/>
<circle cx="1867.9" cy="982.2" r="6.8" fill="#fff" stroke="#000" stroke-width="1.9"/>
<circle cx="1858.1" cy="993.0" r="6.8" fill="#fff" stroke="#000" stroke-width="1.9"/>
<circle cx="1897.9" cy="947.4" r="6.8" fill="#fff" stroke="#000" stroke-width="1.9"/>
<circle cx="1893.4" cy="965.6" r="6.8" fill="#fff" stroke="#000" stroke-width="1.9"/>
<circle cx="1903.6" cy="973.4" r="6.8" fill="#fff" stroke="#000" stroke-width="1.9"/>
<circle cx="1893.4" cy="981.7" r="6.8" fill="#fff" stroke="#000" stroke-width="1.9"/>
<path d="M1768.2,733 L1768.2,727.7 L1803.2,727.7 L1803.2,891.1" fill="none" stroke="#000" stroke-width="1.8"/>
<path d="M1768.2,702.7 L1768.2,690 L1862.5,690 L1862.5,905.8" fill="none" stroke="#000" stroke-width="1.8"/>
<text x="1777.40" y="682.80" font-size="17" textLength="75.28" lengthAdjust="spacingAndGlyphs">P=0.0179</text>
<text x="1748.12" y="720.20" font-size="17" textLength="74.25" lengthAdjust="spacingAndGlyphs">P=0.0481</text>
<line x1="1745" y1="679" x2="1745" y2="1019.4" stroke="#000" stroke-width="3.1"/>
<line x1="1730.8" y1="1017.9" x2="1922.8" y2="1017.9" stroke="#000" stroke-width="3.1"/>
<line x1="1730.8" y1="1017.7" x2="1745" y2="1017.7" stroke="#000" stroke-width="3.1"/>
<text x="1691.37" y="1026.10" font-size="26" textLength="36.14" lengthAdjust="spacingAndGlyphs">0.0</text>
<line x1="1730.8" y1="950.3" x2="1745" y2="950.3" stroke="#000" stroke-width="3.1"/>
<text x="1691.50" y="958.70" font-size="26" textLength="36.14" lengthAdjust="spacingAndGlyphs">0.5</text>
<line x1="1730.8" y1="882.9" x2="1745" y2="882.9" stroke="#000" stroke-width="3.1"/>
<text x="1691.37" y="891.30" font-size="26" textLength="36.14" lengthAdjust="spacingAndGlyphs">1.0</text>
<line x1="1730.8" y1="815.5" x2="1745" y2="815.5" stroke="#000" stroke-width="3.1"/>
<text x="1691.50" y="823.90" font-size="26" textLength="36.14" lengthAdjust="spacingAndGlyphs">1.5</text>
<line x1="1730.8" y1="748.1" x2="1745" y2="748.1" stroke="#000" stroke-width="3.1"/>
<text x="1691.37" y="756.50" font-size="26" textLength="36.14" lengthAdjust="spacingAndGlyphs">2.0</text>
<line x1="1730.8" y1="680.7" x2="1745" y2="680.7" stroke="#000" stroke-width="3.1"/>
<text x="1691.50" y="689.10" font-size="26" textLength="36.14" lengthAdjust="spacingAndGlyphs">2.5</text>
<line x1="1785.2" y1="1017.9" x2="1785.2" y2="1032.6" stroke="#000" stroke-width="3.1"/>
<line x1="1880.3" y1="1017.9" x2="1880.3" y2="1032.6" stroke="#000" stroke-width="3.1"/>
<text x="1766.88" y="1058.00" font-size="24.8" textLength="38.82" lengthAdjust="spacingAndGlyphs">WT</text>
<text x="1815.98" y="1058.00" font-size="24.8" textLength="71.65" lengthAdjust="spacingAndGlyphs">Bmal1</text>
<text x="1888.89" y="1046.00" font-size="17.6" textLength="53.89" lengthAdjust="spacingAndGlyphs">ΔTcell</text>
<g transform="translate(1631.10,0) rotate(-90)"><text x="-909.27" y="0.00" font-size="26.8" textLength="126.58" lengthAdjust="spacingAndGlyphs">No of cells</text></g><g transform="translate(1664.10,0) rotate(-90)"><text x="-964.14" y="0.00" font-size="26.5" textLength="237.80" lengthAdjust="spacingAndGlyphs">(normalized to ZT7)</text></g>
<rect x="1927.0" y="717.4000000000001" width="34.0" height="13.2" fill="#92bff8" stroke="#000" stroke-width="1.5"/><rect x="1927.0" y="758.8000000000001" width="34.0" height="13.2" fill="#000080" stroke="#000" stroke-width="1.5"/><text x="1981.87" y="732.70" font-size="26.4" textLength="43.32" lengthAdjust="spacingAndGlyphs">ZT7</text><text x="1981.86" y="774.10" font-size="26.4" textLength="57.42" lengthAdjust="spacingAndGlyphs">ZT19</text>
</svg>
</body></html>
